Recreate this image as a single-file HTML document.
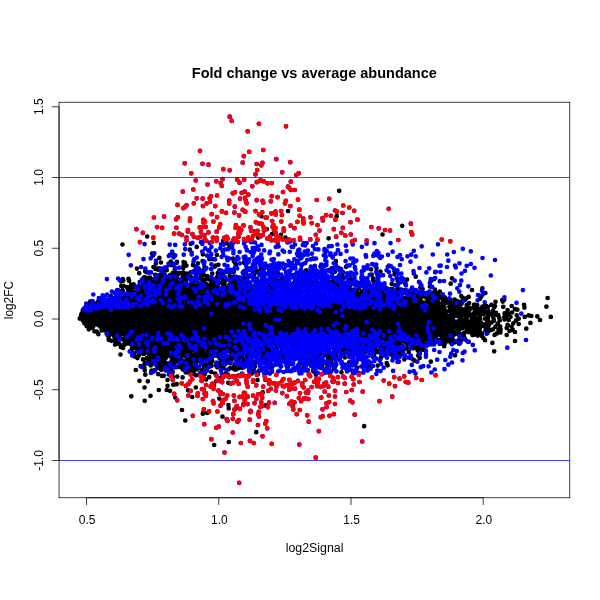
<!DOCTYPE html>
<html><head><meta charset="utf-8"><title>Fold change vs average abundance</title>
<style>
html,body{margin:0;padding:0;background:#fff;}
svg{display:block;}
text{font-family:"Liberation Sans",sans-serif;fill:#000;}
</style></head><body>
<svg width="600" height="600" viewBox="0 0 600 600">
<rect width="600" height="600" fill="#fff"/>
<g fill="none" stroke-linecap="round" stroke-width="4.7">
<path stroke="#000" d="M255.3 267.1h.01M346.1 266.8h.01M212.3 273.5h.01M233.0 258.6h.01M321.0 354.0h.01M183.7 272.6h.01M342.1 349.5h.01M459.3 308.4h.01M271.4 289.0h.01M298.7 364.7h.01M328.0 277.0h.01M283.4 361.3h.01M334.0 351.5h.01M89.6 306.4h.01M213.4 283.2h.01M276.2 356.4h.01M454.2 302.6h.01M396.5 290.4h.01M329.0 366.7h.01M350.5 289.3h.01M169.4 281.2h.01M461.0 340.7h.01M469.1 303.1h.01M455.4 322.3h.01M390.9 354.5h.01M217.8 273.1h.01M329.1 357.7h.01M361.3 282.1h.01M413.8 333.7h.01M96.4 324.3h.01M258.2 271.1h.01M420.3 287.5h.01M210.0 363.6h.01M404.4 292.9h.01M385.4 294.9h.01M158.6 275.7h.01M303.3 367.9h.01M454.6 342.5h.01M354.6 363.1h.01M380.5 289.9h.01M276.0 344.3h.01M458.3 301.6h.01M334.9 271.7h.01M133.6 284.3h.01M330.0 282.2h.01M122.8 279.2h.01M265.3 405.4h.01M348.5 280.2h.01M396.2 306.2h.01M286.1 272.4h.01M331.6 268.4h.01M465.0 325.5h.01M386.5 288.3h.01M498.5 329.7h.01M219.3 398.6h.01M188.4 361.5h.01M254.6 272.9h.01M455.9 311.0h.01M491.3 322.6h.01M327.9 359.3h.01M251.3 359.5h.01M394.6 354.4h.01M177.1 273.8h.01M430.7 281.2h.01M125.6 337.2h.01M343.1 272.4h.01M335.9 261.2h.01M120.9 281.3h.01M374.5 358.7h.01M220.7 359.5h.01M485.1 318.7h.01M230.2 368.2h.01M185.3 356.3h.01M407.0 279.6h.01M281.7 359.1h.01M368.3 367.7h.01M326.5 354.2h.01M343.3 278.4h.01M128.5 278.9h.01M484.0 310.1h.01M165.5 358.3h.01M453.9 306.3h.01M465.2 315.3h.01M155.4 269.0h.01M421.7 345.7h.01M163.8 270.9h.01M398.7 352.9h.01M326.9 372.2h.01M205.0 269.4h.01M101.6 327.7h.01M211.2 371.9h.01M153.4 282.9h.01M444.9 343.3h.01M204.9 373.8h.01M235.7 280.4h.01M163.4 273.1h.01M435.3 293.9h.01M120.8 347.0h.01M223.2 368.5h.01M249.9 291.4h.01M307.9 370.1h.01M455.9 316.0h.01M361.7 292.4h.01M190.7 361.6h.01M201.1 360.5h.01M436.8 323.7h.01M213.7 285.3h.01M202.9 254.3h.01M390.1 348.7h.01M168.8 374.5h.01M251.9 373.4h.01M132.7 352.6h.01M440.9 339.6h.01M129.1 343.5h.01M333.7 368.6h.01M441.0 335.6h.01M414.9 347.7h.01M441.7 334.3h.01M221.5 359.5h.01M417.8 350.6h.01M172.7 377.1h.01M182.6 276.7h.01M312.5 281.9h.01M434.9 289.7h.01M402.6 352.2h.01M182.6 377.4h.01M124.9 338.7h.01M411.8 332.9h.01M186.5 279.5h.01M199.9 373.3h.01M170.8 261.5h.01M484.6 313.6h.01M143.4 278.0h.01M228.6 369.3h.01M348.3 350.5h.01M189.1 369.0h.01M148.8 277.9h.01M265.8 341.2h.01M82.8 311.8h.01M290.1 360.3h.01M195.6 276.5h.01M140.0 288.5h.01M400.8 282.1h.01M230.1 356.9h.01M492.4 342.9h.01M206.1 379.6h.01M191.0 289.5h.01M81.3 314.3h.01M444.9 338.4h.01M148.4 363.1h.01M261.4 353.2h.01M465.4 339.6h.01M314.9 273.6h.01M243.8 361.1h.01M233.7 272.0h.01M475.0 314.8h.01M397.3 350.1h.01M172.5 372.7h.01M209.4 259.2h.01M98.4 324.9h.01M456.4 300.8h.01M161.4 369.8h.01M408.1 292.0h.01M436.6 341.8h.01M119.7 335.0h.01M157.3 350.0h.01M346.5 347.6h.01M231.5 353.4h.01M153.0 255.5h.01M231.9 349.6h.01M476.3 310.0h.01M466.9 326.4h.01M196.3 366.9h.01M310.6 360.9h.01M454.9 303.2h.01M375.6 352.0h.01M179.5 360.2h.01M168.7 263.5h.01M126.4 343.6h.01M467.5 316.1h.01M81.8 314.3h.01M374.1 355.6h.01M244.2 288.0h.01M479.4 314.4h.01M376.5 268.0h.01M223.2 360.9h.01M142.8 288.0h.01M152.0 253.5h.01M128.0 290.1h.01M158.8 367.1h.01M165.6 347.9h.01M449.3 311.2h.01M183.5 265.9h.01M475.4 328.0h.01M403.0 351.4h.01M483.3 312.9h.01M130.3 351.3h.01M230.5 363.3h.01M116.4 332.8h.01M143.3 282.5h.01M371.1 269.4h.01M264.4 355.1h.01M204.8 348.0h.01M90.2 301.6h.01M401.4 299.7h.01M349.2 286.9h.01M203.2 412.7h.01M394.2 341.5h.01M327.7 364.9h.01M500.6 329.5h.01M193.5 271.3h.01M418.7 350.2h.01M480.0 298.8h.01M226.6 243.2h.01M140.7 366.2h.01M432.4 300.5h.01M368.0 293.9h.01M136.5 349.1h.01M437.7 301.3h.01M485.0 340.2h.01M434.8 290.9h.01M461.9 301.6h.01M134.6 347.7h.01M446.5 323.2h.01M246.7 267.6h.01M480.3 327.0h.01M233.3 352.7h.01M215.4 265.7h.01M205.8 279.6h.01M198.8 367.7h.01M223.1 273.3h.01M153.5 267.1h.01M357.1 367.7h.01M160.9 262.5h.01M488.2 311.2h.01M420.6 347.7h.01M395.5 351.9h.01M461.3 296.0h.01M467.9 327.6h.01M177.0 261.9h.01M257.5 380.1h.01M320.6 266.8h.01M182.9 272.7h.01M236.3 359.4h.01M207.4 352.1h.01M184.5 276.1h.01M504.5 319.5h.01M288.7 280.3h.01M200.5 277.5h.01M446.2 311.3h.01M454.6 332.0h.01M234.4 369.4h.01M212.3 361.3h.01M369.0 290.7h.01M108.9 335.4h.01M117.0 290.3h.01M478.5 328.3h.01M203.1 273.1h.01M183.1 277.9h.01M215.8 365.3h.01M360.1 294.4h.01M174.7 269.7h.01M381.0 357.4h.01M176.4 367.1h.01M108.7 339.8h.01M286.3 286.7h.01M315.9 359.2h.01M458.2 329.1h.01M490.5 330.2h.01M504.6 313.4h.01M479.6 329.9h.01M479.8 316.2h.01M138.7 355.7h.01M383.1 290.2h.01M476.9 327.3h.01M209.6 285.0h.01M438.3 303.2h.01M463.8 334.5h.01M213.9 385.2h.01M123.5 339.8h.01M309.0 351.1h.01M134.4 356.5h.01M445.4 322.5h.01M474.2 334.7h.01M479.6 323.5h.01M466.7 319.7h.01M157.8 275.8h.01M340.9 276.6h.01M391.9 351.0h.01M167.6 354.3h.01M285.7 265.3h.01M196.6 356.5h.01M221.2 288.7h.01M202.8 270.6h.01M471.0 325.5h.01M448.7 340.6h.01M220.9 275.4h.01M124.0 344.9h.01M161.3 276.8h.01M384.4 298.9h.01M441.2 333.3h.01M466.7 305.0h.01M472.6 328.1h.01M178.2 354.8h.01M218.4 264.8h.01M269.3 381.7h.01M203.5 282.8h.01M342.7 276.5h.01M166.5 276.9h.01M412.8 290.9h.01M82.8 310.3h.01M441.3 324.5h.01M458.0 312.8h.01M478.7 308.8h.01M314.1 280.6h.01M253.5 279.1h.01M189.4 288.6h.01M182.5 363.5h.01M472.3 329.9h.01M233.8 285.8h.01M210.4 286.0h.01M335.0 354.9h.01M150.8 365.4h.01M420.8 301.7h.01M430.4 295.8h.01M351.6 349.4h.01M294.9 288.5h.01M125.7 340.0h.01M394.4 270.9h.01M380.4 344.0h.01M370.2 294.7h.01M421.6 296.9h.01M236.9 351.6h.01M377.2 351.0h.01M483.2 314.2h.01M123.3 280.6h.01M363.4 364.8h.01M154.9 279.6h.01M196.6 369.4h.01M195.9 364.4h.01M450.0 310.7h.01M228.8 286.4h.01M422.7 343.3h.01M397.3 286.2h.01M475.3 324.7h.01M277.3 355.4h.01M463.5 322.5h.01M136.9 268.6h.01M293.5 283.2h.01M219.3 363.1h.01M252.4 286.6h.01M142.9 282.9h.01M161.9 279.7h.01M193.7 373.2h.01M429.9 286.4h.01M421.2 337.7h.01M134.4 353.3h.01M196.6 357.3h.01M448.7 325.6h.01M239.3 277.5h.01M449.4 306.7h.01M136.6 344.4h.01M134.8 300.2h.01M412.9 346.8h.01M221.5 283.0h.01M417.1 346.2h.01M165.3 353.2h.01M338.5 267.9h.01M433.0 338.5h.01M436.0 336.7h.01M391.6 348.7h.01M337.2 284.1h.01M183.2 367.8h.01M159.2 352.4h.01M193.8 355.3h.01M170.3 265.0h.01M493.8 320.8h.01M206.3 284.0h.01M451.8 303.8h.01M113.9 336.0h.01M170.2 275.2h.01M215.2 373.6h.01M123.8 334.3h.01M126.7 299.1h.01M149.2 355.1h.01M191.5 286.7h.01M235.1 262.8h.01M227.6 341.0h.01M430.2 320.9h.01M475.6 320.2h.01M234.9 365.6h.01M218.2 283.8h.01M448.4 316.2h.01M408.5 302.7h.01M168.3 301.2h.01M333.3 271.8h.01M386.6 337.1h.01M93.5 325.1h.01M437.0 322.7h.01M157.7 287.4h.01M362.1 284.5h.01M422.9 349.8h.01M282.1 349.7h.01M211.0 281.3h.01M474.3 312.9h.01M344.8 357.5h.01M398.6 290.3h.01M341.5 273.4h.01M156.7 280.9h.01M220.8 377.8h.01M173.8 363.6h.01M88.8 329.3h.01M407.3 294.1h.01M199.3 353.4h.01M475.3 311.1h.01M171.2 368.2h.01M246.8 358.1h.01M272.2 359.6h.01M267.3 363.1h.01M356.6 285.5h.01M487.8 307.0h.01M214.5 282.8h.01M143.1 284.2h.01M176.5 263.0h.01M193.2 367.8h.01M441.8 297.4h.01M436.1 339.8h.01M451.0 333.2h.01M463.8 336.2h.01M484.0 308.4h.01M463.6 321.5h.01M102.7 325.6h.01M484.2 326.2h.01M163.6 355.0h.01M130.5 286.7h.01M225.0 364.5h.01M462.7 309.3h.01M457.9 333.4h.01M329.9 353.1h.01M216.3 381.1h.01M166.8 363.4h.01M210.8 353.6h.01M447.4 334.6h.01M181.1 280.9h.01M373.2 280.8h.01M252.7 356.4h.01M433.5 323.7h.01M331.9 359.3h.01M223.7 359.4h.01M442.2 334.7h.01M193.1 349.7h.01M117.8 343.7h.01M235.8 349.1h.01M426.1 293.1h.01M227.9 344.1h.01M417.1 348.9h.01M225.1 352.9h.01M387.6 365.3h.01M228.1 346.2h.01M114.7 331.7h.01M288.7 304.0h.01M350.1 351.6h.01M358.9 288.4h.01M484.0 306.1h.01M494.3 307.2h.01M179.4 356.7h.01M411.9 306.5h.01M176.4 352.4h.01M469.7 314.2h.01M229.1 348.0h.01M474.0 321.7h.01M145.2 271.3h.01M234.2 286.7h.01M197.8 278.9h.01M483.0 324.3h.01M419.0 302.6h.01M405.7 341.9h.01M452.8 318.8h.01M397.1 305.7h.01M426.5 297.9h.01M451.7 326.0h.01M154.4 298.7h.01M488.8 325.2h.01M249.3 351.7h.01M197.1 361.6h.01M179.0 357.9h.01M150.1 277.6h.01M430.8 323.2h.01M149.1 272.5h.01M474.4 304.7h.01M81.1 315.8h.01M445.4 312.9h.01M106.2 330.7h.01M111.5 340.8h.01M183.5 262.0h.01M196.2 375.3h.01M187.5 364.3h.01M238.5 361.7h.01M467.8 323.0h.01M171.7 361.7h.01M120.5 291.0h.01M397.7 280.7h.01M477.4 329.4h.01M471.6 319.4h.01M438.2 293.1h.01M150.2 354.1h.01M293.8 344.2h.01M346.1 299.6h.01M141.9 285.0h.01M160.8 357.6h.01M387.5 295.6h.01M156.7 285.0h.01M419.7 358.1h.01M265.9 293.0h.01M477.2 328.5h.01M294.4 342.4h.01M203.8 366.9h.01M180.8 357.9h.01M262.7 392.4h.01M166.0 352.1h.01M165.9 281.0h.01M445.0 322.8h.01M98.0 301.5h.01M298.6 276.9h.01M196.7 246.9h.01M372.0 312.6h.01M338.4 286.6h.01M371.7 274.7h.01M124.6 324.8h.01M276.5 280.0h.01M399.7 342.8h.01M256.9 358.5h.01M378.0 344.4h.01M166.9 351.4h.01M417.3 307.1h.01M464.9 300.0h.01M497.0 333.3h.01M138.6 344.9h.01M300.1 361.1h.01M253.2 361.5h.01M167.7 283.5h.01M248.1 292.6h.01M233.9 261.3h.01M147.4 281.5h.01M209.9 279.7h.01M461.2 318.7h.01M228.6 340.5h.01M420.6 299.8h.01M423.7 339.8h.01M208.7 328.2h.01M202.8 372.3h.01M405.5 298.5h.01M182.3 360.7h.01M466.7 328.9h.01M211.3 365.9h.01M448.4 331.0h.01M481.3 323.2h.01M443.1 323.0h.01M381.9 295.0h.01M463.3 321.7h.01M209.2 377.2h.01M200.8 275.9h.01M211.0 349.1h.01M446.3 315.5h.01M408.7 352.1h.01M272.2 366.4h.01M272.9 273.0h.01M457.2 321.6h.01M160.8 369.2h.01M456.5 327.5h.01M386.7 363.2h.01M134.6 341.8h.01M135.1 338.9h.01M417.6 333.0h.01M185.7 372.3h.01M198.1 272.9h.01M473.0 322.5h.01M499.4 318.2h.01M474.4 309.0h.01M493.3 317.7h.01M157.4 368.0h.01M493.0 329.3h.01M480.2 313.3h.01M504.2 299.7h.01M137.2 351.0h.01M163.2 351.8h.01M450.1 302.6h.01M406.8 330.9h.01M177.1 361.0h.01M398.5 340.2h.01M464.5 338.2h.01M299.0 275.3h.01M496.0 312.8h.01M266.9 345.5h.01M217.9 281.9h.01M273.2 277.6h.01M211.6 289.6h.01M160.2 360.6h.01M333.4 280.2h.01M418.0 304.7h.01M298.4 289.3h.01M226.9 349.4h.01M418.4 339.0h.01M394.6 355.0h.01M500.4 332.4h.01M228.5 362.3h.01M227.5 288.9h.01M442.9 324.9h.01M418.1 297.5h.01M480.5 322.0h.01M186.9 359.3h.01M210.0 347.9h.01M236.1 264.8h.01M250.1 288.2h.01M236.2 330.0h.01M247.1 327.4h.01M364.9 300.5h.01M166.0 286.4h.01M429.8 319.0h.01M502.2 300.2h.01M154.2 315.2h.01M166.4 335.8h.01M131.6 336.3h.01M458.6 304.6h.01M158.4 280.8h.01M407.2 303.9h.01M230.1 347.2h.01M344.0 298.4h.01M83.4 312.0h.01M453.0 319.4h.01M229.7 275.8h.01M181.3 367.6h.01M407.2 344.0h.01M126.8 287.1h.01M453.2 329.0h.01M182.1 301.8h.01M451.8 304.4h.01M212.6 259.1h.01M382.9 338.2h.01M436.3 329.6h.01M406.7 341.6h.01M413.6 336.5h.01M475.3 311.3h.01M178.7 351.7h.01M212.7 280.6h.01M198.4 359.6h.01M373.1 342.4h.01M385.8 340.6h.01M105.0 327.7h.01M181.4 301.2h.01M122.2 298.2h.01M487.9 327.7h.01M453.0 339.8h.01M256.8 278.9h.01M110.0 332.6h.01M132.0 348.3h.01M143.0 359.4h.01M93.1 326.8h.01M429.8 318.5h.01M427.7 321.0h.01M257.9 334.1h.01M411.6 307.6h.01M202.6 261.2h.01M466.4 298.3h.01M86.6 326.1h.01M313.3 371.5h.01M453.7 341.5h.01M447.8 326.2h.01M224.3 359.0h.01M298.9 365.4h.01M182.6 341.5h.01M444.2 326.3h.01M424.0 321.5h.01M362.2 291.4h.01M482.4 306.7h.01M169.4 364.4h.01M115.1 344.6h.01M185.0 364.6h.01M368.9 310.4h.01M268.4 345.3h.01M116.1 294.4h.01M456.0 306.5h.01M153.5 354.7h.01M84.3 323.2h.01M184.9 262.6h.01M290.3 326.2h.01M259.0 370.7h.01M216.1 295.5h.01M219.3 365.0h.01M397.8 344.6h.01M153.1 279.3h.01M343.3 355.8h.01M433.0 329.9h.01M218.1 305.2h.01M430.5 328.7h.01M493.9 320.0h.01M153.8 341.4h.01M475.9 313.3h.01M392.3 326.6h.01M163.1 354.7h.01M172.8 273.1h.01M357.0 282.8h.01M180.6 338.6h.01M137.2 345.5h.01M354.8 290.2h.01M504.3 317.0h.01M374.1 297.9h.01M377.2 351.9h.01M418.5 300.4h.01M160.4 362.5h.01M488.1 323.3h.01M162.7 364.4h.01M103.6 307.3h.01M158.9 354.2h.01M438.0 332.9h.01M461.3 325.5h.01M195.9 267.9h.01M219.8 358.3h.01M228.0 344.6h.01M184.0 350.3h.01M409.7 331.7h.01M218.1 275.2h.01M166.3 339.3h.01M196.1 304.0h.01M283.2 281.0h.01M287.3 307.5h.01M399.1 299.4h.01M209.6 315.3h.01M428.1 317.5h.01M427.1 321.6h.01M125.9 324.0h.01M159.0 359.2h.01M200.1 354.8h.01M470.4 308.2h.01M91.8 301.7h.01M116.6 341.9h.01M100.3 304.0h.01M399.2 295.4h.01M216.6 299.6h.01M171.7 279.0h.01M386.2 338.9h.01M207.7 329.2h.01M462.5 297.7h.01M500.2 326.5h.01M138.0 286.9h.01M412.6 315.3h.01M475.2 317.1h.01M201.9 277.4h.01M462.1 328.2h.01M202.9 326.0h.01M289.5 306.9h.01M353.1 290.0h.01M410.9 302.1h.01M428.9 296.1h.01M129.1 280.9h.01M365.8 345.8h.01M149.7 350.7h.01M369.5 314.5h.01M476.5 332.3h.01M477.6 330.9h.01M206.8 348.4h.01M196.0 352.5h.01M190.8 363.0h.01M455.8 310.6h.01M425.1 324.2h.01M246.8 270.0h.01M495.4 326.7h.01M146.9 358.1h.01M164.6 359.5h.01M221.3 272.2h.01M279.7 280.5h.01M130.8 290.2h.01M290.9 344.8h.01M363.7 290.5h.01M144.9 295.4h.01M217.4 308.7h.01M321.9 354.2h.01M384.9 348.6h.01M175.0 281.6h.01M410.0 301.6h.01M441.1 343.6h.01M437.3 302.0h.01M250.5 329.4h.01M468.6 332.2h.01M233.4 356.1h.01M332.5 291.4h.01M371.5 297.9h.01M179.1 366.8h.01M133.5 347.4h.01M472.5 324.1h.01M370.5 325.7h.01M434.5 296.2h.01M184.9 281.8h.01M226.5 280.0h.01M366.1 357.2h.01M346.6 315.5h.01M337.7 351.6h.01M217.3 367.3h.01M196.4 288.7h.01M126.4 323.6h.01M163.8 364.2h.01M448.8 320.5h.01M188.0 288.8h.01M464.0 313.9h.01M247.1 327.3h.01M217.7 356.1h.01M335.3 284.2h.01M156.0 354.1h.01M468.6 296.9h.01M135.9 300.5h.01M384.8 299.2h.01M422.6 289.1h.01M443.3 332.6h.01M400.6 289.5h.01M464.2 326.8h.01M133.3 343.3h.01M163.0 289.0h.01M155.9 318.6h.01M205.5 365.5h.01M350.7 278.9h.01M403.9 308.4h.01M214.2 285.7h.01M162.7 358.2h.01M103.4 330.2h.01M478.0 320.6h.01M155.9 263.6h.01M327.6 356.8h.01M243.0 360.8h.01M317.8 316.3h.01M459.6 320.0h.01M243.4 350.7h.01M440.2 326.3h.01M480.2 319.0h.01M190.9 292.5h.01M287.8 367.0h.01M216.5 300.4h.01M148.5 348.8h.01M138.4 288.8h.01M403.3 341.5h.01M226.7 272.0h.01M151.2 317.2h.01M201.4 363.2h.01M430.0 344.0h.01M189.7 284.7h.01M334.4 310.2h.01M209.6 357.0h.01M241.2 280.5h.01M464.1 332.9h.01M190.7 361.0h.01M310.4 355.1h.01M217.4 341.1h.01M480.0 312.2h.01M470.2 328.6h.01M291.3 316.6h.01M153.4 371.6h.01M171.0 318.1h.01M460.0 326.5h.01M321.5 359.4h.01M209.1 308.3h.01M382.4 292.5h.01M190.6 352.9h.01M163.7 285.6h.01M488.7 329.9h.01M415.7 276.7h.01M423.9 296.1h.01M485.5 330.3h.01M437.1 333.3h.01M208.8 326.5h.01M184.3 304.3h.01M89.7 303.6h.01M327.0 333.7h.01M273.7 288.7h.01M202.7 303.6h.01M111.1 323.4h.01M213.4 355.9h.01M238.3 326.0h.01M135.9 299.9h.01M253.4 349.0h.01M177.0 297.6h.01M96.5 322.3h.01M452.2 337.0h.01M200.6 300.8h.01M179.4 272.8h.01M204.6 357.5h.01M391.7 284.0h.01M404.3 359.5h.01M193.4 355.0h.01M236.1 328.2h.01M394.5 274.3h.01M488.0 318.4h.01M473.0 334.3h.01M151.5 370.7h.01M167.4 368.7h.01M434.5 297.1h.01M407.1 348.0h.01M254.0 362.1h.01M116.0 324.3h.01M412.5 315.8h.01M230.3 383.5h.01M128.3 332.9h.01M437.5 326.8h.01M216.6 311.6h.01M373.2 323.2h.01M230.7 282.4h.01M444.5 307.6h.01M209.4 305.3h.01M115.0 323.6h.01M195.4 304.6h.01M97.3 316.2h.01M371.7 319.3h.01M127.6 323.0h.01M442.3 316.8h.01M318.2 320.9h.01M324.1 363.1h.01M214.9 308.4h.01M158.4 280.3h.01M144.6 353.6h.01M445.4 314.9h.01M421.1 320.8h.01M193.1 291.5h.01M184.5 305.6h.01M337.2 303.9h.01M163.8 329.8h.01M260.9 268.6h.01M450.7 316.1h.01M90.7 328.1h.01M172.4 253.4h.01M423.7 329.8h.01M438.7 327.3h.01M332.0 306.3h.01M447.6 319.0h.01M365.3 335.2h.01M228.8 350.1h.01M410.9 298.3h.01M439.8 313.5h.01M201.7 370.4h.01M166.6 356.9h.01M194.6 306.7h.01M402.8 301.2h.01M444.8 297.3h.01M166.2 330.9h.01M453.1 325.4h.01M225.7 373.3h.01M130.6 344.2h.01M102.4 304.9h.01M210.5 315.2h.01M394.0 339.9h.01M124.7 343.6h.01M152.2 347.9h.01M148.0 285.8h.01M134.2 287.1h.01M204.2 347.9h.01M487.6 332.8h.01M364.8 338.4h.01M392.5 344.1h.01M193.6 342.8h.01M157.2 356.0h.01M363.5 343.2h.01M410.7 323.8h.01M426.4 334.0h.01M263.5 341.3h.01M495.3 314.2h.01M393.9 306.0h.01M253.4 355.9h.01M384.3 335.8h.01M199.8 345.1h.01M277.8 347.8h.01M369.5 331.2h.01M234.4 366.5h.01M183.2 268.1h.01M197.8 345.0h.01M121.6 297.6h.01M391.4 323.4h.01M435.2 322.0h.01M332.8 313.1h.01M153.4 357.7h.01M423.6 293.3h.01M163.8 307.0h.01M242.4 367.8h.01M483.0 325.7h.01M219.8 291.4h.01M183.2 298.5h.01M461.3 303.9h.01M392.9 327.7h.01M441.6 327.5h.01M292.5 323.0h.01M162.3 309.4h.01M351.3 317.8h.01M166.9 365.4h.01M233.4 352.9h.01M131.7 344.1h.01M388.5 342.8h.01M293.8 324.0h.01M255.0 318.1h.01M90.5 314.4h.01M236.8 285.9h.01M275.4 279.4h.01M490.9 314.4h.01M99.5 325.4h.01M455.2 308.1h.01M162.1 304.0h.01M413.0 348.3h.01M413.2 295.1h.01M268.4 349.3h.01M217.9 341.9h.01M174.8 285.8h.01M90.7 321.0h.01M415.2 339.3h.01M79.7 318.6h.01M226.7 292.8h.01M214.5 283.2h.01M263.9 272.5h.01M342.2 299.9h.01M139.2 347.8h.01M351.4 349.8h.01M188.4 308.3h.01M262.7 338.3h.01M183.0 319.4h.01M486.4 306.1h.01M82.2 317.7h.01M207.9 352.6h.01M384.3 330.3h.01M451.6 308.7h.01M99.9 326.5h.01M404.3 320.3h.01M281.9 276.9h.01M132.8 338.4h.01M209.9 365.7h.01M369.2 295.2h.01M461.1 312.5h.01M443.2 314.2h.01M154.6 295.5h.01M419.2 301.4h.01M206.0 354.8h.01M401.0 297.3h.01M172.6 273.7h.01M446.5 341.5h.01M168.3 363.7h.01M273.3 358.2h.01M476.6 330.7h.01M310.3 284.5h.01M203.3 342.2h.01M158.6 297.5h.01M275.4 342.4h.01M179.4 338.8h.01M112.7 323.0h.01M279.3 352.5h.01M456.8 323.4h.01M82.9 320.4h.01M365.7 339.2h.01M216.8 255.0h.01M404.4 290.4h.01M201.7 328.8h.01M155.2 350.5h.01M187.1 348.5h.01M289.7 303.7h.01M388.8 339.7h.01M361.1 302.6h.01M245.1 278.8h.01M146.0 299.4h.01M155.3 289.5h.01M415.6 307.3h.01M331.9 363.7h.01M280.4 361.2h.01M125.4 297.0h.01M331.1 305.4h.01M233.5 329.3h.01M215.4 285.6h.01M189.7 354.9h.01M203.4 324.0h.01M323.3 356.0h.01M145.0 299.3h.01M333.2 315.7h.01M292.8 318.4h.01M105.2 311.7h.01M397.9 303.2h.01M284.3 284.2h.01M299.4 308.1h.01M268.6 294.4h.01M204.1 288.5h.01M460.1 334.2h.01M379.1 341.6h.01M312.1 314.4h.01M206.9 364.5h.01M151.0 346.2h.01M412.6 336.2h.01M430.6 303.7h.01M372.6 355.9h.01M156.5 354.4h.01M204.6 267.1h.01M428.1 292.8h.01M228.4 405.1h.01M243.9 262.7h.01M366.6 319.3h.01M429.2 298.6h.01M446.5 320.8h.01M187.0 303.3h.01M169.5 351.5h.01M165.8 298.0h.01M168.3 337.3h.01M443.6 332.1h.01M354.2 364.4h.01M499.7 320.5h.01M466.4 308.2h.01M459.8 306.2h.01M379.4 346.6h.01M265.5 379.9h.01M251.7 349.6h.01M199.7 321.2h.01M201.7 339.1h.01M184.3 340.9h.01M151.1 281.9h.01M408.9 332.5h.01M440.6 317.6h.01M157.4 310.8h.01M471.2 329.0h.01M102.1 298.3h.01M229.5 245.8h.01M224.1 300.8h.01M198.2 285.8h.01M148.0 344.0h.01M394.8 323.6h.01M105.5 320.0h.01M183.3 305.8h.01M424.3 308.1h.01M151.8 344.1h.01M241.5 310.9h.01M177.2 376.6h.01M138.9 350.4h.01M156.5 314.8h.01M267.7 360.3h.01M213.9 337.3h.01M162.1 333.5h.01M279.8 362.6h.01M139.6 299.6h.01M472.7 320.0h.01M498.3 315.2h.01M402.3 306.2h.01M103.2 323.9h.01M84.5 312.0h.01M171.0 351.4h.01M117.1 319.8h.01M197.1 347.2h.01M397.9 313.4h.01M213.0 288.5h.01M283.7 278.4h.01M159.0 300.9h.01M472.5 335.1h.01M242.3 283.3h.01M467.0 316.6h.01M308.7 349.5h.01M214.9 310.3h.01M459.5 336.0h.01M214.6 297.4h.01M204.7 304.2h.01M429.6 298.3h.01M155.6 343.9h.01M425.5 350.5h.01M412.2 337.2h.01M166.4 267.6h.01M233.8 367.2h.01M208.2 349.0h.01M363.1 325.5h.01M379.7 333.6h.01M208.9 338.3h.01M354.1 317.5h.01M398.2 301.7h.01M186.0 282.7h.01M240.6 279.4h.01M452.6 318.6h.01M193.1 346.0h.01M284.8 327.0h.01M386.7 310.4h.01M292.1 268.4h.01M374.0 351.5h.01M419.4 329.9h.01M427.8 338.2h.01M419.2 353.6h.01M188.5 347.7h.01M396.5 343.5h.01M263.9 348.8h.01M121.2 300.9h.01M256.0 282.2h.01M256.1 328.6h.01M236.2 322.7h.01M104.1 309.3h.01M161.1 289.7h.01M147.4 347.9h.01M102.7 299.3h.01M387.1 348.0h.01M303.9 364.1h.01M162.1 292.4h.01M179.9 336.9h.01M223.6 376.9h.01M232.6 286.1h.01M208.3 367.2h.01M361.4 327.3h.01M271.5 358.4h.01M226.2 279.7h.01M254.0 368.1h.01M164.1 361.8h.01M396.8 299.2h.01M294.1 274.9h.01M194.7 360.8h.01M145.1 293.1h.01M388.6 337.1h.01M248.4 349.8h.01M225.0 286.3h.01M160.4 324.4h.01M238.1 359.5h.01M157.6 347.3h.01M414.0 324.6h.01M169.4 318.5h.01M190.7 332.1h.01M331.7 282.3h.01M169.3 291.2h.01M223.0 277.6h.01M449.8 327.9h.01M163.9 360.3h.01M208.0 285.7h.01M93.6 320.3h.01M430.0 332.5h.01M121.3 285.9h.01M120.3 318.9h.01M196.5 328.0h.01M124.6 322.3h.01M178.2 332.8h.01M224.0 346.6h.01M389.6 329.4h.01M425.7 341.1h.01M400.9 311.0h.01M407.5 326.6h.01M216.8 277.4h.01M201.4 324.0h.01M374.1 327.6h.01M269.0 346.7h.01M214.7 266.8h.01M189.5 370.4h.01M258.0 374.1h.01M315.9 374.7h.01M434.2 320.5h.01M335.0 306.6h.01M156.4 323.9h.01M168.3 290.0h.01M185.8 320.1h.01M134.1 291.5h.01M240.2 345.4h.01M196.3 301.6h.01M287.7 322.4h.01M199.9 349.2h.01M192.9 265.0h.01M427.1 342.8h.01M156.1 301.5h.01M483.4 338.0h.01M235.6 321.8h.01M210.7 317.1h.01M268.5 359.3h.01M349.7 288.9h.01M373.1 300.7h.01M426.8 321.1h.01M263.2 311.8h.01M137.7 345.4h.01M103.9 308.7h.01M235.7 280.2h.01M434.2 342.2h.01M316.0 315.0h.01M338.2 326.8h.01M272.7 307.6h.01M215.3 338.1h.01M206.4 309.2h.01M217.7 309.1h.01M198.9 324.0h.01M473.1 315.9h.01M453.9 321.6h.01M392.3 289.1h.01M451.1 309.1h.01M203.6 274.8h.01M390.5 323.6h.01M164.5 324.9h.01M246.9 355.8h.01M134.4 334.2h.01M414.5 325.6h.01M155.5 324.9h.01M127.2 326.7h.01M336.0 308.8h.01M209.8 332.5h.01M387.9 334.4h.01M155.6 340.7h.01M104.3 326.2h.01M347.7 313.1h.01M197.4 321.3h.01M191.4 345.0h.01M372.7 322.5h.01M428.6 302.6h.01M438.4 319.9h.01M219.7 352.2h.01M256.7 316.6h.01M292.7 328.1h.01M487.0 322.2h.01M189.1 304.0h.01M175.3 343.2h.01M140.2 324.4h.01M429.3 299.6h.01M220.0 350.0h.01M330.4 291.6h.01M396.1 313.6h.01M176.2 291.3h.01M295.9 329.6h.01M414.9 304.6h.01M183.4 315.6h.01M160.0 297.4h.01M422.2 344.7h.01M231.8 337.5h.01M448.9 328.6h.01M169.6 369.5h.01M178.4 282.3h.01M414.6 322.0h.01M196.4 325.3h.01M312.7 313.7h.01M159.3 325.5h.01M172.2 341.2h.01M196.3 361.9h.01M395.9 308.8h.01M270.8 358.1h.01M181.2 301.7h.01M184.5 362.9h.01M476.6 322.8h.01M207.0 338.9h.01M279.2 314.2h.01M217.6 337.1h.01M120.2 337.8h.01M228.3 382.8h.01M382.2 349.0h.01M176.3 280.7h.01M363.0 328.3h.01M157.6 352.2h.01M270.5 290.0h.01M144.9 346.9h.01M460.5 324.2h.01M163.3 321.8h.01M243.3 347.9h.01M166.2 348.5h.01M130.0 288.9h.01M422.6 330.4h.01M239.0 329.3h.01M420.5 323.7h.01M209.5 348.0h.01M130.5 291.7h.01M118.7 332.6h.01M336.8 356.3h.01M171.8 314.3h.01M416.0 315.8h.01M184.1 354.7h.01M275.7 332.9h.01M158.6 304.6h.01M158.4 296.1h.01M383.9 301.5h.01M449.9 310.1h.01M226.9 302.5h.01M128.8 343.0h.01M185.2 308.9h.01M341.5 299.8h.01M124.3 322.2h.01M275.0 332.4h.01M162.7 336.3h.01M161.7 327.3h.01M267.1 321.7h.01M135.1 293.9h.01M133.3 309.7h.01M217.2 289.8h.01M128.5 333.8h.01M167.1 320.6h.01M256.8 350.3h.01M166.0 287.5h.01M193.9 325.9h.01M404.8 349.0h.01M167.8 324.2h.01M146.0 325.4h.01M375.5 325.3h.01M225.9 299.8h.01M124.3 334.3h.01M198.6 268.6h.01M149.4 298.4h.01M314.9 357.9h.01M468.8 341.8h.01M439.8 291.5h.01M159.5 343.4h.01M241.2 349.2h.01M94.2 322.9h.01M236.1 408.1h.01M214.3 288.0h.01M105.1 325.7h.01M122.4 309.8h.01M419.4 325.7h.01M401.2 346.3h.01M172.8 265.2h.01M202.3 291.2h.01M480.1 333.7h.01M136.8 319.6h.01M220.4 343.0h.01M179.0 362.6h.01M191.8 369.4h.01M423.9 317.6h.01M255.4 335.6h.01M432.6 317.1h.01M392.0 321.5h.01M439.2 320.2h.01M276.8 329.0h.01M377.4 289.4h.01M135.9 322.9h.01M238.3 348.0h.01M256.6 320.6h.01M444.8 319.0h.01M292.6 276.2h.01M169.2 319.5h.01M380.5 339.4h.01M230.8 300.5h.01M227.9 374.8h.01M243.6 293.4h.01M167.4 297.2h.01M432.3 336.9h.01M190.9 360.0h.01M272.0 371.6h.01M173.0 302.7h.01M427.9 326.8h.01M219.1 341.4h.01M395.2 327.9h.01M218.5 299.4h.01M238.6 311.1h.01M416.6 339.5h.01M214.6 312.0h.01M273.3 318.4h.01M429.5 329.9h.01M255.1 366.2h.01M156.3 357.4h.01M352.0 313.5h.01M168.4 287.4h.01M92.3 310.5h.01M234.6 278.5h.01M333.8 302.7h.01M156.2 319.4h.01M399.7 315.7h.01M162.7 281.5h.01M370.8 342.6h.01M482.3 310.7h.01M198.8 333.0h.01M164.7 326.7h.01M209.1 318.5h.01M183.9 306.4h.01M221.4 315.3h.01M187.2 273.5h.01M139.8 314.9h.01M209.6 325.9h.01M114.2 331.9h.01M90.9 326.1h.01M469.4 310.2h.01M382.1 331.2h.01M362.5 328.2h.01M340.7 327.3h.01M472.3 314.6h.01M227.8 351.0h.01M212.7 339.4h.01M161.6 352.7h.01M192.8 294.4h.01M341.4 372.3h.01M161.1 296.3h.01M188.0 346.2h.01M131.9 301.5h.01M199.9 327.6h.01M177.6 342.9h.01M114.3 340.4h.01M112.6 314.7h.01M311.1 318.3h.01M349.9 362.2h.01M331.5 307.6h.01M260.1 339.3h.01M166.5 294.8h.01M383.1 314.3h.01M255.3 321.0h.01M137.4 358.1h.01M275.7 362.9h.01M214.3 298.7h.01M263.9 276.5h.01M390.0 316.8h.01M204.6 292.1h.01M421.4 341.1h.01M284.5 322.5h.01M191.1 374.3h.01M300.7 305.1h.01M146.2 279.1h.01M283.1 318.6h.01M193.6 335.9h.01M387.2 297.9h.01M140.8 344.5h.01M238.7 321.3h.01M207.9 338.7h.01M319.2 306.4h.01M83.6 318.7h.01M189.0 297.8h.01M252.9 321.1h.01M368.2 319.8h.01M216.2 284.9h.01M441.0 306.5h.01M316.6 321.7h.01M281.4 320.7h.01M385.6 310.0h.01M344.4 316.7h.01M368.2 318.1h.01M441.2 309.5h.01M182.1 319.6h.01M187.3 334.5h.01M245.7 327.8h.01M435.8 335.2h.01M329.9 283.7h.01M198.3 317.2h.01M435.7 333.8h.01M213.7 350.8h.01M254.9 351.6h.01M162.3 341.0h.01M248.5 347.3h.01M188.7 337.7h.01M173.8 277.3h.01M169.6 278.8h.01M403.8 329.8h.01M459.6 307.5h.01M191.9 355.9h.01M244.2 361.3h.01M321.4 308.6h.01M87.2 326.0h.01M395.2 323.8h.01M233.8 276.7h.01M208.6 351.7h.01M398.0 334.4h.01M233.6 281.5h.01M396.2 327.5h.01M205.4 305.9h.01M154.0 370.4h.01M495.0 306.1h.01M487.9 316.4h.01M409.4 300.1h.01M420.5 336.3h.01M100.1 306.1h.01M173.1 316.0h.01M247.7 326.1h.01M217.6 355.6h.01M148.3 323.0h.01M383.2 346.5h.01M220.3 276.0h.01M359.0 352.6h.01M128.5 322.7h.01M117.5 329.1h.01M226.7 361.4h.01M195.1 327.6h.01M187.5 337.0h.01M460.0 318.7h.01M197.9 263.4h.01M305.8 316.2h.01M292.8 333.1h.01M258.4 346.5h.01M448.5 299.0h.01M158.2 364.9h.01M272.8 305.7h.01M412.4 336.3h.01M401.5 354.6h.01M312.5 325.3h.01M212.7 320.5h.01M122.3 310.5h.01M246.5 320.5h.01M208.8 357.8h.01M317.8 282.5h.01M261.8 350.3h.01M360.0 344.3h.01M136.1 319.2h.01M416.9 301.7h.01M370.5 321.9h.01M217.1 287.3h.01M223.4 285.7h.01M479.1 319.0h.01M317.8 333.6h.01M430.1 295.5h.01M366.7 335.2h.01M96.8 331.7h.01M348.9 281.1h.01M324.6 331.2h.01M236.3 292.0h.01M197.2 272.3h.01M108.0 313.0h.01M187.0 305.6h.01M161.6 346.4h.01M240.3 324.4h.01M276.9 353.3h.01M187.2 344.5h.01M380.4 335.5h.01M274.4 348.8h.01M302.4 302.7h.01M266.6 351.2h.01M396.8 319.9h.01M394.8 310.9h.01M322.8 312.1h.01M267.3 289.7h.01M319.6 315.7h.01M257.1 330.9h.01M191.6 332.1h.01M267.9 329.9h.01M245.7 365.7h.01M287.4 280.9h.01M136.5 331.7h.01M268.9 332.2h.01M200.1 294.4h.01M270.3 368.5h.01M226.7 339.3h.01M242.3 329.5h.01M159.4 290.8h.01M379.4 334.8h.01M450.0 329.0h.01M176.8 277.6h.01M182.0 355.3h.01M243.7 328.7h.01M86.3 323.4h.01M223.6 333.2h.01M186.5 317.7h.01M234.4 293.8h.01M450.2 305.7h.01M98.3 316.1h.01M404.5 327.9h.01M158.0 300.3h.01M419.0 346.6h.01M101.7 330.4h.01M226.8 294.3h.01M350.5 284.9h.01M203.0 292.6h.01M392.3 336.8h.01M284.7 320.2h.01M113.7 312.1h.01M163.3 298.2h.01M397.6 317.2h.01M301.3 333.9h.01M324.2 313.3h.01M239.3 307.2h.01M363.7 300.5h.01M237.1 283.9h.01M231.6 359.6h.01M338.1 331.6h.01M176.2 334.2h.01M191.6 320.6h.01M181.9 286.0h.01M412.8 359.3h.01M313.7 333.5h.01M254.2 274.8h.01M433.2 293.2h.01M128.3 320.4h.01M429.3 310.6h.01M299.4 310.0h.01M443.1 330.0h.01M124.5 297.1h.01M144.6 292.6h.01M222.3 317.3h.01M386.7 301.9h.01M249.5 319.7h.01M202.9 351.5h.01M244.9 319.7h.01M385.3 334.0h.01M208.6 349.9h.01M347.6 319.2h.01M298.5 312.9h.01M245.2 302.3h.01M265.8 304.6h.01M310.9 319.9h.01M308.7 319.5h.01M175.9 296.7h.01M360.6 323.9h.01M413.9 306.4h.01M162.2 284.0h.01M187.1 301.7h.01M153.6 312.8h.01M287.0 331.4h.01M130.6 327.1h.01M317.7 321.6h.01M291.5 311.7h.01M82.2 313.0h.01M161.3 273.7h.01M187.2 338.1h.01M340.0 325.1h.01M409.8 304.2h.01M443.6 320.8h.01M503.2 306.8h.01M264.6 315.4h.01M389.0 315.5h.01M368.1 314.1h.01M194.7 293.3h.01M201.8 379.9h.01M325.0 310.7h.01M348.5 318.4h.01M215.1 302.3h.01M163.9 335.0h.01M306.1 270.4h.01M294.1 315.2h.01M177.0 279.2h.01M387.9 333.8h.01M264.8 309.8h.01M196.5 336.9h.01M214.0 300.4h.01M273.5 331.1h.01M184.0 314.6h.01M394.8 308.1h.01M232.9 347.1h.01M187.7 286.3h.01M368.3 336.3h.01M425.0 323.0h.01M384.6 309.0h.01M194.7 302.8h.01M187.8 276.0h.01M364.9 352.3h.01M314.0 313.4h.01M96.2 321.6h.01M206.6 309.9h.01M168.7 295.3h.01M358.3 312.6h.01M144.6 332.9h.01M413.1 331.4h.01M144.4 367.8h.01M386.1 308.5h.01M165.0 286.0h.01M444.7 297.4h.01M217.4 304.5h.01M367.2 333.5h.01M106.8 320.2h.01M81.2 316.1h.01M238.6 350.1h.01M220.4 318.9h.01M446.2 301.3h.01M206.2 339.1h.01M263.4 343.5h.01M200.0 304.2h.01M227.1 361.5h.01M221.0 293.1h.01M129.5 334.0h.01M427.7 340.9h.01M448.4 330.8h.01M415.2 296.1h.01M139.4 346.1h.01M428.8 317.0h.01M325.0 307.4h.01M459.2 329.7h.01M197.0 314.4h.01M437.8 302.9h.01M341.7 329.1h.01M316.7 351.0h.01M377.7 365.6h.01M402.8 290.6h.01M137.6 296.6h.01M202.4 360.3h.01M445.9 303.1h.01M186.1 308.8h.01M372.5 294.6h.01M438.3 314.6h.01M359.8 325.5h.01M390.6 341.9h.01M396.9 327.3h.01M205.6 303.0h.01M421.1 317.1h.01M111.0 314.6h.01M426.9 293.8h.01M210.5 304.0h.01M154.6 324.9h.01M160.8 349.0h.01M284.4 320.5h.01M178.0 356.7h.01M237.5 320.3h.01M224.8 317.9h.01M443.7 302.1h.01M405.1 320.3h.01M149.2 284.8h.01M180.4 366.2h.01M390.3 325.1h.01M218.1 309.2h.01M207.0 318.0h.01M212.1 331.3h.01M410.8 307.7h.01M335.8 329.2h.01M190.7 272.3h.01M141.5 317.0h.01M193.2 349.3h.01M166.4 316.2h.01M386.0 334.2h.01M441.1 322.3h.01M126.3 318.5h.01M284.1 286.3h.01M182.7 314.1h.01M243.2 273.5h.01M329.9 324.1h.01M481.2 296.5h.01M459.1 343.7h.01M231.1 345.3h.01M438.1 340.4h.01M345.8 345.9h.01M481.1 310.9h.01M163.8 312.4h.01M451.7 337.1h.01M332.5 355.3h.01M417.5 301.6h.01M150.1 307.8h.01M211.7 303.2h.01M151.7 359.4h.01M215.5 327.6h.01M287.9 336.0h.01M139.2 273.2h.01M143.0 353.8h.01M151.1 313.0h.01M418.9 350.0h.01M160.5 294.0h.01M299.9 340.8h.01M137.6 311.6h.01M415.1 311.4h.01M324.4 308.7h.01M492.9 310.6h.01M358.3 322.5h.01M332.7 302.0h.01M470.8 331.8h.01M234.4 345.9h.01M437.1 332.1h.01M187.0 286.4h.01M203.9 295.6h.01M425.9 320.5h.01M137.3 328.6h.01M140.3 301.3h.01M179.5 292.9h.01M426.1 312.9h.01M201.9 345.9h.01M258.6 335.4h.01M290.4 331.3h.01M122.7 327.5h.01M195.3 361.3h.01M394.1 321.0h.01M115.5 336.6h.01M402.0 319.9h.01M190.2 299.7h.01M239.2 294.5h.01M167.1 312.0h.01M381.0 315.0h.01M188.2 365.6h.01M192.9 361.1h.01M211.2 362.4h.01M386.0 322.1h.01M276.8 349.3h.01M150.1 362.5h.01M336.7 307.0h.01M181.6 349.7h.01M234.7 289.7h.01M118.0 309.3h.01M129.9 333.3h.01M223.9 344.6h.01M150.3 322.4h.01M233.4 328.0h.01M328.1 324.3h.01M236.0 369.4h.01M243.6 360.4h.01M179.9 336.8h.01M128.7 336.0h.01M207.3 313.8h.01M440.0 297.5h.01M121.7 326.4h.01M224.1 342.1h.01M338.2 303.9h.01M155.2 315.2h.01M214.1 313.5h.01M169.1 298.0h.01M392.9 332.5h.01M291.6 314.7h.01M195.5 328.0h.01M176.0 333.1h.01M185.2 341.1h.01M431.1 334.4h.01M452.2 326.4h.01M217.4 313.9h.01M367.2 282.2h.01M128.6 327.2h.01M391.6 316.2h.01M286.8 278.3h.01M290.8 344.1h.01M180.9 295.3h.01M411.2 327.2h.01M434.5 311.9h.01M414.3 320.8h.01M450.1 339.0h.01M140.5 311.3h.01M199.4 302.2h.01M184.4 312.9h.01M186.9 353.0h.01M178.2 273.9h.01M287.1 318.0h.01M414.1 308.1h.01M251.4 338.5h.01M401.7 319.9h.01M397.6 324.2h.01M424.3 332.8h.01M277.3 307.1h.01M403.0 321.7h.01M143.6 309.2h.01M359.4 304.9h.01M362.6 321.1h.01M454.2 322.0h.01M171.1 344.1h.01M404.7 324.3h.01M362.6 292.6h.01M207.3 365.6h.01M358.6 310.6h.01M397.8 309.3h.01M454.6 299.5h.01M208.6 350.2h.01M245.0 324.5h.01M115.9 339.2h.01M408.3 331.0h.01M215.1 318.3h.01M374.8 327.0h.01M282.5 355.8h.01M301.8 307.8h.01M219.1 329.5h.01M156.3 283.6h.01M216.2 292.6h.01M257.0 316.0h.01M387.6 314.3h.01M177.9 302.6h.01M433.8 316.3h.01M415.5 320.8h.01M176.2 297.0h.01M332.9 316.4h.01M384.4 312.3h.01M369.0 307.8h.01M490.1 313.5h.01M293.6 317.8h.01M365.6 347.5h.01M309.4 319.9h.01M173.2 294.0h.01M378.2 339.4h.01M301.2 309.2h.01M94.4 331.3h.01M105.0 324.0h.01M374.0 321.5h.01M372.5 333.5h.01M206.9 334.7h.01M488.9 314.3h.01M160.1 316.3h.01M286.3 292.9h.01M277.9 315.0h.01M429.0 314.5h.01M163.0 365.4h.01M259.5 347.7h.01M446.1 316.3h.01M282.3 350.2h.01M175.1 311.0h.01M254.2 322.4h.01M204.9 321.1h.01M129.7 325.5h.01M217.7 302.9h.01M222.1 288.6h.01M391.4 314.5h.01M210.3 350.6h.01M111.7 333.6h.01M379.1 312.2h.01M238.9 345.0h.01M378.7 336.6h.01M219.8 299.2h.01M232.6 346.9h.01M153.2 326.5h.01M193.2 324.5h.01M263.1 271.4h.01M487.9 319.7h.01M407.8 317.0h.01M368.1 315.1h.01M132.4 339.0h.01M166.7 278.8h.01M277.1 335.5h.01M113.7 306.8h.01M142.0 289.3h.01M160.3 284.0h.01M165.8 327.7h.01M197.3 313.5h.01M152.2 363.2h.01M142.6 346.0h.01M277.3 307.5h.01M440.3 322.3h.01M173.3 309.4h.01M415.8 341.4h.01M343.1 350.2h.01M108.0 323.0h.01M399.6 321.0h.01M161.2 338.5h.01M440.8 310.9h.01M334.6 320.9h.01M143.6 299.3h.01M259.8 339.2h.01M427.2 330.7h.01M239.8 341.6h.01M169.9 301.6h.01M169.0 319.5h.01M101.7 317.7h.01M294.0 312.9h.01M337.3 319.9h.01M310.3 322.9h.01M279.3 307.6h.01M350.5 311.3h.01M192.5 329.0h.01M291.8 314.6h.01M394.1 334.3h.01M145.0 351.0h.01M416.9 311.1h.01M164.2 325.7h.01M219.0 288.9h.01M135.3 310.4h.01M122.7 319.1h.01M368.7 321.1h.01M248.7 308.1h.01M350.8 327.0h.01M369.9 365.1h.01M141.7 325.0h.01M125.5 316.5h.01M232.8 319.0h.01M210.6 333.0h.01M202.6 353.3h.01M477.2 305.2h.01M373.9 292.4h.01M200.7 352.8h.01M140.3 341.8h.01M164.1 315.9h.01M354.9 306.6h.01M335.0 328.2h.01M405.6 322.0h.01M289.3 360.9h.01M191.4 354.6h.01M270.5 329.9h.01M440.9 317.3h.01M391.2 292.9h.01M202.2 334.1h.01M235.9 292.6h.01M141.2 315.5h.01M382.5 303.6h.01M418.3 310.0h.01M212.4 287.1h.01M120.8 328.6h.01M234.4 339.9h.01M97.7 316.1h.01M142.2 295.9h.01M246.3 297.9h.01M346.1 312.7h.01M163.5 341.4h.01M216.5 314.6h.01M341.4 333.2h.01M423.2 335.5h.01M228.6 309.3h.01M411.2 316.8h.01M386.5 307.2h.01M197.3 313.1h.01M381.9 289.3h.01M161.9 352.3h.01M117.5 323.4h.01M228.7 408.3h.01M433.1 313.4h.01M164.2 309.4h.01M174.4 300.3h.01M149.3 326.7h.01M451.9 328.5h.01M204.7 342.7h.01M223.5 367.1h.01M189.1 291.7h.01M352.9 319.6h.01M183.1 338.6h.01M397.3 310.5h.01M442.3 331.2h.01M367.9 295.0h.01M221.9 344.7h.01M342.7 302.2h.01M227.0 300.1h.01M143.2 320.2h.01M425.3 310.0h.01M469.6 315.4h.01M386.5 300.6h.01M308.8 331.1h.01M293.2 328.8h.01M168.5 325.4h.01M287.3 327.3h.01M333.6 317.6h.01M389.4 311.2h.01M373.8 334.5h.01M218.0 316.4h.01M410.2 316.7h.01M287.2 370.9h.01M117.7 309.2h.01M199.6 331.3h.01M322.0 278.6h.01M387.9 305.7h.01M136.9 340.2h.01M86.9 316.9h.01M438.1 311.2h.01M386.9 294.1h.01M422.6 320.0h.01M189.1 285.1h.01M212.8 310.1h.01M408.0 335.6h.01M119.1 325.1h.01M244.5 276.0h.01M250.3 319.5h.01M139.9 320.5h.01M119.1 327.6h.01M288.9 324.1h.01M401.2 305.5h.01M141.9 340.1h.01M276.0 328.4h.01M206.8 276.5h.01M174.9 314.1h.01M205.5 312.1h.01M379.1 284.5h.01M408.3 307.6h.01M432.7 333.5h.01M183.5 292.7h.01M334.8 310.2h.01M139.0 292.7h.01M251.2 339.6h.01M382.7 288.7h.01M353.3 322.7h.01M97.4 312.4h.01M331.1 320.9h.01M171.4 286.0h.01M355.8 295.1h.01M246.3 323.6h.01M223.8 322.0h.01M290.3 320.2h.01M134.2 330.6h.01M181.4 353.4h.01M129.6 313.7h.01M238.6 375.6h.01M215.2 325.2h.01M122.7 290.4h.01M224.8 286.0h.01M192.4 314.2h.01M128.4 319.4h.01M300.8 324.6h.01M135.1 297.3h.01M350.7 282.9h.01M223.0 292.6h.01M245.0 305.3h.01M185.2 366.3h.01M121.5 332.6h.01M404.8 315.8h.01M264.0 303.7h.01M204.6 315.5h.01M220.3 353.8h.01M338.6 290.9h.01M119.6 315.3h.01M321.3 335.1h.01M405.2 283.6h.01M122.6 339.2h.01M340.2 287.1h.01M224.8 318.5h.01M82.4 315.7h.01M141.1 353.2h.01M345.8 303.6h.01M361.8 344.2h.01M224.5 283.1h.01M195.4 281.0h.01M281.9 331.0h.01M186.9 297.3h.01M166.8 330.3h.01M178.1 312.7h.01M206.2 289.5h.01M358.9 330.1h.01M173.9 344.7h.01M281.5 322.0h.01M248.7 288.6h.01M428.1 316.9h.01M199.6 329.9h.01M171.6 360.5h.01M165.8 333.5h.01M347.6 327.3h.01M318.4 327.5h.01M198.2 284.3h.01M434.9 331.0h.01M416.5 304.2h.01M105.6 318.5h.01M468.1 307.5h.01M296.9 291.5h.01M215.7 294.4h.01M157.8 321.1h.01M166.0 308.5h.01M427.8 308.3h.01M366.2 290.8h.01M145.4 336.9h.01M409.4 322.6h.01M160.0 330.4h.01M314.3 311.3h.01M245.7 307.7h.01M314.6 335.9h.01M148.8 352.5h.01M222.6 338.9h.01M144.3 320.3h.01M193.4 371.3h.01M172.7 320.2h.01M179.0 290.8h.01M190.0 325.0h.01M370.8 340.5h.01M163.0 352.9h.01M183.6 322.4h.01M182.0 334.4h.01M434.3 308.1h.01M120.1 306.5h.01M134.2 329.3h.01M162.5 325.6h.01M273.1 308.5h.01M321.9 367.0h.01M244.7 309.7h.01M187.1 296.1h.01M160.2 320.8h.01M218.2 355.3h.01M175.9 309.7h.01M313.8 355.7h.01M248.1 347.3h.01M380.8 296.3h.01M228.2 295.4h.01M208.0 291.2h.01M409.5 295.3h.01M122.3 318.0h.01M413.3 295.9h.01M219.2 270.7h.01M197.6 294.0h.01M414.2 326.5h.01M149.7 322.0h.01M114.9 307.2h.01M202.8 363.1h.01M327.5 309.2h.01M124.4 331.0h.01M201.1 305.5h.01M158.9 268.4h.01M236.3 319.9h.01M312.1 335.7h.01M178.4 326.2h.01M97.7 317.5h.01M181.7 349.0h.01M343.4 312.6h.01M145.3 330.0h.01M386.1 327.9h.01M131.9 323.3h.01M187.0 316.3h.01M149.6 321.4h.01M191.3 335.7h.01M261.7 356.4h.01M398.7 304.6h.01M147.6 307.0h.01M229.2 342.1h.01M202.6 356.3h.01M111.9 321.9h.01M230.7 298.8h.01M133.8 345.9h.01M134.0 332.3h.01M129.4 321.4h.01M229.6 360.2h.01M447.3 337.2h.01M413.4 330.8h.01M152.0 333.8h.01M195.2 296.8h.01M152.1 307.9h.01M358.6 295.1h.01M121.5 321.5h.01M287.5 314.1h.01M317.3 275.2h.01M418.2 337.8h.01M259.1 316.4h.01M307.4 298.5h.01M144.2 348.5h.01M277.8 327.4h.01M439.8 331.2h.01M344.7 306.2h.01M318.7 321.0h.01M422.2 319.1h.01M402.5 316.4h.01M220.4 357.1h.01M436.2 304.1h.01M216.6 303.3h.01M176.1 284.8h.01M146.7 272.2h.01M230.3 333.1h.01M162.9 315.9h.01M194.9 316.7h.01M423.6 326.8h.01M425.1 345.6h.01M264.0 351.0h.01M377.7 329.1h.01M389.1 321.1h.01M216.5 318.1h.01M438.5 297.1h.01M302.8 321.5h.01M279.2 317.2h.01M266.1 331.2h.01M357.7 293.2h.01M225.3 357.5h.01M276.3 309.4h.01M286.0 318.1h.01M468.3 322.1h.01M94.2 312.9h.01M214.5 350.3h.01M146.7 289.8h.01M171.4 321.5h.01M442.9 340.9h.01M116.1 328.2h.01M312.0 309.1h.01M159.4 257.9h.01M273.7 320.7h.01M275.4 311.9h.01M129.3 325.2h.01M148.7 329.1h.01M163.8 334.6h.01M212.1 354.0h.01M411.2 345.1h.01M450.6 321.8h.01M395.8 299.5h.01M193.5 312.6h.01M182.9 350.5h.01M213.3 312.2h.01M180.7 313.4h.01M309.1 315.6h.01M425.5 313.2h.01M212.2 302.3h.01M164.2 304.6h.01M191.7 354.0h.01M199.2 353.1h.01M224.3 353.6h.01M296.5 316.3h.01M198.8 334.6h.01M243.7 324.0h.01M189.1 309.7h.01M185.6 334.7h.01M168.3 295.3h.01M473.0 315.2h.01M128.9 317.1h.01M329.3 328.2h.01M399.3 335.4h.01M161.6 355.0h.01M405.2 308.7h.01M217.4 315.9h.01M139.7 284.6h.01M162.9 334.8h.01M403.3 325.8h.01M183.2 345.7h.01M175.2 298.9h.01M158.6 342.0h.01M216.3 295.3h.01M255.6 356.0h.01M451.2 314.6h.01M462.8 314.5h.01M220.8 340.1h.01M203.9 319.2h.01M201.1 315.1h.01M453.1 312.2h.01M223.2 330.1h.01M220.1 296.2h.01M253.8 345.8h.01M161.3 349.3h.01M351.2 325.8h.01M249.4 305.8h.01M85.2 313.1h.01M122.8 315.4h.01M404.9 340.4h.01M194.3 339.4h.01M438.1 296.1h.01M234.1 332.0h.01M405.5 298.0h.01M404.1 313.5h.01M202.8 349.6h.01M361.7 330.9h.01M274.3 309.3h.01M316.7 320.0h.01M170.8 356.2h.01M340.0 317.6h.01M288.3 312.2h.01M141.0 337.5h.01M282.0 326.6h.01M220.1 314.5h.01M277.7 272.4h.01M351.6 291.3h.01M122.1 293.2h.01M152.9 327.2h.01M482.0 336.1h.01M239.3 332.2h.01M144.7 277.2h.01M285.8 303.5h.01M229.2 287.9h.01M446.4 327.1h.01M412.7 312.7h.01M230.8 295.3h.01M330.1 320.6h.01M167.1 289.4h.01M199.3 318.9h.01M474.0 304.8h.01M376.5 312.5h.01M156.5 341.4h.01M238.8 327.2h.01M465.3 318.9h.01M222.2 337.2h.01M326.9 294.9h.01M409.6 303.3h.01M195.9 333.6h.01M112.1 316.7h.01M221.1 392.5h.01M243.7 344.6h.01M382.6 346.0h.01M158.6 339.5h.01M98.6 319.7h.01M101.8 314.1h.01M376.0 323.4h.01M398.8 319.3h.01M194.8 301.9h.01M392.5 338.4h.01M191.5 342.8h.01M366.4 295.2h.01M297.2 317.4h.01M140.6 330.7h.01M165.8 346.8h.01M434.0 320.0h.01M254.7 315.0h.01M160.4 320.7h.01M120.6 311.6h.01M238.5 357.6h.01M192.8 301.2h.01M404.9 309.9h.01M420.5 316.7h.01M269.7 345.7h.01M236.8 336.3h.01M415.1 325.0h.01M474.5 316.2h.01M264.2 321.0h.01M132.1 313.0h.01M207.6 310.2h.01M94.1 314.0h.01M162.2 316.0h.01M153.6 334.8h.01M401.8 303.1h.01M431.8 315.6h.01M304.2 323.9h.01M259.4 351.4h.01M145.5 285.4h.01M210.3 308.2h.01M113.9 311.7h.01M336.2 364.7h.01M171.8 329.7h.01M113.3 322.6h.01M477.8 335.6h.01M102.1 319.5h.01M268.9 336.1h.01M105.3 303.7h.01M225.8 324.5h.01M188.0 351.9h.01M419.0 312.1h.01M307.7 314.6h.01M434.0 336.5h.01M110.2 319.6h.01M153.9 309.0h.01M315.5 313.0h.01M217.8 315.2h.01M464.8 309.7h.01M305.2 319.2h.01M167.1 319.8h.01M389.7 323.3h.01M235.3 325.1h.01M437.2 335.1h.01M255.2 306.8h.01M406.6 332.0h.01M187.8 318.8h.01M143.0 322.3h.01M436.5 322.9h.01M450.7 342.4h.01M291.0 315.1h.01M176.0 327.6h.01M179.1 280.3h.01M156.2 300.2h.01M202.4 336.3h.01M158.9 335.3h.01M226.9 303.9h.01M400.2 330.1h.01M403.7 326.9h.01M158.8 314.6h.01M252.7 325.2h.01M154.2 332.8h.01M184.4 362.0h.01M378.2 304.8h.01M208.5 288.3h.01M293.5 310.7h.01M222.4 351.2h.01M292.3 322.3h.01M411.8 330.8h.01M231.8 322.1h.01M172.9 361.5h.01M113.2 320.7h.01M110.6 313.8h.01M424.2 302.6h.01M307.2 291.0h.01M280.8 320.3h.01M239.9 315.1h.01M88.9 322.8h.01M144.1 285.8h.01M296.6 335.4h.01M325.1 330.5h.01M272.7 316.7h.01M224.9 316.3h.01M420.8 309.9h.01M192.4 308.6h.01M166.1 341.8h.01M422.3 312.5h.01M406.1 312.7h.01M407.5 311.2h.01M172.6 330.1h.01M272.9 315.4h.01M231.6 317.7h.01M269.2 333.5h.01M265.7 351.3h.01M481.8 333.4h.01M355.2 311.3h.01M203.3 348.3h.01M275.0 314.6h.01M166.7 270.2h.01M306.7 320.5h.01M450.2 299.5h.01M182.9 337.2h.01M155.8 338.3h.01M259.2 331.7h.01M433.8 279.2h.01M242.1 356.7h.01M122.9 312.4h.01M270.7 324.5h.01M116.4 315.3h.01M268.1 308.3h.01M233.7 339.9h.01M329.6 319.9h.01M419.4 342.0h.01M357.5 316.9h.01M187.5 299.2h.01M289.5 344.6h.01M399.8 341.6h.01M151.7 323.5h.01M250.7 308.4h.01M270.9 311.8h.01M406.9 308.4h.01M297.2 319.3h.01M381.5 304.1h.01M426.4 309.3h.01M195.0 314.1h.01M371.0 329.4h.01M160.0 309.7h.01M287.0 308.4h.01M342.5 350.7h.01M313.9 309.4h.01M469.8 323.3h.01M165.5 306.2h.01M393.2 311.7h.01M381.8 298.8h.01M157.0 354.7h.01M143.6 288.1h.01M283.3 356.9h.01M221.0 312.4h.01M456.0 301.0h.01M259.8 307.9h.01M111.8 306.6h.01M197.6 320.7h.01M197.4 306.1h.01M331.0 308.0h.01M245.2 321.9h.01M222.7 303.3h.01M222.3 321.0h.01M238.6 356.4h.01M99.3 319.6h.01M135.5 329.2h.01M385.0 320.5h.01M384.4 317.6h.01M186.0 320.1h.01M216.3 329.8h.01M167.4 290.5h.01M120.5 334.0h.01M176.8 316.3h.01M283.0 321.4h.01M103.6 317.4h.01M324.6 295.6h.01M224.0 296.2h.01M201.1 350.0h.01M157.5 330.4h.01M282.1 287.6h.01M214.1 339.1h.01M196.4 322.2h.01M210.6 338.2h.01M192.8 297.2h.01M219.2 366.4h.01M118.1 317.4h.01M152.2 297.9h.01M229.7 321.6h.01M200.8 290.1h.01M87.9 307.9h.01M185.0 330.9h.01M336.8 323.7h.01M250.6 292.8h.01M375.0 348.6h.01M190.8 277.0h.01M445.5 326.4h.01M94.4 321.1h.01M128.8 320.4h.01M393.8 307.2h.01M274.5 333.9h.01M431.2 315.7h.01M111.5 306.9h.01M259.7 281.6h.01M430.2 317.2h.01M379.3 316.8h.01M185.2 313.8h.01M176.1 319.1h.01M159.0 313.3h.01M178.7 330.7h.01M361.2 314.0h.01M130.7 298.4h.01M202.2 309.4h.01M409.5 303.9h.01M375.5 336.8h.01M195.2 288.7h.01M311.4 330.4h.01M294.2 326.8h.01M253.5 366.5h.01M278.9 325.2h.01M109.8 316.5h.01M183.6 292.7h.01M170.7 326.0h.01M398.9 317.3h.01M161.7 331.2h.01M223.2 322.6h.01M224.1 337.9h.01M190.8 356.3h.01M407.1 325.0h.01M236.6 316.7h.01M188.5 351.1h.01M407.5 315.1h.01M179.1 305.3h.01M194.4 286.1h.01M157.4 319.9h.01M325.6 315.8h.01M155.3 308.2h.01M345.7 304.5h.01M208.2 325.6h.01M452.1 310.3h.01M260.1 315.4h.01M440.4 330.1h.01M131.2 284.8h.01M364.6 323.5h.01M280.5 365.8h.01M285.3 311.4h.01M136.8 307.6h.01M134.1 310.2h.01M289.2 325.9h.01M339.1 309.4h.01M89.2 319.5h.01M247.1 311.2h.01M107.3 317.4h.01M262.5 268.6h.01M398.5 289.6h.01M233.8 296.7h.01M148.1 300.0h.01M258.7 318.2h.01M271.0 337.6h.01M201.2 313.6h.01M173.5 358.2h.01M165.6 351.6h.01M372.4 305.7h.01M200.5 340.8h.01M254.3 312.2h.01M241.7 344.0h.01M381.1 319.9h.01M175.3 317.1h.01M178.9 311.5h.01M203.9 368.6h.01M375.5 341.1h.01M170.3 300.8h.01M367.3 319.8h.01M257.7 310.2h.01M153.5 296.0h.01M310.0 314.1h.01M152.7 304.6h.01M109.1 313.4h.01M187.6 301.7h.01M84.6 314.7h.01M231.2 303.9h.01M168.4 326.5h.01M150.4 304.1h.01M363.1 319.5h.01M175.5 278.0h.01M195.9 328.6h.01M221.7 323.4h.01M306.1 311.1h.01M252.3 312.4h.01M259.2 336.4h.01M266.3 316.0h.01M178.0 338.2h.01M210.2 319.0h.01M299.0 286.8h.01M211.2 333.5h.01M322.6 331.3h.01M210.0 350.9h.01M100.3 322.8h.01M303.9 327.3h.01M139.5 309.2h.01M152.2 292.7h.01M160.6 311.9h.01M165.0 321.3h.01M149.9 300.8h.01M142.9 323.8h.01M351.2 313.2h.01M227.7 311.6h.01M410.9 298.3h.01M248.2 311.1h.01M319.8 331.1h.01M146.3 304.8h.01M467.7 310.8h.01M220.0 320.2h.01M381.8 326.1h.01M310.4 295.8h.01M247.1 358.7h.01M212.1 326.0h.01M188.4 320.3h.01M199.9 311.5h.01M167.7 303.5h.01M407.0 306.7h.01M180.1 314.9h.01M155.9 335.1h.01M455.1 302.6h.01M435.2 272.2h.01M320.9 322.1h.01M140.4 304.0h.01M172.8 352.1h.01M215.7 289.3h.01M351.7 292.2h.01M203.8 309.7h.01M165.2 295.8h.01M150.3 346.5h.01M186.0 299.8h.01M137.5 306.2h.01M258.0 320.2h.01M389.6 291.3h.01M287.5 310.3h.01M196.0 342.6h.01M107.2 320.9h.01M272.7 326.9h.01M231.3 347.9h.01M179.7 342.8h.01M385.8 353.7h.01M302.3 320.3h.01M169.9 295.4h.01M408.6 341.9h.01M225.8 328.6h.01M329.0 309.2h.01M132.2 329.1h.01M369.6 316.4h.01M266.5 318.2h.01M141.7 328.8h.01M237.1 308.2h.01M128.5 337.8h.01M307.2 328.8h.01M261.3 313.1h.01M231.8 309.4h.01M216.3 315.4h.01M217.0 325.6h.01M166.9 302.4h.01M322.2 295.1h.01M193.7 301.3h.01M164.7 294.2h.01M187.6 306.9h.01M225.0 287.9h.01M314.9 326.6h.01M351.7 320.0h.01M382.1 313.4h.01M107.0 327.0h.01M264.1 332.7h.01M126.4 295.1h.01M212.1 279.6h.01M201.6 311.6h.01M362.9 328.9h.01M129.9 289.3h.01M96.1 312.9h.01M201.1 354.6h.01M356.2 331.9h.01M89.8 322.8h.01M279.2 305.6h.01M326.1 316.3h.01M329.7 311.0h.01M322.3 321.6h.01M419.5 322.1h.01M302.3 325.4h.01M322.5 313.4h.01M221.1 333.9h.01M150.3 310.6h.01M309.6 291.1h.01M394.9 294.1h.01M175.0 330.1h.01M296.9 314.7h.01M365.7 327.4h.01M167.6 332.8h.01M412.5 310.0h.01M434.0 315.6h.01M339.8 313.6h.01M229.5 284.8h.01M200.2 343.9h.01M470.2 322.5h.01M234.0 310.8h.01M230.3 336.4h.01M348.3 330.7h.01M396.3 345.7h.01M429.8 327.3h.01M214.4 333.7h.01M185.1 343.5h.01M146.3 339.2h.01M183.5 309.0h.01M245.8 351.9h.01M163.7 303.3h.01M272.5 294.7h.01M254.2 326.4h.01M248.1 337.4h.01M360.5 319.3h.01M323.8 325.2h.01M105.2 314.9h.01M368.4 301.3h.01M205.0 337.0h.01M266.0 320.6h.01M464.8 319.7h.01M216.0 335.1h.01M459.0 313.5h.01M246.6 331.5h.01M201.4 299.8h.01M362.7 317.4h.01M147.4 294.7h.01M146.6 289.0h.01M416.1 332.0h.01M183.3 283.4h.01M381.1 319.9h.01M162.5 317.4h.01M128.7 300.9h.01M188.0 332.4h.01M227.5 326.3h.01M329.8 289.7h.01M226.6 308.5h.01M144.1 315.4h.01M208.6 304.6h.01M387.7 325.2h.01M144.3 348.1h.01M153.2 321.5h.01M339.3 316.5h.01M207.2 276.1h.01M386.2 321.1h.01M474.6 308.1h.01M243.2 321.8h.01M431.6 324.9h.01M212.5 351.7h.01M185.9 307.7h.01M173.4 360.8h.01M438.1 309.3h.01M396.1 329.4h.01M392.0 301.9h.01M437.4 308.5h.01M426.2 336.5h.01M242.8 315.1h.01M326.4 316.7h.01M256.8 324.8h.01M209.3 250.7h.01M179.8 306.2h.01M235.8 333.4h.01M264.6 291.5h.01M112.6 328.7h.01M457.6 323.3h.01M349.2 362.4h.01M161.2 339.9h.01M436.2 320.5h.01M172.7 350.1h.01M485.0 325.7h.01M189.7 329.5h.01M94.7 310.7h.01M222.9 326.0h.01M398.8 323.7h.01M179.9 316.9h.01M394.3 315.2h.01M368.0 316.5h.01M323.3 318.6h.01M210.8 346.2h.01M349.5 309.3h.01M89.8 313.1h.01M218.8 282.2h.01M199.2 298.9h.01M227.2 294.5h.01M404.1 332.6h.01M382.0 315.9h.01M390.2 328.0h.01M204.5 310.6h.01M93.7 324.3h.01M350.4 323.4h.01M314.3 348.1h.01M356.4 320.9h.01M92.6 301.8h.01M361.7 337.5h.01M116.2 316.3h.01M166.3 365.1h.01M187.3 330.6h.01M361.9 335.7h.01M447.0 331.2h.01M414.4 360.7h.01M163.5 319.2h.01M327.1 326.4h.01M410.7 308.2h.01M308.4 310.9h.01M258.5 322.6h.01M209.5 322.3h.01M205.4 337.8h.01M436.0 317.9h.01M217.3 320.3h.01M345.5 338.9h.01M147.2 288.1h.01M381.1 321.5h.01M263.2 324.8h.01M305.1 273.3h.01M373.1 278.6h.01M357.8 297.7h.01M123.9 321.7h.01M169.6 312.8h.01M336.2 315.9h.01M108.5 330.8h.01M376.3 311.0h.01M304.7 328.7h.01M279.4 328.4h.01M283.5 321.4h.01M219.2 309.3h.01M308.4 323.9h.01M367.1 324.2h.01M445.6 327.8h.01M246.9 316.2h.01M149.6 320.6h.01M418.1 355.5h.01M216.6 331.0h.01M391.9 296.1h.01M466.7 331.1h.01M227.3 333.6h.01M214.2 314.6h.01M234.8 315.9h.01M163.8 375.8h.01M260.2 361.3h.01M191.6 305.6h.01M397.2 325.5h.01M422.6 327.9h.01M330.8 303.6h.01M346.0 320.8h.01M144.2 326.9h.01M183.6 278.4h.01M276.6 315.9h.01M202.2 281.2h.01M153.7 314.0h.01M123.2 308.4h.01M227.3 318.6h.01M273.9 286.4h.01M383.0 311.3h.01M222.6 349.7h.01M270.4 317.1h.01M218.8 342.5h.01M151.3 316.3h.01M442.9 300.4h.01M171.7 324.3h.01M173.1 316.2h.01M216.6 332.9h.01M318.8 333.4h.01M276.1 304.6h.01M146.7 309.2h.01M180.1 335.7h.01M138.3 334.5h.01M170.7 348.0h.01M206.3 268.2h.01M171.1 330.9h.01M182.8 291.0h.01M187.2 291.4h.01M354.2 324.4h.01M161.4 321.3h.01M133.4 323.5h.01M417.9 343.6h.01M175.5 325.3h.01M247.8 302.7h.01M102.5 314.6h.01M298.5 321.1h.01M248.3 286.4h.01M299.8 328.9h.01M187.9 326.9h.01M93.7 318.1h.01M238.9 327.2h.01M190.8 327.8h.01M218.4 325.0h.01M341.2 313.4h.01M354.3 308.5h.01M139.0 329.3h.01M234.2 320.7h.01M430.4 310.3h.01M421.1 313.4h.01M359.4 350.0h.01M218.5 331.7h.01M149.3 351.8h.01M196.7 290.7h.01M229.6 325.6h.01M391.2 320.8h.01M235.3 335.1h.01M115.1 319.6h.01M349.1 315.5h.01M173.7 360.5h.01M158.6 320.2h.01M251.6 311.5h.01M193.4 289.4h.01M175.1 271.8h.01M298.1 335.5h.01M219.0 304.0h.01M221.3 302.8h.01M377.7 330.0h.01M348.1 309.4h.01M277.7 322.2h.01M390.4 313.2h.01M216.5 319.8h.01M437.2 299.1h.01M155.1 328.8h.01M327.5 311.2h.01M237.5 317.4h.01M454.5 334.4h.01M274.2 313.1h.01M263.9 348.2h.01M497.7 323.7h.01M146.3 309.0h.01M187.1 324.2h.01M368.8 296.9h.01M337.2 306.6h.01M177.6 362.0h.01M391.5 313.0h.01M274.1 314.2h.01M213.8 299.9h.01M379.4 256.6h.01M427.8 309.1h.01M231.1 318.2h.01M153.7 329.5h.01M229.7 336.0h.01M186.6 320.5h.01M149.2 338.1h.01M196.6 329.6h.01M212.7 331.1h.01M268.5 320.5h.01M259.3 322.5h.01M229.7 345.7h.01M211.7 359.1h.01M330.3 302.5h.01M105.2 318.3h.01M153.6 307.9h.01M445.2 312.6h.01M155.8 315.3h.01M189.8 249.7h.01M189.8 311.8h.01M181.5 348.4h.01M413.9 316.4h.01M150.2 290.2h.01M184.7 288.0h.01M384.5 344.8h.01M210.8 339.7h.01M385.8 327.3h.01M280.4 315.7h.01M212.5 287.6h.01M398.9 311.8h.01M122.9 323.7h.01M342.4 338.9h.01M394.5 317.3h.01M235.0 308.1h.01M237.8 337.5h.01M240.5 325.8h.01M315.8 309.3h.01M366.3 332.5h.01M170.5 322.9h.01M205.7 285.0h.01M296.7 303.9h.01M470.9 330.9h.01M481.9 336.0h.01M270.0 332.8h.01M298.9 323.7h.01M180.2 345.1h.01M128.8 339.8h.01M262.7 328.1h.01M360.5 326.2h.01M209.5 287.9h.01M336.0 316.5h.01M427.9 301.5h.01M176.0 309.3h.01M359.7 306.2h.01M194.1 346.9h.01M273.9 304.6h.01M164.6 298.3h.01M380.4 310.1h.01M275.5 311.1h.01M346.2 332.7h.01M234.2 301.2h.01M156.2 316.2h.01M391.8 321.1h.01M374.0 348.7h.01M154.5 289.6h.01M260.9 330.4h.01M264.7 352.4h.01M162.9 299.6h.01M174.2 302.9h.01M327.5 334.7h.01M144.5 320.1h.01M280.2 308.6h.01M372.6 330.7h.01M235.9 313.1h.01M219.1 312.9h.01M190.3 321.9h.01M107.4 318.0h.01M113.6 304.7h.01M300.9 312.7h.01M276.9 310.3h.01M207.9 367.2h.01M300.6 318.5h.01M112.8 326.3h.01M264.1 338.5h.01M191.7 316.2h.01M260.4 325.3h.01M314.1 321.1h.01M298.9 319.5h.01M209.0 319.6h.01M293.3 302.7h.01M272.8 339.6h.01M400.3 315.2h.01M220.7 297.8h.01M124.6 314.2h.01M459.5 317.1h.01M366.3 334.5h.01M218.3 353.7h.01M141.7 292.5h.01M335.4 326.3h.01M192.8 316.0h.01M174.3 334.3h.01M369.1 321.6h.01M270.1 307.4h.01M365.0 312.3h.01M130.1 330.4h.01M169.2 312.2h.01M416.9 294.8h.01M180.7 300.4h.01M325.5 321.1h.01M178.2 292.4h.01M416.8 326.1h.01M169.5 304.5h.01M269.6 351.2h.01M92.0 318.5h.01M290.3 331.7h.01M238.4 332.8h.01M278.2 310.5h.01M153.0 314.8h.01M375.9 346.2h.01M262.9 322.9h.01M144.9 309.3h.01M245.6 312.1h.01M234.5 300.3h.01M320.7 318.0h.01M379.1 327.9h.01M408.1 323.5h.01M293.1 320.8h.01M265.9 337.5h.01M144.7 319.3h.01M232.2 313.8h.01M212.1 332.5h.01M139.2 316.3h.01M184.6 277.1h.01M309.7 316.4h.01M435.9 301.1h.01M227.4 330.6h.01M424.8 320.0h.01M394.5 331.9h.01M429.6 305.3h.01M351.9 350.9h.01M367.2 310.3h.01M113.1 320.2h.01M408.5 313.8h.01M160.4 304.8h.01M259.5 351.4h.01M332.6 330.5h.01M278.2 315.2h.01M145.7 362.6h.01M256.3 325.9h.01M355.0 313.9h.01M172.3 291.8h.01M218.1 331.4h.01M193.8 309.9h.01M461.6 303.4h.01M340.9 335.0h.01M365.7 303.8h.01M184.6 296.6h.01M144.7 363.7h.01M410.4 310.5h.01M144.3 308.9h.01M123.4 285.8h.01M279.9 328.7h.01M334.3 319.2h.01M320.2 307.7h.01M310.2 313.0h.01M117.6 327.8h.01M427.3 327.6h.01M197.7 360.3h.01M178.6 345.7h.01M146.5 337.5h.01M270.7 284.9h.01M230.5 335.9h.01M210.9 323.0h.01M151.1 364.9h.01M210.4 342.1h.01M380.7 297.9h.01M276.5 326.1h.01M373.3 331.6h.01M182.8 361.0h.01M202.1 321.2h.01M149.1 359.2h.01M215.5 347.3h.01M245.2 307.1h.01M170.9 341.0h.01M383.7 324.1h.01M250.4 322.4h.01M229.8 316.6h.01M389.9 344.2h.01M463.6 312.0h.01M226.9 316.5h.01M193.6 300.6h.01M145.2 321.2h.01M331.1 313.9h.01M182.6 309.5h.01M237.4 312.9h.01M211.4 326.8h.01M349.1 320.0h.01M369.6 309.0h.01M279.6 346.5h.01M174.8 297.8h.01M291.5 321.7h.01M226.0 290.1h.01M257.9 337.7h.01M188.2 317.5h.01M258.0 314.1h.01M370.9 309.5h.01M455.3 315.1h.01M423.2 334.1h.01M180.6 288.8h.01M175.6 336.4h.01M411.2 321.1h.01M298.3 290.5h.01M200.1 292.7h.01M97.0 303.1h.01M214.6 351.2h.01M437.5 326.5h.01M311.9 328.1h.01M267.2 283.7h.01M197.8 350.2h.01M356.8 293.2h.01M329.6 331.4h.01M400.7 334.0h.01M469.4 314.4h.01M408.0 312.0h.01M278.9 333.5h.01M497.4 315.1h.01M203.3 315.0h.01M420.0 322.5h.01M139.3 328.5h.01M339.7 323.3h.01M144.5 322.2h.01M293.9 305.0h.01M221.1 312.1h.01M375.3 320.4h.01M190.3 316.3h.01M360.5 311.8h.01M244.8 327.7h.01M176.4 292.5h.01M135.7 312.5h.01M284.8 324.2h.01M443.6 310.0h.01M371.5 315.4h.01M103.2 323.2h.01M220.3 309.5h.01M199.6 338.5h.01M364.3 314.1h.01M172.3 299.6h.01M214.6 294.6h.01M242.6 353.7h.01M201.8 316.3h.01M185.3 364.3h.01M346.9 305.5h.01M262.1 279.1h.01M195.6 285.0h.01M317.9 356.6h.01M224.7 339.4h.01M213.7 320.3h.01M333.1 318.3h.01M282.2 314.6h.01M296.0 330.5h.01M243.4 314.3h.01M153.2 352.6h.01M195.7 321.4h.01M121.9 315.7h.01M164.9 339.6h.01M171.7 293.1h.01M184.3 286.0h.01M185.6 328.1h.01M144.0 342.7h.01M236.5 293.1h.01M232.1 298.3h.01M176.3 348.8h.01M191.9 346.6h.01M348.4 317.0h.01M215.4 340.2h.01M249.7 315.9h.01M176.0 303.2h.01M170.0 339.3h.01M246.8 322.2h.01M379.5 323.8h.01M213.3 346.7h.01M336.0 321.5h.01M191.7 319.5h.01M141.4 324.4h.01M208.9 310.8h.01M282.9 310.2h.01M237.7 304.7h.01M426.6 317.8h.01M221.3 290.4h.01M494.6 334.9h.01M95.8 311.9h.01M133.1 318.2h.01M152.2 351.5h.01M230.7 305.9h.01M424.1 314.4h.01M239.8 313.1h.01M137.3 292.8h.01M221.8 326.7h.01M442.6 308.5h.01M229.5 290.7h.01M397.7 293.9h.01M148.6 318.1h.01M227.5 306.7h.01M210.8 307.5h.01M377.7 309.1h.01M256.5 326.2h.01M356.0 354.2h.01M392.4 317.3h.01M342.4 329.8h.01M132.2 333.6h.01M224.7 307.9h.01M165.2 302.7h.01M372.9 312.9h.01M215.2 342.1h.01M125.4 310.1h.01M291.1 328.4h.01M378.3 320.4h.01M359.3 313.6h.01M189.6 292.7h.01M366.9 331.4h.01M178.9 280.4h.01M198.1 339.2h.01M391.4 330.2h.01M170.0 289.3h.01M427.9 316.0h.01M109.4 326.5h.01M296.4 311.7h.01M368.5 304.4h.01M119.5 343.9h.01M153.3 303.8h.01M217.9 284.7h.01M391.8 327.4h.01M139.8 321.9h.01M360.8 335.5h.01M339.0 310.6h.01M112.9 334.4h.01M295.8 324.7h.01M231.6 333.6h.01M259.8 328.8h.01M149.5 295.8h.01M207.1 328.0h.01M250.8 312.2h.01M244.4 330.6h.01M172.6 371.8h.01M150.4 278.2h.01M401.2 324.3h.01M303.8 319.5h.01M155.4 329.7h.01M245.2 296.1h.01M181.3 318.8h.01M209.7 346.4h.01M246.7 279.4h.01M175.4 325.1h.01M302.3 313.3h.01M214.9 352.4h.01M386.5 331.0h.01M328.8 314.0h.01M344.5 310.5h.01M296.9 307.0h.01M340.8 325.6h.01M435.6 298.6h.01M152.8 319.3h.01M222.9 324.6h.01M391.5 340.0h.01M346.2 305.0h.01M239.6 352.5h.01M81.8 317.0h.01M339.3 304.5h.01M350.6 322.1h.01M87.1 313.6h.01M211.8 357.2h.01M166.7 277.0h.01M430.9 310.8h.01M412.6 297.9h.01M207.1 320.5h.01M179.8 331.5h.01M418.8 317.6h.01M353.3 329.1h.01M136.5 324.2h.01M267.3 286.2h.01M177.8 312.0h.01M280.1 333.8h.01M210.8 312.1h.01M466.1 312.0h.01M224.2 313.2h.01M430.3 304.6h.01M331.3 313.7h.01M150.1 314.3h.01M325.7 304.4h.01M325.9 335.2h.01M233.2 341.9h.01M147.5 318.7h.01M263.0 294.5h.01M140.7 332.2h.01M185.2 292.6h.01M362.5 348.2h.01M186.4 265.6h.01M331.1 311.6h.01M138.0 307.4h.01M127.1 311.7h.01M375.9 301.0h.01M373.7 306.7h.01M289.2 321.7h.01M130.5 314.4h.01M221.1 321.4h.01M389.4 323.8h.01M181.2 317.4h.01M458.7 334.3h.01M152.2 328.3h.01M252.2 325.7h.01M154.1 289.7h.01M422.7 304.5h.01M96.3 318.3h.01M230.0 288.4h.01M369.9 316.2h.01M274.2 315.9h.01M354.2 315.4h.01M369.2 284.4h.01M337.9 317.6h.01M233.6 306.5h.01M98.4 334.2h.01M340.5 309.3h.01M182.9 369.4h.01M179.5 308.0h.01M185.0 352.5h.01M378.6 317.9h.01M354.1 289.6h.01M228.1 314.2h.01M434.3 328.2h.01M273.7 341.6h.01M462.7 322.5h.01M444.7 336.6h.01M454.9 323.9h.01M172.9 314.9h.01M249.2 285.0h.01M192.3 296.4h.01M237.8 287.9h.01M206.5 318.2h.01M179.5 324.6h.01M267.1 321.0h.01M271.9 345.4h.01M407.9 298.5h.01M342.5 324.9h.01M220.4 308.1h.01M168.1 329.3h.01M275.9 321.5h.01M170.5 324.9h.01M128.1 338.7h.01M401.5 325.4h.01M412.0 309.3h.01M341.6 321.2h.01M93.3 317.4h.01M212.8 310.4h.01M197.8 341.5h.01M192.3 282.1h.01M316.3 331.1h.01M176.5 322.5h.01M190.6 286.6h.01M370.0 329.1h.01M87.4 320.3h.01M373.5 321.2h.01M247.9 331.9h.01M201.1 309.7h.01M322.6 322.3h.01M406.0 313.4h.01M343.6 316.6h.01M250.9 315.6h.01M265.8 326.3h.01M380.4 271.5h.01M387.6 318.2h.01M144.8 312.1h.01M154.7 351.4h.01M259.6 340.6h.01M305.4 315.5h.01M406.1 321.2h.01M355.8 319.4h.01M180.5 330.4h.01M115.3 321.8h.01M111.6 328.8h.01M205.3 369.4h.01M365.1 315.8h.01M228.3 357.2h.01M150.9 341.0h.01M223.2 325.3h.01M151.3 321.9h.01M190.4 342.4h.01M227.7 335.9h.01M108.7 312.4h.01M243.3 311.3h.01M376.3 316.5h.01M389.3 324.8h.01M149.5 334.4h.01M303.9 307.9h.01M119.8 321.4h.01M296.9 308.0h.01M205.1 325.4h.01M112.8 320.0h.01M226.7 315.4h.01M341.7 302.5h.01M139.2 350.6h.01M331.3 307.4h.01M320.0 313.5h.01M130.0 296.5h.01M150.3 334.2h.01M193.1 323.1h.01M367.8 344.4h.01M295.3 312.6h.01M190.9 322.2h.01M328.4 333.9h.01M297.6 309.4h.01M237.6 334.8h.01M230.1 336.8h.01M299.5 274.5h.01M393.1 305.2h.01M119.5 322.3h.01M231.7 281.9h.01M418.4 297.4h.01M189.6 323.5h.01M91.7 302.6h.01M228.5 324.4h.01M181.1 308.9h.01M167.3 282.1h.01M428.3 313.8h.01M261.7 315.1h.01M420.3 306.9h.01M128.9 295.0h.01M243.0 304.7h.01M210.8 334.7h.01M456.6 323.1h.01M132.6 341.7h.01M161.0 325.0h.01M366.7 308.0h.01M276.2 326.5h.01M229.4 302.6h.01M353.5 327.6h.01M229.0 327.9h.01M389.7 333.9h.01M358.2 323.5h.01M203.1 330.4h.01M145.5 341.7h.01M224.6 309.7h.01M346.5 329.3h.01M387.6 321.2h.01M421.7 331.2h.01M132.2 310.1h.01M235.1 298.0h.01M337.9 317.9h.01M337.3 316.4h.01M357.2 325.3h.01M326.5 322.8h.01M129.7 323.0h.01M307.1 351.0h.01M157.6 278.3h.01M227.6 320.5h.01M178.3 321.6h.01M335.3 278.3h.01M229.5 293.8h.01M229.1 326.7h.01M303.3 316.8h.01M84.4 316.4h.01M309.5 333.6h.01M378.9 334.1h.01M402.7 328.2h.01M191.2 368.2h.01M196.0 298.7h.01M292.0 308.7h.01M397.5 302.5h.01M226.5 297.7h.01M160.0 308.1h.01M153.0 319.6h.01M328.0 292.8h.01M135.5 319.5h.01M366.2 327.8h.01M131.4 310.0h.01M378.6 326.3h.01M239.6 314.6h.01M142.2 315.2h.01M137.5 336.2h.01M365.7 326.8h.01M206.0 335.9h.01M187.4 314.3h.01M172.0 299.9h.01M326.0 310.3h.01M388.9 351.3h.01M387.6 315.0h.01M250.3 333.9h.01M147.0 312.8h.01M416.8 321.7h.01M263.2 316.3h.01M219.9 310.6h.01M274.1 321.4h.01M322.9 315.4h.01M335.6 319.3h.01M131.7 301.8h.01M380.6 305.9h.01M257.2 328.2h.01M322.9 313.2h.01M162.0 375.9h.01M153.0 294.4h.01M309.8 309.0h.01M171.6 309.4h.01M273.0 329.1h.01M243.5 290.0h.01M269.5 313.0h.01M331.1 326.3h.01M373.0 316.1h.01M288.9 333.3h.01M310.2 301.2h.01M152.2 319.5h.01M296.8 310.8h.01M97.3 309.8h.01M174.9 329.0h.01M150.3 315.0h.01M252.5 368.9h.01M239.5 321.2h.01M253.9 338.3h.01M256.3 326.7h.01M194.5 318.2h.01M205.8 284.1h.01M459.1 340.2h.01M320.0 308.8h.01M199.2 308.1h.01M187.5 372.4h.01M243.6 310.3h.01M433.5 325.2h.01M369.3 336.5h.01M181.0 321.1h.01M136.9 316.5h.01M332.4 323.8h.01M236.1 315.4h.01M133.9 324.9h.01M212.2 295.3h.01M409.8 328.4h.01M193.1 342.1h.01M317.6 315.1h.01M395.2 338.7h.01M373.3 309.3h.01M133.4 318.0h.01M215.1 332.9h.01M244.7 316.4h.01M379.8 320.4h.01M182.0 303.5h.01M223.8 279.1h.01M177.2 285.1h.01M208.6 342.6h.01M157.0 268.6h.01M262.5 320.4h.01M408.9 331.2h.01M330.3 318.1h.01M107.6 335.2h.01M120.6 326.0h.01M206.3 334.7h.01M234.8 323.0h.01M314.9 317.8h.01M316.3 312.5h.01M289.9 314.5h.01M197.3 340.3h.01M152.2 362.1h.01M202.3 322.1h.01M308.0 326.0h.01M184.9 343.3h.01M173.6 347.5h.01M369.8 336.2h.01M138.2 302.6h.01M267.2 352.1h.01M476.8 326.2h.01M283.8 308.0h.01M197.7 318.8h.01M351.7 309.9h.01M145.3 303.7h.01M185.6 327.6h.01M332.9 328.4h.01M123.1 348.0h.01M166.1 318.1h.01M193.4 285.1h.01M266.6 304.4h.01M409.6 343.0h.01M129.3 326.5h.01M110.9 296.1h.01M317.5 329.3h.01M365.4 325.9h.01M313.2 319.6h.01M372.8 319.1h.01M278.6 330.0h.01M142.4 333.1h.01M130.4 310.0h.01M299.3 351.8h.01M330.8 326.4h.01M411.3 310.0h.01M199.5 356.7h.01M446.1 333.6h.01M272.0 305.9h.01M211.2 321.8h.01M218.4 325.4h.01M170.3 305.1h.01M132.1 315.2h.01M219.2 312.3h.01M167.8 338.4h.01M208.4 344.5h.01M186.1 313.4h.01M395.5 336.2h.01M329.1 305.4h.01M159.4 327.3h.01M132.6 296.4h.01M422.1 295.5h.01M146.5 322.0h.01M119.7 312.2h.01M164.6 283.5h.01M134.0 335.3h.01M195.3 266.5h.01M217.2 304.4h.01M269.4 323.4h.01M418.5 322.7h.01M320.0 325.8h.01M139.2 347.4h.01M303.5 329.6h.01M411.6 292.3h.01M166.2 313.8h.01M167.3 327.3h.01M372.6 316.8h.01M294.4 320.5h.01M155.7 307.1h.01M384.8 312.4h.01M173.7 288.3h.01M477.1 326.0h.01M144.5 325.6h.01M417.3 314.2h.01M104.0 313.7h.01M260.6 310.5h.01M216.0 337.6h.01M295.0 323.6h.01M401.6 334.0h.01M222.0 306.5h.01M190.3 357.2h.01M271.9 322.6h.01M231.7 327.1h.01M404.4 314.9h.01M210.8 292.3h.01M127.5 330.8h.01M110.4 320.6h.01M413.6 318.8h.01M252.7 318.1h.01M322.3 325.6h.01M118.7 312.8h.01M250.3 343.8h.01M193.4 333.4h.01M384.6 327.6h.01M472.7 332.5h.01M238.9 368.1h.01M295.2 331.7h.01M491.4 304.9h.01M266.6 327.9h.01M288.4 310.1h.01M265.0 334.1h.01M178.9 349.1h.01M436.3 302.5h.01M367.9 284.8h.01M240.6 307.5h.01M233.9 327.3h.01M159.0 283.8h.01M222.3 332.5h.01M175.5 307.8h.01M368.2 326.2h.01M249.0 327.6h.01M263.4 320.4h.01M185.7 307.1h.01M156.4 360.7h.01M150.0 314.6h.01M342.7 328.7h.01M296.1 295.1h.01M407.1 323.4h.01M400.9 314.1h.01M431.9 307.1h.01M251.7 306.8h.01M148.9 316.3h.01M238.3 314.1h.01M393.4 302.8h.01M365.0 290.6h.01M403.0 313.9h.01M346.5 323.4h.01M206.6 323.4h.01M356.9 291.8h.01M196.1 309.8h.01M383.4 322.1h.01M286.0 309.3h.01M348.3 336.7h.01M211.9 343.1h.01M147.5 331.9h.01M256.2 271.1h.01M213.7 315.5h.01M312.9 284.2h.01M284.3 310.7h.01M165.8 278.2h.01M286.7 344.4h.01M241.7 324.1h.01M260.2 337.1h.01M396.3 310.0h.01M302.1 327.0h.01M334.0 344.3h.01M354.9 322.0h.01M135.7 314.5h.01M171.5 297.7h.01M182.0 305.2h.01M133.0 320.1h.01M285.2 317.1h.01M304.3 312.3h.01M237.8 311.4h.01M293.0 406.6h.01M145.2 287.0h.01M206.2 331.3h.01M357.0 333.9h.01M221.8 302.0h.01M162.6 317.9h.01M242.4 324.7h.01M419.0 295.8h.01M259.7 328.2h.01M330.4 303.9h.01M443.0 313.1h.01M451.1 330.1h.01M427.0 326.4h.01M228.9 341.0h.01M108.7 338.7h.01M274.9 320.9h.01M155.7 345.6h.01M244.7 341.3h.01M234.6 341.0h.01M270.3 316.1h.01M484.5 324.8h.01M339.6 330.2h.01M388.4 308.3h.01M187.2 295.0h.01M221.1 344.8h.01M299.0 315.4h.01M116.7 313.2h.01M419.7 298.5h.01M317.3 271.1h.01M183.3 361.3h.01M258.0 318.8h.01M255.5 304.3h.01M155.2 274.8h.01M363.7 311.2h.01M231.5 330.0h.01M139.8 282.0h.01M127.3 314.7h.01M135.6 315.2h.01M129.1 341.3h.01M152.1 300.1h.01M347.2 326.8h.01M224.6 349.1h.01M335.0 325.2h.01M327.5 320.1h.01M331.1 318.4h.01M238.8 317.6h.01M369.4 351.8h.01M194.0 339.9h.01M219.3 335.1h.01M92.7 304.1h.01M359.8 295.7h.01M304.4 303.4h.01M245.4 300.8h.01M99.4 313.3h.01M108.4 324.6h.01M223.2 281.1h.01M130.3 320.5h.01M228.0 271.4h.01M179.7 319.1h.01M112.4 326.8h.01M174.0 355.8h.01M260.7 323.1h.01M133.7 321.8h.01M110.8 311.1h.01M466.4 315.2h.01M411.2 303.0h.01M156.5 306.1h.01M273.4 312.7h.01M172.4 326.7h.01M245.4 342.8h.01M390.2 311.5h.01M284.6 308.7h.01M402.9 326.6h.01M417.5 318.1h.01M156.1 362.9h.01M295.9 320.0h.01M137.2 326.3h.01M328.4 319.3h.01M436.5 316.4h.01M106.5 308.5h.01M162.9 346.5h.01M417.3 319.2h.01M170.1 349.6h.01M231.5 298.5h.01M241.8 338.6h.01M212.6 346.2h.01M217.4 347.6h.01M349.0 317.0h.01M163.2 333.3h.01M182.7 330.4h.01M146.5 329.0h.01M363.8 331.5h.01M360.5 334.1h.01M455.8 314.2h.01M306.1 324.1h.01M296.0 308.4h.01M193.2 328.8h.01M194.3 374.3h.01M354.2 319.9h.01M194.7 291.0h.01M270.4 314.7h.01M302.9 312.4h.01M147.6 294.9h.01M94.8 307.1h.01M265.5 281.6h.01M248.3 332.9h.01M209.9 322.3h.01M132.1 300.6h.01M210.1 338.2h.01M328.2 317.1h.01M310.7 331.3h.01M265.8 357.8h.01M402.8 334.3h.01M169.7 343.0h.01M343.1 320.4h.01M145.5 299.3h.01M431.2 294.2h.01M341.4 306.6h.01M206.0 317.6h.01M306.5 307.6h.01M183.8 324.0h.01M181.7 345.6h.01M202.5 297.4h.01M187.4 338.6h.01M261.8 334.6h.01M202.1 319.2h.01M267.7 300.2h.01M239.3 304.4h.01M227.2 337.4h.01M362.7 332.9h.01M283.7 329.1h.01M313.9 345.4h.01M114.9 321.7h.01M272.2 281.6h.01M115.3 309.3h.01M156.0 304.7h.01M284.6 310.6h.01M269.8 288.6h.01M385.3 305.0h.01M296.7 323.3h.01M168.0 348.5h.01M254.0 308.6h.01M244.5 318.0h.01M328.0 330.4h.01M137.5 304.5h.01M380.9 348.6h.01M127.1 317.8h.01M108.0 329.8h.01M271.0 284.0h.01M266.5 346.4h.01M236.2 342.8h.01M232.8 325.3h.01M406.4 304.3h.01M139.1 306.8h.01M230.7 310.9h.01M220.1 326.5h.01M230.1 313.2h.01M420.9 326.9h.01M162.7 333.0h.01M309.1 321.9h.01M248.6 314.4h.01M177.3 357.7h.01M303.6 318.3h.01M299.9 319.2h.01M243.1 300.9h.01M247.9 343.0h.01M406.9 319.7h.01M417.3 305.6h.01M289.6 322.3h.01M180.2 335.9h.01M313.5 321.9h.01M394.6 333.2h.01M384.0 328.7h.01M436.3 314.9h.01M265.8 319.8h.01M377.3 314.6h.01M436.9 306.7h.01M136.3 318.9h.01M191.1 366.2h.01M273.9 333.8h.01M358.4 316.3h.01M163.7 344.5h.01M90.5 310.1h.01M147.1 330.5h.01M194.0 313.6h.01M140.1 319.8h.01M221.0 333.4h.01M177.1 298.2h.01M267.1 357.5h.01M210.9 314.5h.01M171.9 360.0h.01M238.7 300.3h.01M189.5 327.8h.01M189.0 349.4h.01M201.4 317.7h.01M192.9 328.5h.01M353.1 329.8h.01M243.0 318.2h.01M172.8 317.5h.01M137.2 325.5h.01M216.6 366.0h.01M241.9 335.2h.01M302.7 331.9h.01M168.9 338.0h.01M261.5 318.3h.01M196.7 280.7h.01M202.7 355.0h.01M156.8 327.9h.01M169.8 336.9h.01M157.5 328.4h.01M216.6 319.0h.01M214.6 323.4h.01M169.4 330.1h.01M186.5 290.6h.01M343.6 323.3h.01M138.2 290.0h.01M252.7 306.6h.01M241.3 303.1h.01M338.6 302.9h.01M299.1 336.0h.01M119.7 337.5h.01M222.0 324.0h.01M293.7 323.8h.01M262.6 308.1h.01M375.5 316.1h.01M382.4 330.1h.01M367.2 324.5h.01M280.4 314.4h.01M301.9 340.6h.01M287.3 317.8h.01M249.4 336.0h.01M139.8 349.3h.01M188.8 340.3h.01M349.0 289.0h.01M377.4 285.8h.01M276.2 317.5h.01M354.5 325.4h.01M326.6 320.0h.01M181.8 326.8h.01M167.7 340.0h.01M362.2 299.7h.01M180.2 320.1h.01M443.6 304.9h.01M213.0 328.9h.01M292.6 321.7h.01M173.7 333.0h.01M404.5 328.7h.01M171.7 312.1h.01M458.6 316.2h.01M112.6 327.2h.01M126.9 317.0h.01M253.7 331.4h.01M241.3 287.2h.01M433.3 304.5h.01M347.3 325.5h.01M405.5 335.1h.01M405.9 322.6h.01M157.6 336.7h.01M368.1 318.1h.01M230.3 284.2h.01M252.1 330.2h.01M143.4 326.3h.01M363.4 350.7h.01M150.9 355.4h.01M239.8 293.0h.01M210.8 356.6h.01M150.6 330.1h.01M242.0 330.6h.01M415.7 328.2h.01M134.7 324.1h.01M154.8 349.4h.01M262.7 358.9h.01M168.2 308.5h.01M324.2 328.0h.01M303.7 333.3h.01M215.6 305.6h.01M354.1 313.3h.01M439.7 296.2h.01M380.6 358.4h.01M190.9 369.2h.01M343.6 330.3h.01M391.5 312.4h.01M392.6 307.7h.01M242.2 306.2h.01M267.2 314.7h.01M101.5 310.1h.01M166.5 308.9h.01M106.6 333.5h.01M157.2 310.3h.01M246.6 283.1h.01M349.1 304.4h.01M271.8 331.2h.01M206.6 356.6h.01M205.0 307.0h.01M284.1 332.8h.01M214.6 303.4h.01M442.5 303.0h.01M120.5 333.7h.01M270.5 321.0h.01M359.4 338.8h.01M171.0 322.7h.01M287.7 329.0h.01M285.0 353.0h.01M400.7 310.7h.01M298.5 327.4h.01M354.3 311.8h.01M221.7 271.0h.01M118.4 331.6h.01M209.0 299.7h.01M316.3 309.9h.01M345.1 338.3h.01M185.9 314.3h.01M283.4 315.0h.01M275.2 316.0h.01M353.2 354.1h.01M159.5 310.5h.01M313.5 323.9h.01M212.9 322.1h.01M317.5 324.2h.01M382.2 324.3h.01M174.3 340.4h.01M311.0 315.6h.01M186.3 335.4h.01M258.7 326.6h.01M142.7 307.5h.01M228.2 305.3h.01M241.4 320.8h.01M144.7 315.3h.01M203.5 313.9h.01M184.4 348.0h.01M212.9 328.1h.01M381.8 307.3h.01M345.7 310.4h.01M413.3 318.7h.01M351.8 333.7h.01M132.6 314.4h.01M411.5 336.5h.01M343.9 311.7h.01M108.0 322.7h.01M264.2 303.2h.01M441.7 324.2h.01M226.6 312.0h.01M320.9 336.5h.01M213.7 306.6h.01M337.4 291.0h.01M107.9 309.3h.01M233.1 283.0h.01M107.3 326.6h.01M163.7 297.1h.01M293.4 306.2h.01M325.4 321.4h.01M142.2 313.3h.01M204.6 294.8h.01M168.1 315.0h.01M215.7 315.3h.01M200.4 307.9h.01M313.5 333.2h.01M421.1 333.2h.01M205.3 323.7h.01M480.4 323.2h.01M389.0 307.6h.01M369.7 328.6h.01M452.4 314.7h.01M439.9 315.8h.01M399.3 308.6h.01M316.5 305.3h.01M103.5 315.8h.01M262.5 330.2h.01M393.1 321.3h.01M231.6 315.6h.01M310.2 334.2h.01M141.0 330.0h.01M140.8 333.5h.01M274.8 323.4h.01M187.8 310.8h.01M204.5 293.9h.01M283.8 321.2h.01M321.0 300.7h.01M359.8 319.3h.01M265.7 311.6h.01M195.7 311.6h.01M181.0 324.9h.01M155.2 322.4h.01M125.9 341.9h.01M157.6 309.2h.01M285.7 328.8h.01M124.5 314.5h.01M426.5 295.0h.01M126.0 328.5h.01M235.0 303.3h.01M107.6 326.2h.01M245.8 313.9h.01M223.9 298.8h.01M205.1 298.9h.01M450.5 317.2h.01M321.3 326.3h.01M233.9 334.7h.01M416.6 325.5h.01M168.2 345.7h.01M224.7 304.4h.01M117.6 303.6h.01M180.6 298.2h.01M229.2 351.1h.01M457.8 313.2h.01M158.2 269.7h.01M407.8 319.3h.01M170.9 321.5h.01M242.5 291.0h.01M144.2 343.3h.01M373.6 305.4h.01M220.4 346.9h.01M435.3 314.6h.01M351.1 330.6h.01M210.1 314.0h.01M156.8 338.8h.01M221.1 311.7h.01M217.5 321.9h.01M129.8 308.5h.01M196.0 339.2h.01M225.4 350.3h.01M167.4 348.6h.01M390.7 306.9h.01M209.8 305.4h.01M267.3 372.7h.01M180.0 318.5h.01M241.9 343.6h.01M112.0 305.4h.01M247.0 291.7h.01M345.7 350.3h.01M178.9 279.8h.01M203.6 333.0h.01M134.2 299.3h.01M183.7 330.0h.01M203.8 378.2h.01M89.8 315.8h.01M213.2 300.2h.01M173.7 321.4h.01M191.2 294.9h.01M187.1 289.5h.01M339.2 190.8h.01M261.4 216.3h.01M266.8 229.2h.01M223.1 240.8h.01M244.7 241.1h.01M258.1 237.6h.01M288.1 211.1h.01M272.0 234.1h.01M280.8 234.8h.01M285.4 237.6h.01M328.6 238.3h.01M147.2 236.5h.01M153.7 242.9h.01M122.5 244.5h.01M190.7 243.8h.01M336.7 216.2h.01M382.5 234.5h.01M402.2 225.8h.01M547.6 298.0h.01M546.4 306.7h.01M550.8 316.9h.01M537.3 316.4h.01M540.0 320.0h.01M531.3 316.0h.01M528.7 315.3h.01M524.7 316.9h.01M530.4 322.9h.01M526.3 328.7h.01M524.0 304.9h.01M524.4 307.6h.01M511.7 306.0h.01M514.9 309.1h.01M517.3 309.7h.01M507.6 310.0h.01M508.4 313.7h.01M516.7 315.3h.01M518.7 318.7h.01M516.0 320.4h.01M513.3 323.3h.01M518.7 324.0h.01M508.7 320.0h.01M507.6 324.9h.01M506.7 328.0h.01M512.7 329.6h.01M514.9 332.0h.01M506.7 335.0h.01M515.0 341.0h.01M510.5 317.0h.01M511.5 326.5h.01M509.5 331.0h.01M506.0 316.5h.01M512.0 312.5h.01M452.0 278.3h.01M450.7 283.7h.01M482.4 288.3h.01M485.3 293.0h.01M472.0 290.0h.01M495.5 301.8h.01M502.7 301.6h.01M185.3 420.5h.01M202.8 413.7h.01M207.2 413.0h.01M222.5 416.7h.01M256.2 432.2h.01M228.8 442.0h.01M214.2 445.0h.01M364.2 426.2h.01M494.2 351.3h.01M444.2 346.2h.01M455.0 355.3h.01M430.8 361.7h.01M120.5 354.5h.01M135.8 370.0h.01M144.7 370.3h.01M145.3 374.7h.01M139.5 380.8h.01M147.8 381.3h.01M144.5 387.5h.01M131.3 396.3h.01M150.5 395.8h.01M144.7 400.8h.01M158.8 390.0h.01M158.3 374.2h.01M167.5 380.0h.01M167.5 385.8h.01M166.7 390.0h.01M170.0 390.8h.01M175.3 397.5h.01M182.0 410.0h.01M192.2 397.0h.01M176.7 384.2h.01M173.3 384.7h.01M188.0 390.3h.01M195.8 387.5h.01"/>
<path stroke="#0000ff" d="M376.4 284.0h.01M318.3 359.8h.01M262.7 342.8h.01M299.6 373.4h.01M245.8 294.9h.01M298.4 285.3h.01M310.0 357.3h.01M183.7 254.7h.01M99.5 307.2h.01M307.1 354.5h.01M224.0 345.5h.01M384.8 355.7h.01M341.3 285.1h.01M380.0 257.5h.01M363.3 372.4h.01M370.6 350.3h.01M220.5 275.6h.01M317.9 360.7h.01M338.0 338.5h.01M86.9 310.4h.01M330.7 331.7h.01M378.3 333.9h.01M299.5 280.2h.01M270.4 270.6h.01M334.1 300.6h.01M261.1 261.9h.01M253.6 263.7h.01M298.2 250.3h.01M304.3 274.9h.01M259.4 363.4h.01M324.5 249.1h.01M376.8 251.0h.01M304.9 331.3h.01M380.3 307.5h.01M286.5 355.8h.01M349.4 307.3h.01M178.2 351.4h.01M290.6 304.8h.01M111.3 301.9h.01M247.8 275.7h.01M366.6 339.3h.01M271.0 354.5h.01M266.4 273.9h.01M321.9 296.6h.01M227.6 266.1h.01M274.0 365.1h.01M287.5 242.4h.01M154.3 351.7h.01M96.8 308.5h.01M375.0 335.6h.01M376.5 301.5h.01M430.0 337.4h.01M344.9 328.9h.01M314.4 294.2h.01M263.5 270.9h.01M339.9 358.9h.01M204.6 343.2h.01M194.2 259.3h.01M328.7 337.6h.01M252.5 276.4h.01M310.4 349.0h.01M337.2 297.9h.01M374.3 284.7h.01M246.2 287.9h.01M245.4 256.7h.01M303.5 255.4h.01M232.2 287.3h.01M299.8 271.5h.01M314.5 356.0h.01M333.1 357.7h.01M295.4 352.5h.01M345.9 277.1h.01M235.7 359.1h.01M391.0 294.3h.01M252.8 351.6h.01M335.2 291.6h.01M311.9 253.6h.01M247.5 278.2h.01M152.1 338.3h.01M178.6 363.3h.01M174.3 338.8h.01M229.0 345.0h.01M330.1 302.3h.01M440.5 342.1h.01M271.4 328.6h.01M206.1 268.4h.01M118.0 290.1h.01M266.6 311.0h.01M410.3 344.2h.01M328.5 270.0h.01M262.0 258.7h.01M340.5 354.1h.01M303.4 336.5h.01M400.5 278.4h.01M439.6 344.0h.01M390.3 276.1h.01M251.6 286.8h.01M238.1 292.8h.01M285.1 304.1h.01M279.5 299.7h.01M349.5 334.4h.01M269.9 271.2h.01M292.7 369.4h.01M324.5 250.6h.01M148.2 302.1h.01M307.9 250.6h.01M344.9 352.8h.01M205.1 371.4h.01M132.2 355.4h.01M415.9 291.5h.01M259.1 350.7h.01M261.9 303.7h.01M300.8 288.0h.01M314.9 265.8h.01M295.9 339.0h.01M278.1 364.2h.01M227.7 271.1h.01M143.1 304.1h.01M211.4 246.9h.01M275.6 337.6h.01M285.6 290.5h.01M211.2 314.2h.01M459.7 336.1h.01M338.1 291.9h.01M288.1 359.0h.01M270.8 364.5h.01M217.2 283.0h.01M312.1 272.5h.01M299.5 363.9h.01M156.7 275.5h.01M145.4 268.5h.01M284.7 342.5h.01M316.3 355.4h.01M138.1 337.4h.01M211.0 351.7h.01M435.1 278.0h.01M223.1 290.3h.01M224.6 264.8h.01M403.4 279.0h.01M171.5 366.4h.01M246.1 262.5h.01M121.8 306.8h.01M144.2 301.5h.01M364.3 298.8h.01M325.0 271.1h.01M273.9 275.7h.01M357.8 357.3h.01M135.7 304.1h.01M361.8 271.3h.01M373.8 330.8h.01M357.8 285.2h.01M158.2 359.5h.01M338.5 357.5h.01M372.8 350.9h.01M354.2 282.0h.01M398.1 303.0h.01M225.5 249.5h.01M409.6 371.8h.01M258.3 290.1h.01M308.1 364.0h.01M403.4 338.6h.01M275.1 359.0h.01M168.8 256.0h.01M214.5 339.4h.01M268.6 302.7h.01M323.2 340.9h.01M284.6 281.8h.01M364.3 285.3h.01M363.2 372.7h.01M245.7 345.9h.01M279.7 363.6h.01M280.2 358.5h.01M277.7 243.0h.01M349.4 335.8h.01M319.9 363.4h.01M314.8 249.2h.01M264.8 278.7h.01M204.5 296.9h.01M350.8 272.6h.01M270.7 361.1h.01M210.0 342.8h.01M334.5 292.8h.01M412.1 287.6h.01M210.5 257.8h.01M178.3 293.7h.01M103.1 306.7h.01M300.6 277.5h.01M252.0 361.9h.01M306.8 274.5h.01M377.2 255.2h.01M370.0 335.7h.01M346.8 353.2h.01M169.8 338.8h.01M249.2 259.4h.01M332.1 341.4h.01M288.0 363.2h.01M217.2 304.1h.01M294.9 281.5h.01M343.3 335.3h.01M296.9 262.9h.01M387.3 299.4h.01M394.9 353.3h.01M330.9 300.6h.01M234.6 292.3h.01M119.7 301.1h.01M334.3 348.5h.01M410.8 290.3h.01M274.7 350.1h.01M148.3 296.6h.01M363.7 270.4h.01M323.8 255.3h.01M250.8 268.2h.01M273.8 259.1h.01M173.5 257.4h.01M313.8 273.2h.01M204.5 261.9h.01M249.3 303.5h.01M121.0 293.0h.01M176.1 352.0h.01M392.8 340.9h.01M309.3 357.7h.01M375.1 333.3h.01M362.1 304.8h.01M311.3 274.0h.01M258.7 340.0h.01M215.0 259.4h.01M147.5 363.6h.01M112.5 305.5h.01M95.5 306.9h.01M93.3 294.5h.01M316.5 283.1h.01M256.8 354.2h.01M87.5 308.6h.01M348.9 347.1h.01M229.2 303.7h.01M203.9 264.1h.01M359.0 306.6h.01M303.9 289.5h.01M126.8 336.9h.01M152.0 337.9h.01M323.5 346.1h.01M318.0 338.6h.01M243.5 307.9h.01M169.7 300.7h.01M142.6 281.0h.01M159.0 293.6h.01M298.4 263.2h.01M359.7 284.6h.01M415.9 290.0h.01M183.1 298.2h.01M419.0 281.9h.01M463.8 338.8h.01M307.2 358.0h.01M145.2 285.7h.01M213.3 291.3h.01M293.1 363.7h.01M326.4 265.1h.01M335.8 268.4h.01M401.8 296.1h.01M417.3 361.7h.01M354.8 267.2h.01M312.4 304.4h.01M319.0 337.7h.01M286.2 298.1h.01M313.5 365.9h.01M107.9 299.7h.01M162.6 282.3h.01M314.1 258.9h.01M387.8 266.8h.01M189.6 346.1h.01M224.7 249.5h.01M223.9 272.0h.01M254.8 266.7h.01M214.6 279.5h.01M246.4 348.1h.01M152.0 301.2h.01M350.9 362.0h.01M265.2 263.5h.01M269.8 306.1h.01M270.9 292.1h.01M300.2 285.4h.01M358.1 345.6h.01M208.1 303.9h.01M381.3 352.2h.01M170.6 284.7h.01M376.3 358.5h.01M249.1 368.3h.01M362.3 339.1h.01M405.5 283.6h.01M146.6 334.8h.01M328.4 298.0h.01M345.6 261.0h.01M302.1 289.4h.01M248.1 262.4h.01M313.3 333.0h.01M316.5 354.9h.01M181.5 335.1h.01M140.4 305.9h.01M196.7 257.7h.01M308.5 292.5h.01M116.8 335.7h.01M151.1 272.4h.01M317.6 372.9h.01M260.6 359.8h.01M386.5 344.3h.01M334.5 334.4h.01M176.9 338.8h.01M250.2 270.2h.01M314.2 342.4h.01M202.2 251.6h.01M147.7 304.5h.01M399.0 347.0h.01M339.5 270.4h.01M376.5 282.0h.01M347.2 273.3h.01M359.6 286.5h.01M262.3 280.9h.01M165.2 367.4h.01M310.5 259.3h.01M335.6 301.0h.01M321.4 293.8h.01M286.4 333.5h.01M312.9 246.0h.01M281.6 335.0h.01M336.4 339.2h.01M435.8 271.8h.01M288.9 337.4h.01M137.2 298.3h.01M414.8 300.9h.01M371.5 294.0h.01M332.0 275.8h.01M198.0 337.5h.01M215.8 343.5h.01M243.9 355.1h.01M349.5 292.7h.01M387.8 295.0h.01M320.5 333.4h.01M327.9 328.9h.01M344.6 336.9h.01M324.1 342.5h.01M383.6 286.4h.01M294.3 337.2h.01M280.0 302.7h.01M252.4 299.7h.01M389.0 306.1h.01M122.6 307.4h.01M381.0 301.6h.01M312.5 286.1h.01M399.1 349.5h.01M341.4 363.4h.01M362.3 358.9h.01M293.6 342.1h.01M180.3 279.6h.01M119.1 304.0h.01M303.1 353.3h.01M326.9 302.5h.01M276.9 263.9h.01M303.5 272.5h.01M269.9 334.0h.01M274.7 281.7h.01M377.1 281.4h.01M318.9 341.4h.01M327.0 299.2h.01M358.0 357.4h.01M348.7 368.1h.01M225.6 364.0h.01M351.8 347.4h.01M329.6 297.0h.01M413.5 271.2h.01M220.3 288.7h.01M254.8 248.0h.01M349.5 365.8h.01M399.3 337.2h.01M195.9 273.9h.01M154.5 289.8h.01M288.2 265.4h.01M317.5 309.8h.01M141.1 267.0h.01M222.8 363.6h.01M101.8 300.8h.01M365.2 359.3h.01M160.9 268.5h.01M207.5 297.9h.01M429.6 291.3h.01M146.2 342.6h.01M262.8 344.8h.01M380.0 275.6h.01M102.7 295.4h.01M238.9 353.9h.01M373.3 335.8h.01M269.0 338.9h.01M387.0 357.7h.01M246.8 286.1h.01M390.1 289.1h.01M188.9 302.3h.01M258.8 333.0h.01M305.1 359.0h.01M289.4 338.4h.01M283.7 372.0h.01M179.7 290.1h.01M365.1 290.2h.01M354.6 277.7h.01M395.1 285.2h.01M373.4 338.2h.01M259.9 354.4h.01M271.7 297.3h.01M398.9 361.6h.01M233.4 250.5h.01M347.0 371.5h.01M300.0 351.6h.01M366.4 341.9h.01M375.5 265.9h.01M376.3 374.0h.01M396.7 298.1h.01M423.2 366.1h.01M396.6 358.1h.01M353.1 357.8h.01M258.3 296.8h.01M258.8 342.8h.01M208.3 250.6h.01M346.6 301.3h.01M251.0 302.4h.01M274.7 364.7h.01M234.9 267.3h.01M354.5 290.2h.01M154.3 253.3h.01M316.9 278.5h.01M252.3 350.2h.01M273.7 349.7h.01M333.7 325.0h.01M326.7 298.6h.01M185.0 283.0h.01M291.6 246.7h.01M142.4 335.3h.01M131.5 331.7h.01M353.0 293.3h.01M257.6 305.4h.01M292.9 348.1h.01M289.0 289.8h.01M231.4 331.5h.01M414.5 299.8h.01M307.1 278.3h.01M363.7 267.3h.01M388.2 353.2h.01M318.8 304.4h.01M349.0 354.8h.01M284.2 300.3h.01M366.6 243.7h.01M106.8 300.3h.01M282.9 263.5h.01M205.2 248.4h.01M270.3 265.4h.01M294.8 368.2h.01M92.7 304.9h.01M291.5 371.1h.01M289.5 279.2h.01M243.8 257.2h.01M192.9 347.7h.01M227.4 337.3h.01M359.8 300.4h.01M366.6 321.8h.01M316.2 346.5h.01M196.0 291.4h.01M323.6 292.2h.01M174.0 263.8h.01M131.5 306.0h.01M303.6 332.2h.01M243.4 281.9h.01M267.8 363.4h.01M257.2 302.0h.01M302.1 274.5h.01M322.9 356.3h.01M271.1 266.7h.01M306.0 282.6h.01M324.2 266.3h.01M163.0 279.5h.01M253.0 365.9h.01M372.4 346.7h.01M132.4 353.9h.01M137.6 289.9h.01M309.5 271.7h.01M288.5 261.0h.01M322.5 299.8h.01M284.3 268.9h.01M155.5 361.7h.01M118.6 307.3h.01M303.9 277.4h.01M234.8 363.7h.01M257.4 338.9h.01M311.0 355.8h.01M299.9 364.3h.01M429.9 282.9h.01M331.4 365.2h.01M276.0 282.0h.01M360.6 308.7h.01M271.1 304.6h.01M232.7 354.7h.01M325.8 352.7h.01M378.6 289.4h.01M295.0 244.6h.01M293.7 306.8h.01M284.0 298.0h.01M278.7 309.6h.01M388.0 254.8h.01M231.1 290.1h.01M337.8 280.8h.01M251.1 348.7h.01M261.2 370.4h.01M370.9 289.3h.01M383.7 367.7h.01M240.7 360.8h.01M349.9 297.6h.01M269.9 338.9h.01M393.1 370.9h.01M275.8 247.0h.01M255.2 372.0h.01M305.5 288.8h.01M202.8 285.4h.01M293.0 336.4h.01M302.5 362.3h.01M296.9 354.6h.01M275.5 276.6h.01M366.3 283.9h.01M366.7 347.6h.01M335.9 351.0h.01M255.1 249.3h.01M310.0 342.1h.01M260.2 366.4h.01M279.0 347.1h.01M305.5 329.1h.01M147.6 350.6h.01M371.4 289.8h.01M328.1 280.2h.01M258.6 294.4h.01M280.6 345.9h.01M108.2 301.7h.01M342.9 340.0h.01M154.4 302.3h.01M356.8 361.1h.01M141.9 279.7h.01M341.9 289.6h.01M318.4 249.4h.01M343.3 287.2h.01M317.8 278.8h.01M320.9 358.3h.01M394.5 352.7h.01M376.2 264.5h.01M261.6 345.8h.01M261.4 271.2h.01M354.4 281.5h.01M299.2 255.8h.01M295.2 280.2h.01M250.4 357.4h.01M382.8 289.1h.01M271.9 353.9h.01M155.7 292.7h.01M387.0 349.7h.01M354.6 299.4h.01M289.8 251.8h.01M301.3 258.2h.01M412.0 342.9h.01M314.9 280.8h.01M328.6 368.4h.01M299.2 272.4h.01M347.2 265.7h.01M103.9 296.9h.01M314.7 369.9h.01M293.9 352.8h.01M268.3 288.6h.01M237.4 257.0h.01M342.3 315.9h.01M263.9 363.4h.01M377.8 338.6h.01M407.5 295.3h.01M397.2 300.5h.01M114.8 292.9h.01M321.1 296.1h.01M280.3 304.6h.01M222.4 295.5h.01M357.7 335.6h.01M308.0 292.8h.01M285.7 338.8h.01M314.1 299.8h.01M114.4 298.2h.01M273.9 291.1h.01M356.9 342.3h.01M323.7 279.5h.01M273.7 297.7h.01M240.3 289.2h.01M286.4 338.8h.01M246.9 269.7h.01M259.5 275.3h.01M355.7 336.4h.01M307.0 306.5h.01M277.8 297.3h.01M303.3 363.4h.01M230.1 362.2h.01M356.7 335.9h.01M315.2 336.9h.01M167.5 369.0h.01M247.1 359.5h.01M287.8 359.7h.01M277.5 351.9h.01M238.5 258.6h.01M187.1 285.4h.01M303.6 303.8h.01M398.1 273.8h.01M191.8 254.4h.01M299.7 293.9h.01M375.5 341.7h.01M252.7 248.1h.01M264.6 367.9h.01M123.6 302.9h.01M273.7 263.1h.01M278.6 246.4h.01M109.8 306.7h.01M355.8 340.6h.01M400.8 340.1h.01M312.6 346.1h.01M235.4 260.9h.01M284.8 346.5h.01M260.3 288.0h.01M275.4 319.7h.01M325.8 305.0h.01M305.7 360.9h.01M328.7 350.3h.01M299.6 353.6h.01M301.3 290.4h.01M250.7 293.5h.01M436.0 340.3h.01M351.4 305.5h.01M381.0 288.1h.01M402.7 347.6h.01M211.4 264.4h.01M327.4 335.9h.01M214.7 355.6h.01M358.4 341.2h.01M262.0 264.0h.01M225.6 336.8h.01M128.7 254.8h.01M328.9 335.5h.01M306.9 299.7h.01M365.4 282.9h.01M247.6 361.6h.01M390.3 337.3h.01M368.9 361.3h.01M200.8 282.9h.01M354.4 276.0h.01M222.8 251.4h.01M262.9 286.5h.01M169.9 254.8h.01M225.0 357.0h.01M249.9 349.3h.01M204.2 285.8h.01M411.5 289.6h.01M131.9 296.7h.01M290.5 353.0h.01M253.5 292.0h.01M246.8 269.4h.01M254.2 332.7h.01M196.1 269.0h.01M244.4 291.9h.01M350.8 370.1h.01M153.1 300.4h.01M323.0 302.0h.01M350.3 345.2h.01M307.0 370.3h.01M335.1 296.1h.01M365.5 350.2h.01M286.5 272.6h.01M339.0 358.9h.01M119.1 294.4h.01M249.0 297.8h.01M314.6 354.9h.01M270.5 333.2h.01M303.0 300.0h.01M292.8 357.1h.01M387.5 289.9h.01M189.3 344.5h.01M243.9 299.1h.01M220.3 355.3h.01M144.8 287.6h.01M269.6 302.4h.01M310.8 297.0h.01M316.0 258.5h.01M334.2 356.7h.01M305.1 245.5h.01M335.5 253.8h.01M138.3 297.9h.01M200.3 373.2h.01M427.9 344.8h.01M373.8 288.5h.01M345.5 284.1h.01M284.6 289.8h.01M271.8 355.9h.01M430.3 340.9h.01M342.7 272.0h.01M248.3 338.6h.01M331.8 354.0h.01M268.0 367.8h.01M341.6 363.7h.01M276.4 290.8h.01M334.3 267.8h.01M271.7 303.0h.01M253.7 280.0h.01M265.3 300.2h.01M221.9 357.2h.01M257.1 280.7h.01M225.0 355.3h.01M388.3 343.3h.01M325.4 362.1h.01M273.5 354.8h.01M330.0 271.3h.01M289.1 344.7h.01M290.7 293.3h.01M368.6 351.7h.01M359.8 300.2h.01M486.6 333.8h.01M415.5 373.6h.01M252.9 264.8h.01M419.8 354.0h.01M228.3 249.2h.01M276.7 293.3h.01M290.9 284.5h.01M201.4 344.5h.01M407.6 357.5h.01M340.1 274.7h.01M404.3 354.9h.01M393.6 268.6h.01M309.9 355.5h.01M247.6 286.9h.01M344.6 343.0h.01M386.6 270.3h.01M260.7 305.0h.01M318.6 348.9h.01M242.9 344.5h.01M211.2 269.2h.01M281.2 274.6h.01M305.9 351.8h.01M323.8 333.5h.01M224.8 276.8h.01M282.7 250.7h.01M247.3 260.0h.01M118.1 278.5h.01M371.6 285.6h.01M355.8 333.1h.01M299.7 342.4h.01M376.1 305.7h.01M228.1 279.6h.01M287.7 294.7h.01M413.7 371.1h.01M369.3 287.6h.01M252.5 344.9h.01M346.2 326.4h.01M302.3 288.0h.01M252.2 268.1h.01M271.5 277.8h.01M250.4 269.2h.01M302.1 294.4h.01M347.7 294.2h.01M322.1 346.6h.01M248.1 364.9h.01M234.4 302.3h.01M199.9 287.3h.01M266.0 289.8h.01M289.3 353.5h.01M290.4 371.2h.01M294.3 293.5h.01M303.0 292.1h.01M276.2 339.4h.01M408.7 295.1h.01M373.5 307.8h.01M427.3 343.1h.01M155.7 278.5h.01M251.4 340.1h.01M321.8 278.0h.01M397.4 362.0h.01M257.6 298.2h.01M286.2 360.0h.01M380.5 371.1h.01M234.4 335.9h.01M130.5 294.5h.01M393.1 350.5h.01M307.8 254.7h.01M277.6 268.2h.01M318.5 343.6h.01M309.5 281.4h.01M296.7 298.1h.01M107.0 294.7h.01M286.7 276.5h.01M279.2 263.4h.01M169.9 288.1h.01M250.3 276.5h.01M255.5 346.5h.01M276.3 343.3h.01M181.1 362.0h.01M245.0 351.9h.01M372.3 294.2h.01M238.2 293.8h.01M376.2 344.6h.01M196.1 335.2h.01M269.9 360.3h.01M369.9 303.7h.01M239.7 339.6h.01M376.2 271.9h.01M239.6 283.0h.01M285.3 305.9h.01M380.2 258.0h.01M284.9 352.6h.01M157.3 337.7h.01M392.0 350.5h.01M357.3 353.4h.01M264.3 268.0h.01M316.8 302.0h.01M338.8 291.8h.01M153.8 349.2h.01M364.0 369.2h.01M288.1 340.3h.01M150.7 258.3h.01M303.1 341.8h.01M246.8 249.8h.01M115.1 303.3h.01M257.4 345.0h.01M263.4 363.2h.01M304.6 336.3h.01M316.2 352.2h.01M293.6 359.0h.01M368.0 351.1h.01M118.7 298.4h.01M303.9 243.2h.01M251.1 356.7h.01M155.6 364.7h.01M244.6 259.4h.01M284.1 251.8h.01M377.3 278.4h.01M254.3 263.7h.01M318.4 352.7h.01M161.7 339.2h.01M368.3 348.6h.01M392.6 251.7h.01M347.5 297.7h.01M401.4 294.5h.01M368.3 303.5h.01M304.4 357.3h.01M351.0 370.0h.01M273.8 297.9h.01M410.8 355.6h.01M158.6 337.0h.01M304.3 364.0h.01M420.6 294.4h.01M165.1 274.8h.01M279.4 290.8h.01M275.7 282.3h.01M328.6 352.2h.01M399.6 357.0h.01M192.2 272.4h.01M258.4 293.7h.01M160.9 300.2h.01M276.2 359.4h.01M405.4 335.4h.01M247.5 280.3h.01M323.3 291.9h.01M130.0 334.3h.01M336.6 351.2h.01M292.0 267.7h.01M309.1 341.2h.01M207.1 291.7h.01M242.8 284.6h.01M331.6 284.3h.01M252.9 271.8h.01M179.8 302.4h.01M261.5 244.9h.01M372.7 344.7h.01M279.8 285.9h.01M207.9 360.1h.01M406.8 290.3h.01M216.7 363.3h.01M287.6 350.8h.01M211.2 299.0h.01M93.3 305.5h.01M263.7 295.9h.01M208.9 366.5h.01M314.3 340.4h.01M295.7 343.1h.01M163.1 302.9h.01M387.6 351.9h.01M210.7 357.7h.01M305.7 367.8h.01M243.9 271.2h.01M315.5 296.5h.01M250.8 252.2h.01M111.8 291.6h.01M278.2 268.2h.01M319.8 344.7h.01M315.6 345.4h.01M355.7 342.6h.01M369.4 341.9h.01M280.2 282.0h.01M274.4 293.9h.01M285.8 296.8h.01M304.6 308.3h.01M264.2 284.6h.01M313.0 300.8h.01M186.3 363.0h.01M268.4 345.7h.01M335.2 294.1h.01M215.8 289.8h.01M297.7 261.9h.01M209.6 242.8h.01M339.5 356.8h.01M337.3 301.9h.01M107.1 305.0h.01M119.3 339.6h.01M333.0 365.5h.01M316.7 337.1h.01M131.8 304.6h.01M356.3 281.6h.01M196.4 339.3h.01M311.2 299.7h.01M180.7 285.4h.01M305.3 295.7h.01M311.8 352.3h.01M354.3 330.6h.01M313.5 272.7h.01M193.4 359.3h.01M231.3 243.0h.01M293.4 335.7h.01M127.0 294.3h.01M187.5 285.3h.01M367.3 278.4h.01M285.9 363.7h.01M247.8 364.4h.01M456.5 341.2h.01M183.0 336.5h.01M440.0 341.8h.01M394.8 347.8h.01M184.1 339.3h.01M297.4 278.3h.01M336.7 268.1h.01M258.9 260.5h.01M269.4 327.7h.01M278.9 319.7h.01M255.2 288.5h.01M208.2 294.8h.01M301.1 305.9h.01M166.1 291.1h.01M85.7 306.7h.01M250.7 341.7h.01M258.9 273.4h.01M363.2 304.2h.01M352.6 359.3h.01M268.8 342.4h.01M366.2 363.8h.01M293.0 246.9h.01M383.9 304.9h.01M318.8 292.8h.01M281.2 360.0h.01M374.4 253.7h.01M271.6 259.7h.01M315.7 368.6h.01M220.1 337.1h.01M406.2 293.1h.01M393.2 357.2h.01M166.7 289.3h.01M357.2 328.9h.01M241.9 296.6h.01M290.0 356.1h.01M283.3 340.8h.01M268.8 272.4h.01M330.2 255.1h.01M229.3 258.6h.01M268.7 345.2h.01M216.6 362.5h.01M353.8 337.3h.01M313.2 307.2h.01M316.0 272.2h.01M90.9 310.3h.01M330.4 294.5h.01M339.4 349.2h.01M188.5 366.9h.01M229.3 290.2h.01M242.3 286.1h.01M174.4 263.9h.01M302.3 285.8h.01M384.5 283.4h.01M180.8 297.8h.01M320.5 368.1h.01M317.2 347.3h.01M206.3 301.3h.01M328.9 246.3h.01M154.2 361.1h.01M257.9 301.5h.01M343.0 337.3h.01M292.8 334.1h.01M354.1 280.6h.01M396.7 278.1h.01M238.3 339.6h.01M267.9 268.1h.01M310.5 279.4h.01M349.5 265.4h.01M354.8 261.5h.01M268.1 280.4h.01M227.2 355.6h.01M307.1 339.8h.01M439.8 281.2h.01M275.5 273.2h.01M421.3 344.9h.01M264.1 250.4h.01M401.8 289.9h.01M108.3 303.3h.01M353.2 341.7h.01M332.7 270.3h.01M375.8 339.4h.01M123.6 304.9h.01M299.8 296.7h.01M331.5 277.2h.01M361.7 351.7h.01M277.9 302.5h.01M138.4 352.0h.01M356.6 351.5h.01M183.7 340.0h.01M236.7 348.9h.01M368.8 339.0h.01M201.9 271.0h.01M255.3 342.4h.01M303.1 355.0h.01M318.8 299.5h.01M268.1 282.2h.01M275.8 356.0h.01M428.1 331.5h.01M362.7 280.7h.01M258.7 290.8h.01M302.4 282.5h.01M373.1 351.6h.01M229.6 340.2h.01M381.5 341.9h.01M319.2 362.7h.01M244.8 272.7h.01M104.7 302.9h.01M319.4 290.0h.01M330.5 253.4h.01M271.2 303.6h.01M237.3 295.3h.01M318.0 361.1h.01M92.7 307.7h.01M116.0 299.5h.01M404.9 301.1h.01M292.4 349.1h.01M299.0 371.5h.01M292.0 294.5h.01M381.9 256.5h.01M291.9 298.7h.01M333.7 263.3h.01M237.1 355.1h.01M350.5 258.6h.01M238.1 336.6h.01M117.2 306.0h.01M154.2 285.6h.01M298.0 366.0h.01M294.8 288.9h.01M327.5 348.2h.01M240.8 364.5h.01M115.0 304.1h.01M322.2 306.2h.01M410.1 357.9h.01M353.3 262.9h.01M181.9 306.7h.01M360.4 283.2h.01M260.2 265.2h.01M341.5 310.3h.01M308.7 275.7h.01M379.5 283.7h.01M317.5 365.1h.01M356.3 369.0h.01M394.9 335.5h.01M120.9 294.8h.01M405.9 285.5h.01M155.4 347.3h.01M112.7 305.0h.01M202.3 243.9h.01M276.5 286.2h.01M312.8 338.7h.01M285.5 289.3h.01M258.1 285.8h.01M261.4 283.2h.01M324.0 301.3h.01M401.0 304.6h.01M171.3 338.5h.01M274.7 341.4h.01M352.0 341.9h.01M223.7 293.3h.01M317.6 286.5h.01M304.2 279.6h.01M404.8 303.0h.01M176.6 346.8h.01M274.5 301.7h.01M274.7 302.3h.01M228.9 271.9h.01M318.6 289.6h.01M340.0 360.6h.01M322.3 270.3h.01M312.9 301.5h.01M254.2 251.4h.01M426.0 354.6h.01M334.6 340.0h.01M339.1 279.4h.01M316.5 341.9h.01M280.7 310.5h.01M250.6 364.1h.01M377.4 298.2h.01M329.3 302.7h.01M116.9 307.4h.01M296.5 344.2h.01M324.8 349.1h.01M262.8 296.5h.01M351.9 303.0h.01M325.6 341.4h.01M332.6 256.8h.01M323.8 265.3h.01M450.4 335.7h.01M419.0 291.6h.01M283.0 276.5h.01M295.2 300.0h.01M304.3 349.6h.01M229.6 286.1h.01M290.8 298.0h.01M134.4 293.9h.01M307.1 260.1h.01M270.5 343.6h.01M382.2 288.8h.01M348.8 284.7h.01M296.1 347.8h.01M249.9 328.1h.01M338.9 340.9h.01M341.8 284.7h.01M381.1 363.8h.01M279.1 268.1h.01M255.2 301.9h.01M100.9 307.2h.01M178.0 339.9h.01M384.0 353.0h.01M353.0 295.3h.01M373.8 302.5h.01M239.9 284.6h.01M297.0 253.7h.01M149.6 286.9h.01M301.7 354.8h.01M371.6 347.1h.01M292.0 290.3h.01M304.9 362.5h.01M126.8 301.9h.01M344.3 336.0h.01M346.5 299.2h.01M359.9 348.2h.01M422.0 306.3h.01M311.1 268.8h.01M277.6 352.5h.01M151.5 338.9h.01M336.6 347.9h.01M231.5 285.1h.01M259.2 293.8h.01M307.1 287.2h.01M282.2 304.5h.01M354.0 332.7h.01M351.0 340.4h.01M358.3 356.7h.01M226.7 370.2h.01M364.2 356.0h.01M276.6 364.4h.01M298.2 357.4h.01M285.7 283.6h.01M344.5 288.8h.01M175.9 268.4h.01M353.1 258.7h.01M316.9 363.8h.01M178.7 356.9h.01M271.5 300.6h.01M152.1 288.7h.01M353.4 372.5h.01M254.9 280.5h.01M326.1 287.0h.01M184.9 368.7h.01M296.5 342.9h.01M274.3 286.4h.01M321.2 328.8h.01M217.4 293.5h.01M169.6 334.2h.01M187.3 355.7h.01M321.9 288.4h.01M347.6 334.7h.01M174.9 355.3h.01M323.9 350.3h.01M306.2 359.3h.01M373.9 264.7h.01M402.0 278.2h.01M191.2 347.8h.01M387.2 302.9h.01M356.2 273.3h.01M273.8 350.9h.01M224.1 352.2h.01M260.8 300.3h.01M324.7 283.7h.01M393.3 299.3h.01M302.9 370.9h.01M266.2 284.6h.01M288.9 271.1h.01M255.3 290.9h.01M196.1 346.7h.01M253.3 289.7h.01M252.1 367.5h.01M389.1 299.5h.01M285.9 347.3h.01M288.5 364.6h.01M340.5 253.9h.01M307.2 357.4h.01M300.4 360.9h.01M279.4 293.2h.01M372.0 353.5h.01M386.8 291.6h.01M388.9 272.0h.01M151.2 295.1h.01M284.6 303.1h.01M401.9 334.5h.01M169.8 363.0h.01M398.9 349.1h.01M270.3 339.4h.01M315.9 295.4h.01M310.7 344.6h.01M324.8 277.5h.01M333.6 355.4h.01M316.0 243.5h.01M280.9 342.2h.01M318.2 272.3h.01M248.9 261.4h.01M335.9 278.2h.01M128.7 306.8h.01M298.0 278.4h.01M366.1 304.2h.01M252.1 297.9h.01M286.2 295.4h.01M195.9 346.0h.01M198.8 296.8h.01M355.5 304.1h.01M275.2 301.7h.01M220.3 248.3h.01M263.0 368.3h.01M290.5 359.2h.01M262.1 275.5h.01M296.3 303.6h.01M305.4 296.7h.01M293.4 295.3h.01M404.9 355.2h.01M311.0 349.2h.01M354.1 352.6h.01M171.8 335.4h.01M349.2 298.1h.01M289.6 298.7h.01M238.2 279.5h.01M158.9 286.2h.01M179.8 306.6h.01M184.7 369.9h.01M309.5 346.4h.01M140.5 339.0h.01M404.6 304.7h.01M428.9 322.2h.01M337.4 244.5h.01M331.8 246.1h.01M341.7 296.7h.01M435.0 297.1h.01M368.3 356.2h.01M329.7 361.4h.01M130.8 265.3h.01M290.7 263.7h.01M367.7 268.5h.01M380.7 300.0h.01M336.1 288.3h.01M276.9 270.7h.01M289.0 283.1h.01M336.9 336.4h.01M380.2 293.8h.01M263.7 291.1h.01M351.5 298.5h.01M301.9 356.6h.01M147.1 341.5h.01M309.3 287.6h.01M172.2 251.6h.01M310.3 275.4h.01M388.9 331.4h.01M351.3 355.9h.01M339.9 292.7h.01M283.1 336.0h.01M349.8 282.7h.01M335.8 363.1h.01M394.0 308.9h.01M287.0 347.7h.01M273.4 283.4h.01M250.4 282.6h.01M361.1 359.3h.01M355.4 372.7h.01M197.7 301.1h.01M250.1 355.1h.01M306.6 243.0h.01M306.2 334.2h.01M328.1 290.1h.01M403.1 279.4h.01M311.0 259.3h.01M388.8 293.5h.01M425.6 294.2h.01M280.2 291.0h.01M380.2 288.5h.01M383.8 335.3h.01M224.4 293.1h.01M104.2 302.0h.01M322.5 288.8h.01M358.7 372.8h.01M280.1 333.2h.01M335.4 278.6h.01M414.0 296.4h.01M360.2 299.2h.01M362.6 295.8h.01M256.5 361.8h.01M247.5 288.4h.01M111.8 303.0h.01M316.8 299.5h.01M185.5 340.1h.01M324.0 369.6h.01M363.3 345.8h.01M200.9 373.7h.01M411.8 364.9h.01M321.5 346.2h.01M263.9 301.4h.01M317.2 291.9h.01M391.0 266.3h.01M198.8 272.4h.01M433.7 328.3h.01M111.6 298.3h.01M232.5 244.1h.01M310.3 293.0h.01M239.6 252.0h.01M381.9 349.5h.01M374.9 295.5h.01M148.7 289.3h.01M336.5 323.1h.01M264.4 298.8h.01M235.5 294.5h.01M242.7 272.5h.01M354.2 284.5h.01M326.5 345.6h.01M278.1 343.8h.01M223.1 294.6h.01M353.4 298.8h.01M103.7 302.4h.01M304.6 337.8h.01M176.9 338.4h.01M254.2 343.4h.01M293.9 355.5h.01M416.1 342.3h.01M318.0 288.3h.01M296.9 290.9h.01M326.6 250.9h.01M369.4 345.2h.01M380.5 256.8h.01M180.5 348.1h.01M245.9 362.8h.01M107.7 305.8h.01M253.1 353.5h.01M320.4 286.0h.01M252.6 256.1h.01M360.0 349.1h.01M300.8 269.9h.01M340.3 297.4h.01M301.6 279.3h.01M301.1 269.6h.01M194.7 278.1h.01M305.1 288.5h.01M377.7 301.7h.01M211.3 254.2h.01M345.8 245.7h.01M265.5 273.8h.01M357.4 299.3h.01M197.9 270.1h.01M305.3 263.0h.01M209.1 366.9h.01M397.5 348.4h.01M348.0 340.2h.01M330.0 305.7h.01M338.2 281.2h.01M397.8 323.9h.01M257.6 246.4h.01M305.3 282.6h.01M304.7 251.6h.01M325.2 254.6h.01M281.2 305.0h.01M221.6 256.8h.01M418.5 340.1h.01M377.2 274.5h.01M258.4 257.5h.01M363.3 277.6h.01M307.2 349.8h.01M280.0 345.0h.01M220.0 270.4h.01M112.4 298.9h.01M270.0 251.7h.01M261.3 289.6h.01M339.0 298.5h.01M323.4 338.1h.01M312.7 279.3h.01M383.0 275.2h.01M347.1 286.9h.01M293.9 288.5h.01M171.2 352.8h.01M233.6 242.2h.01M416.4 343.5h.01M300.2 253.5h.01M395.1 350.8h.01M428.0 327.7h.01M296.5 305.2h.01M171.9 373.2h.01M132.1 305.0h.01M290.0 301.2h.01M281.2 366.4h.01M302.9 264.1h.01M294.6 370.1h.01M141.7 366.8h.01M369.1 296.6h.01M331.2 371.5h.01M201.5 363.9h.01M356.6 348.6h.01M221.0 244.3h.01M193.5 261.4h.01M321.6 275.5h.01M345.9 368.5h.01M278.4 289.0h.01M300.0 337.0h.01M272.0 370.0h.01M344.1 297.7h.01M331.8 293.2h.01M402.5 335.2h.01M340.4 347.5h.01M139.5 300.2h.01M365.7 255.0h.01M293.4 342.1h.01M311.1 366.0h.01M356.1 284.6h.01M294.2 267.4h.01M101.7 306.4h.01M337.9 294.7h.01M200.2 304.8h.01M320.9 284.8h.01M332.8 272.2h.01M287.9 354.6h.01M393.8 306.7h.01M295.0 295.0h.01M347.6 347.1h.01M287.5 290.4h.01M250.3 350.1h.01M316.2 368.0h.01M280.5 288.5h.01M357.7 284.4h.01M325.4 289.4h.01M324.7 275.6h.01M337.1 345.7h.01M220.3 354.9h.01M297.7 255.6h.01M268.6 289.5h.01M377.6 341.2h.01M334.3 337.3h.01M245.2 334.4h.01M388.9 265.7h.01M279.2 355.4h.01M251.5 360.6h.01M249.3 294.4h.01M238.3 363.8h.01M356.4 260.6h.01M313.0 277.7h.01M332.7 257.6h.01M378.3 281.4h.01M128.0 305.3h.01M313.7 278.1h.01M306.8 370.6h.01M114.0 304.1h.01M428.6 366.3h.01M269.5 253.2h.01M334.6 341.2h.01M330.6 343.7h.01M336.1 331.6h.01M140.5 295.9h.01M352.8 356.6h.01M133.2 305.7h.01M263.5 277.6h.01M348.7 343.0h.01M434.0 344.5h.01M298.6 368.1h.01M207.0 370.7h.01M119.6 280.1h.01M325.8 257.0h.01M352.5 344.0h.01M171.4 307.9h.01M325.8 336.3h.01M290.3 270.4h.01M273.8 356.9h.01M305.5 337.5h.01M284.4 338.6h.01M326.9 347.4h.01M332.2 274.7h.01M272.2 285.0h.01M260.7 281.4h.01M269.6 298.5h.01M312.5 353.1h.01M290.9 364.1h.01M286.9 285.9h.01M240.3 364.7h.01M329.5 285.6h.01M335.0 366.9h.01M116.2 296.0h.01M282.9 350.7h.01M374.5 243.2h.01M297.9 285.2h.01M292.0 363.9h.01M291.0 301.8h.01M311.0 266.7h.01M243.9 331.1h.01M264.3 374.0h.01M329.2 283.6h.01M322.2 291.0h.01M242.5 341.8h.01M435.3 297.4h.01M195.2 289.7h.01M348.3 280.8h.01M161.6 270.9h.01M336.1 311.9h.01M308.3 342.9h.01M148.7 282.3h.01M317.0 336.2h.01M425.5 345.5h.01M86.2 303.5h.01M370.5 362.9h.01M258.1 360.3h.01M203.5 270.9h.01M402.7 302.9h.01M334.7 340.3h.01M306.1 307.0h.01M292.9 288.6h.01M223.9 288.4h.01M126.3 299.5h.01M239.9 306.6h.01M246.9 250.5h.01M254.0 286.5h.01M367.1 341.8h.01M325.7 370.9h.01M329.7 345.5h.01M254.4 335.7h.01M300.8 344.6h.01M240.5 353.7h.01M266.8 296.4h.01M260.0 288.9h.01M307.4 342.6h.01M328.2 294.2h.01M303.9 303.5h.01M472.8 344.9h.01M219.4 279.3h.01M299.2 337.8h.01M353.2 348.7h.01M282.2 294.6h.01M348.1 352.6h.01M136.4 286.6h.01M204.5 302.0h.01M174.7 367.5h.01M170.1 338.4h.01M287.5 278.2h.01M292.6 342.5h.01M256.9 360.9h.01M295.5 268.5h.01M374.5 283.8h.01M281.1 332.6h.01M283.1 336.7h.01M233.4 253.2h.01M243.3 323.7h.01M358.2 336.7h.01M98.8 298.1h.01M269.0 267.3h.01M312.3 290.4h.01M205.8 299.8h.01M367.6 265.4h.01M277.9 285.5h.01M156.1 294.9h.01M251.1 296.1h.01M278.1 371.5h.01M215.6 350.8h.01M297.4 280.2h.01M259.3 340.9h.01M282.7 350.6h.01M244.8 363.9h.01M245.9 265.0h.01M196.5 282.0h.01M313.4 291.9h.01M159.0 288.4h.01M377.7 295.0h.01M308.1 305.4h.01M296.8 341.9h.01M363.5 362.3h.01M290.9 337.2h.01M295.6 303.8h.01M267.9 354.4h.01M326.5 261.8h.01M395.7 354.4h.01M280.3 282.6h.01M292.0 364.2h.01M242.1 334.7h.01M227.6 260.2h.01M376.6 303.7h.01M307.1 293.7h.01M156.0 260.7h.01M113.9 298.9h.01M295.2 350.3h.01M286.9 370.3h.01M341.2 283.2h.01M368.2 351.5h.01M297.0 344.9h.01M253.5 334.7h.01M192.3 338.7h.01M355.8 298.3h.01M244.4 366.9h.01M364.8 295.9h.01M398.7 331.8h.01M195.4 350.2h.01M192.2 348.2h.01M342.5 367.7h.01M341.7 341.5h.01M354.8 308.3h.01M302.7 338.3h.01M204.2 328.6h.01M322.2 268.9h.01M145.7 299.6h.01M333.5 337.2h.01M298.2 260.5h.01M351.4 344.9h.01M158.2 333.0h.01M362.2 355.2h.01M315.9 302.2h.01M376.9 296.6h.01M276.3 299.5h.01M361.2 297.4h.01M202.7 241.7h.01M364.3 280.0h.01M324.4 340.2h.01M211.4 276.7h.01M390.4 342.2h.01M373.1 357.2h.01M283.3 342.1h.01M259.9 310.7h.01M294.8 285.8h.01M249.1 325.1h.01M392.7 304.9h.01M400.4 294.7h.01M374.1 346.4h.01M234.5 347.2h.01M361.4 278.4h.01M319.0 276.7h.01M363.6 303.1h.01M238.3 298.2h.01M263.7 361.2h.01M278.3 254.4h.01M104.5 303.3h.01M250.0 324.1h.01M249.1 354.6h.01M402.5 348.2h.01M317.7 350.3h.01M379.7 296.1h.01M294.2 296.0h.01M83.8 308.5h.01M344.6 282.6h.01M282.5 352.4h.01M166.0 294.4h.01M251.3 294.1h.01M225.7 304.3h.01M311.0 308.2h.01M240.2 299.9h.01M108.5 305.5h.01M404.5 356.5h.01M317.6 296.0h.01M364.3 294.4h.01M321.9 281.0h.01M248.0 296.2h.01M403.1 353.1h.01M159.7 285.9h.01M371.7 290.0h.01M380.5 353.3h.01M425.4 305.4h.01M195.5 306.6h.01M332.2 292.7h.01M328.7 296.2h.01M360.7 355.9h.01M353.5 304.9h.01M403.4 291.3h.01M311.0 365.0h.01M363.2 333.6h.01M269.3 359.5h.01M113.8 304.0h.01M253.0 297.8h.01M284.2 348.1h.01M269.9 373.6h.01M136.8 340.6h.01M305.5 284.5h.01M313.3 340.3h.01M378.4 252.9h.01M308.5 286.9h.01M361.2 340.9h.01M243.1 285.3h.01M321.4 350.0h.01M151.3 285.0h.01M363.4 339.5h.01M430.7 279.0h.01M301.7 356.6h.01M164.7 267.5h.01M227.1 350.5h.01M282.8 349.9h.01M276.0 295.0h.01M310.5 268.0h.01M347.2 302.5h.01M294.4 359.5h.01M432.9 295.3h.01M296.4 282.5h.01M313.4 332.6h.01M405.0 291.9h.01M309.3 293.4h.01M293.1 339.8h.01M223.8 362.0h.01M190.5 279.7h.01M296.8 358.5h.01M366.1 361.6h.01M146.7 292.5h.01M315.0 268.5h.01M275.6 341.0h.01M200.9 342.5h.01M257.4 262.4h.01M314.3 290.1h.01M256.8 292.6h.01M288.4 340.6h.01M254.8 309.5h.01M343.9 306.6h.01M231.6 292.6h.01M308.3 361.6h.01M358.5 341.0h.01M327.0 367.6h.01M252.2 362.9h.01M363.7 286.4h.01M295.0 265.8h.01M255.0 242.5h.01M368.9 299.3h.01M262.5 285.4h.01M269.9 281.5h.01M281.8 345.6h.01M312.7 297.5h.01M344.8 290.7h.01M366.1 256.7h.01M341.2 269.2h.01M370.9 295.4h.01M322.8 351.7h.01M272.0 346.2h.01M258.7 249.8h.01M255.5 356.9h.01M329.1 366.0h.01M148.1 304.8h.01M355.7 334.8h.01M143.5 259.1h.01M372.2 329.6h.01M168.9 305.8h.01M334.3 285.6h.01M251.1 242.2h.01M299.3 301.5h.01M354.3 289.9h.01M267.3 365.5h.01M226.6 306.4h.01M291.5 348.2h.01M223.7 244.7h.01M248.0 285.8h.01M294.0 277.7h.01M300.6 278.7h.01M153.1 361.3h.01M414.4 342.8h.01M155.6 294.6h.01M312.6 350.2h.01M302.2 294.5h.01M310.4 337.2h.01M299.6 291.5h.01M249.1 299.7h.01M308.4 335.7h.01M244.3 349.9h.01M361.4 277.5h.01M263.8 349.6h.01M317.3 345.0h.01M278.3 337.6h.01M230.7 269.9h.01M313.2 369.8h.01M294.4 287.2h.01M364.3 341.3h.01M263.9 338.1h.01M310.8 292.9h.01M380.7 284.2h.01M201.7 288.0h.01M420.2 283.3h.01M394.2 290.9h.01M255.4 267.7h.01M432.2 286.9h.01M103.3 296.9h.01M310.1 304.5h.01M363.2 343.1h.01M426.0 351.3h.01M321.3 264.5h.01M260.9 272.1h.01M389.5 346.3h.01M340.7 287.3h.01M338.8 345.0h.01M343.5 340.6h.01M341.7 281.0h.01M298.2 349.9h.01M374.3 361.1h.01M174.6 305.6h.01M379.9 309.1h.01M389.3 304.0h.01M141.2 350.8h.01M296.4 308.2h.01M376.4 254.6h.01M120.0 298.0h.01M341.3 336.7h.01M325.2 249.4h.01M392.5 360.4h.01M265.7 341.1h.01M391.9 341.8h.01M287.6 367.7h.01M342.1 302.6h.01M254.8 302.2h.01M226.8 257.5h.01M369.2 341.7h.01M288.4 348.1h.01M284.1 336.9h.01M265.6 371.1h.01M107.3 333.7h.01M275.7 266.2h.01M327.8 343.8h.01M364.5 307.5h.01M399.4 328.9h.01M196.8 266.5h.01M312.4 304.2h.01M280.4 337.9h.01M401.4 273.7h.01M337.9 250.2h.01M336.4 371.4h.01M378.6 292.2h.01M316.7 337.2h.01M311.7 297.9h.01M327.8 372.2h.01M188.1 276.7h.01M129.7 351.5h.01M352.5 365.4h.01M372.2 264.2h.01M162.9 303.2h.01M355.3 269.1h.01M366.9 287.8h.01M379.8 360.6h.01M215.9 250.7h.01M365.3 361.9h.01M232.1 271.9h.01M322.4 286.8h.01M356.4 362.8h.01M398.7 292.3h.01M185.2 249.1h.01M257.8 350.4h.01M155.2 370.7h.01M335.6 342.8h.01M319.4 338.5h.01M267.1 294.6h.01M341.8 355.6h.01M301.8 358.1h.01M284.2 286.7h.01M307.8 301.9h.01M288.3 345.7h.01M330.6 345.4h.01M341.0 300.4h.01M361.9 246.8h.01M192.4 302.7h.01M117.5 292.3h.01M325.4 299.8h.01M337.1 345.2h.01M265.0 335.4h.01M400.8 297.2h.01M286.5 301.8h.01M127.4 308.0h.01M285.0 307.4h.01M245.6 246.8h.01M367.5 287.9h.01M300.3 283.3h.01M304.8 345.7h.01M289.9 274.2h.01M284.9 277.2h.01M333.0 287.7h.01M325.4 291.2h.01M301.1 360.6h.01M276.6 338.5h.01M207.1 255.7h.01M254.9 263.9h.01M243.9 300.5h.01M174.5 276.5h.01M266.6 266.2h.01M346.2 298.7h.01M430.1 335.3h.01M330.7 334.0h.01M301.6 265.5h.01M332.6 337.2h.01M427.3 294.0h.01M332.5 297.7h.01M397.4 270.4h.01M341.8 281.7h.01M346.6 251.1h.01M301.8 306.8h.01M343.0 292.2h.01M268.0 295.8h.01M325.3 260.2h.01M300.6 347.9h.01M426.2 346.2h.01M410.5 348.3h.01M278.2 339.0h.01M300.9 274.6h.01M277.4 354.4h.01M195.9 277.3h.01M148.3 272.3h.01M258.8 309.1h.01M460.2 343.1h.01M168.9 264.3h.01M451.9 344.3h.01M308.8 335.2h.01M412.9 341.4h.01M400.6 281.0h.01M279.4 268.4h.01M420.7 367.2h.01M326.8 270.7h.01M337.1 340.5h.01M348.1 345.8h.01M239.8 263.3h.01M399.5 331.8h.01M321.7 274.6h.01M338.4 276.7h.01M204.7 361.2h.01M310.3 277.5h.01M244.1 243.4h.01M284.4 361.8h.01M262.8 298.0h.01M311.7 285.9h.01M204.8 346.9h.01M110.3 303.0h.01M210.9 297.1h.01M338.5 334.6h.01M259.8 291.4h.01M289.8 302.6h.01M252.9 305.1h.01M254.4 260.7h.01M97.3 305.2h.01M221.8 373.8h.01M329.5 340.0h.01M201.3 373.5h.01M253.8 296.5h.01M394.9 296.2h.01M264.8 356.3h.01M349.0 303.6h.01M320.7 274.5h.01M405.9 338.0h.01M356.1 281.9h.01M342.6 345.9h.01M167.3 343.1h.01M315.1 356.0h.01M361.8 274.2h.01M318.6 298.7h.01M248.7 348.8h.01M279.3 284.3h.01M300.9 342.4h.01M320.0 366.9h.01M352.8 244.5h.01M271.4 267.2h.01M239.4 286.4h.01M107.2 295.2h.01M283.5 297.5h.01M304.2 342.5h.01M262.9 282.3h.01M323.8 279.9h.01M283.4 294.6h.01M357.5 359.3h.01M267.3 353.4h.01M269.6 276.6h.01M268.2 298.0h.01M249.6 373.1h.01M393.7 294.9h.01M324.2 286.4h.01M333.3 365.4h.01M271.5 327.0h.01M223.3 254.9h.01M282.0 298.9h.01M301.4 373.2h.01M326.1 342.8h.01M359.1 307.9h.01M350.0 275.8h.01M354.1 273.6h.01M175.6 288.4h.01M185.1 296.7h.01M293.2 369.3h.01M325.8 339.2h.01M303.8 299.9h.01M302.8 244.8h.01M140.5 284.0h.01M272.2 364.8h.01M255.9 295.4h.01M320.6 284.3h.01M169.2 373.0h.01M361.2 366.5h.01M308.5 284.3h.01M426.4 272.4h.01M236.4 276.9h.01M358.0 302.0h.01M349.4 357.1h.01M193.8 288.5h.01M249.0 370.4h.01M194.9 364.5h.01M357.4 334.2h.01M294.3 259.3h.01M253.7 298.5h.01M267.0 357.0h.01M257.4 356.7h.01M235.7 341.1h.01M323.5 360.6h.01M269.9 305.9h.01M285.4 285.8h.01M365.5 295.1h.01M350.7 337.3h.01M373.0 366.0h.01M339.5 342.8h.01M338.0 300.4h.01M258.9 282.4h.01M255.2 284.7h.01M344.9 334.3h.01M297.3 332.8h.01M132.3 343.6h.01M342.9 343.3h.01M106.9 279.1h.01M338.3 302.5h.01M315.1 277.8h.01M302.9 306.9h.01M359.7 340.8h.01M320.8 271.7h.01M307.3 346.9h.01M397.0 338.5h.01M232.0 278.9h.01M258.6 293.4h.01M304.2 303.7h.01M314.0 363.2h.01M242.0 373.5h.01M241.7 339.3h.01M309.1 294.6h.01M331.0 336.4h.01M91.7 304.7h.01M350.6 301.2h.01M288.0 275.5h.01M322.1 305.9h.01M393.6 346.3h.01M234.3 303.0h.01M301.9 292.1h.01M194.5 331.5h.01M290.1 287.6h.01M276.5 304.6h.01M329.4 294.1h.01M328.6 270.2h.01M323.6 298.9h.01M245.1 337.4h.01M297.0 339.4h.01M425.9 356.7h.01M332.1 348.1h.01M165.2 369.8h.01M354.7 350.6h.01M279.9 265.3h.01M265.6 336.0h.01M261.8 302.3h.01M376.4 341.5h.01M324.7 298.1h.01M261.2 254.5h.01M276.0 301.0h.01M282.0 345.4h.01M281.2 282.3h.01M220.9 370.4h.01M187.5 339.9h.01M402.9 334.2h.01M338.4 297.6h.01M290.2 339.9h.01M326.9 283.3h.01M198.7 366.7h.01M415.9 343.9h.01M377.1 342.4h.01M292.0 263.0h.01M313.2 359.9h.01M383.8 353.6h.01M278.4 276.2h.01M180.0 289.1h.01M197.1 278.2h.01M266.0 307.9h.01M335.2 345.1h.01M303.3 304.4h.01M296.7 272.9h.01M270.0 310.5h.01M333.4 353.3h.01M246.3 273.8h.01M343.9 297.1h.01M328.7 346.7h.01M413.8 273.4h.01M432.8 300.5h.01M321.9 346.5h.01M179.1 345.3h.01M340.9 346.1h.01M247.6 341.1h.01M292.0 308.2h.01M324.9 273.1h.01M163.5 343.7h.01M110.7 309.9h.01M191.6 281.4h.01M203.3 261.8h.01M234.8 341.6h.01M286.5 265.5h.01M416.5 335.5h.01M379.8 331.4h.01M159.7 288.9h.01M328.7 361.7h.01M191.6 252.7h.01M378.4 278.1h.01M276.7 288.8h.01M305.8 363.8h.01M98.7 304.4h.01M139.2 344.5h.01M282.7 292.6h.01M127.9 304.1h.01M233.5 270.0h.01M260.9 293.9h.01M406.2 340.1h.01M369.7 274.9h.01M235.4 302.5h.01M175.2 255.4h.01M126.6 307.1h.01M370.6 368.7h.01M303.0 297.5h.01M263.9 266.4h.01M266.1 325.6h.01M346.9 291.1h.01M137.2 298.7h.01M250.6 350.8h.01M311.6 300.1h.01M467.5 341.6h.01M261.9 296.8h.01M158.0 357.8h.01M326.9 297.0h.01M278.8 340.0h.01M156.9 339.7h.01M385.6 343.1h.01M261.4 258.1h.01M345.6 294.5h.01M292.7 275.6h.01M268.4 356.2h.01M125.2 293.8h.01M368.5 282.0h.01M289.7 272.4h.01M125.1 301.7h.01M172.8 282.9h.01M311.0 346.1h.01M256.8 259.1h.01M408.2 338.9h.01M272.0 336.5h.01M290.1 340.5h.01M272.2 348.8h.01M424.9 310.2h.01M320.8 266.5h.01M281.1 266.7h.01M389.6 289.7h.01M390.2 339.1h.01M288.6 349.0h.01M243.5 366.2h.01M272.3 333.1h.01M217.4 366.1h.01M377.4 370.6h.01M306.8 341.1h.01M219.1 275.6h.01M313.8 269.7h.01M303.1 349.2h.01M339.6 274.8h.01M378.6 346.0h.01M121.0 302.8h.01M92.4 301.0h.01M226.6 269.9h.01M150.9 373.0h.01M358.8 346.3h.01M320.4 338.9h.01M301.0 369.8h.01M335.9 265.0h.01M332.3 286.9h.01M340.7 293.3h.01M324.1 373.1h.01M332.9 333.0h.01M246.9 276.1h.01M275.5 357.9h.01M240.9 277.9h.01M150.2 294.0h.01M280.6 284.3h.01M281.4 302.2h.01M329.6 288.9h.01M389.7 295.9h.01M253.2 253.7h.01M373.3 255.8h.01M232.0 247.3h.01M305.9 350.8h.01M279.4 266.4h.01M273.0 268.8h.01M299.4 249.7h.01M355.6 369.6h.01M422.2 291.2h.01M235.5 276.9h.01M112.4 300.0h.01M412.5 339.7h.01M147.6 344.8h.01M237.2 268.3h.01M311.6 277.7h.01M419.8 353.4h.01M263.3 269.2h.01M297.2 346.5h.01M288.0 284.4h.01M255.0 340.5h.01M279.6 370.7h.01M231.6 247.3h.01M420.0 343.4h.01M367.6 370.6h.01M390.5 243.1h.01M341.8 362.1h.01M204.3 338.5h.01M315.2 330.3h.01M319.4 312.2h.01M303.9 347.5h.01M290.3 349.8h.01M300.1 299.7h.01M320.9 363.6h.01M277.8 265.7h.01M316.0 352.7h.01M169.8 276.9h.01M392.4 280.1h.01M167.4 333.6h.01M344.7 306.0h.01M260.9 298.1h.01M376.0 304.0h.01M316.2 279.0h.01M411.3 339.8h.01M200.9 242.2h.01M398.3 284.1h.01M384.0 344.7h.01M421.5 285.7h.01M353.2 373.5h.01M200.2 359.3h.01M309.6 346.0h.01M326.9 275.7h.01M352.6 348.9h.01M355.6 345.9h.01M198.5 341.4h.01M119.0 305.6h.01M299.1 291.8h.01M345.1 364.7h.01M250.7 329.1h.01M342.2 293.1h.01M392.2 347.4h.01M219.6 345.2h.01M391.8 295.9h.01M300.0 333.1h.01M297.5 366.5h.01M381.4 303.2h.01M351.3 293.5h.01M179.3 267.6h.01M403.0 345.9h.01M197.9 271.9h.01M347.5 352.3h.01M259.8 262.8h.01M178.5 286.0h.01M279.6 296.4h.01M408.4 337.2h.01M132.2 304.9h.01M266.5 287.8h.01M287.9 295.0h.01M321.2 343.6h.01M283.1 290.8h.01M430.9 344.4h.01M261.8 334.3h.01M177.6 298.7h.01M191.9 279.0h.01M313.0 258.3h.01M295.9 297.3h.01M371.8 301.7h.01M364.8 299.0h.01M376.6 287.8h.01M270.0 272.6h.01M321.6 302.3h.01M291.0 284.8h.01M314.5 285.7h.01M374.5 292.9h.01M280.3 340.5h.01M120.1 303.2h.01M335.6 359.3h.01M91.0 306.8h.01M324.0 368.8h.01M314.5 287.1h.01M286.6 366.1h.01M351.6 331.6h.01M250.5 294.8h.01M257.9 306.5h.01M307.1 346.6h.01M355.3 302.8h.01M263.4 303.6h.01M227.0 269.0h.01M165.8 370.6h.01M298.3 329.4h.01M238.3 331.0h.01M290.3 241.5h.01M250.9 275.2h.01M335.2 296.8h.01M365.0 366.4h.01M169.5 363.3h.01M384.4 285.3h.01M350.9 353.2h.01M144.6 244.1h.01M169.7 244.6h.01M175.2 244.9h.01M184.8 244.3h.01M192.4 242.9h.01M438.0 244.3h.01M421.7 246.3h.01M462.8 248.8h.01M470.8 251.3h.01M413.8 250.8h.01M453.8 252.0h.01M432.8 254.5h.01M447.2 254.5h.01M415.8 256.3h.01M407.5 256.3h.01M411.2 254.7h.01M400.0 255.0h.01M397.5 257.0h.01M401.7 259.2h.01M482.5 258.0h.01M495.0 260.0h.01M448.3 260.7h.01M410.5 261.7h.01M459.5 263.3h.01M455.0 265.5h.01M455.8 267.5h.01M470.8 264.0h.01M466.7 265.8h.01M474.5 267.8h.01M439.5 265.8h.01M447.0 267.0h.01M400.0 265.0h.01M419.5 268.0h.01M429.2 268.3h.01M440.7 265.7h.01M465.0 270.8h.01M461.5 273.5h.01M440.3 272.0h.01M490.8 275.5h.01M444.0 281.0h.01M454.7 280.6h.01M461.3 280.7h.01M460.0 285.0h.01M468.4 286.3h.01M457.3 288.3h.01M459.3 291.7h.01M450.0 293.7h.01M442.7 294.3h.01M449.3 298.3h.01M482.0 290.7h.01M478.0 295.0h.01M482.7 294.5h.01M477.6 300.3h.01M484.7 302.3h.01M463.3 301.0h.01M456.7 303.0h.01M522.9 290.1h.01M504.4 297.3h.01M516.5 302.8h.01M521.3 313.7h.01M526.0 340.0h.01M507.3 347.7h.01M474.7 350.3h.01M464.5 351.7h.01M462.8 353.0h.01M453.3 350.0h.01M456.7 351.2h.01M451.2 353.7h.01M450.3 356.7h.01M439.5 352.0h.01M434.2 350.0h.01M437.2 359.7h.01M445.3 360.0h.01M452.0 362.5h.01M448.3 364.7h.01M462.5 360.3h.01M434.7 369.5h.01M431.3 372.5h.01M444.5 369.2h.01M308.4 399.0h.01M209.1 411.4h.01M282.8 386.0h.01M222.1 401.4h.01M248.1 376.7h.01M291.7 401.6h.01M232.5 376.3h.01M249.0 375.6h.01M227.3 395.6h.01M253.1 395.7h.01M226.8 375.6h.01M244.7 399.9h.01M201.1 376.5h.01M308.8 374.4h.01M221.3 379.3h.01M256.4 398.9h.01M297.9 380.9h.01M326.5 403.3h.01M320.6 386.8h.01M257.0 374.9h.01M222.7 394.0h.01M231.1 383.4h.01M269.3 380.3h.01M299.8 410.0h.01M210.7 386.7h.01M220.5 393.9h.01M330.3 375.9h.01M245.0 393.2h.01M223.5 400.1h.01M328.8 395.5h.01M308.0 390.7h.01M223.2 376.5h.01M216.6 375.9h.01M292.7 383.7h.01M319.0 378.9h.01M317.8 382.8h.01M333.8 380.9h.01M233.8 395.6h.01M246.8 397.2h.01M321.9 374.1h.01M274.4 383.2h.01M203.9 389.6h.01M333.1 382.0h.01M206.1 385.0h.01M286.9 396.2h.01M234.4 409.7h.01M307.9 392.9h.01M217.4 411.5h.01M246.3 381.1h.01M243.5 403.9h.01M203.5 377.8h.01M222.2 382.2h.01M258.2 394.4h.01M293.4 402.3h.01M272.9 383.3h.01M303.7 387.5h.01M246.6 376.3h.01M274.7 402.8h.01M234.4 400.8h.01M229.2 377.2h.01M302.2 385.6h.01M213.6 388.8h.01M329.2 402.1h.01M236.0 376.4h.01M212.9 383.5h.01M326.1 382.7h.01M258.9 411.8h.01M275.9 390.6h.01M269.0 402.7h.01M324.3 383.7h.01M201.6 380.9h.01M202.8 399.0h.01M290.0 403.4h.01M292.2 383.2h.01M240.0 376.1h.01M286.6 385.1h.01M293.3 409.5h.01M260.6 394.1h.01M238.7 383.9h.01M295.1 388.6h.01M246.3 380.4h.01M314.1 381.8h.01M217.2 380.5h.01M250.5 412.1h.01M253.1 381.7h.01M205.9 393.4h.01M247.7 386.7h.01M310.1 376.2h.01M283.4 379.0h.01M298.9 398.1h.01M289.4 379.9h.01M236.9 380.9h.01M260.3 406.8h.01M289.0 384.9h.01M263.2 386.7h.01M253.1 380.4h.01M270.8 388.8h.01M224.0 376.1h.01M276.5 386.5h.01M292.9 407.3h.01M212.0 384.2h.01M243.9 392.8h.01M269.0 383.8h.01M242.6 374.7h.01M292.0 388.5h.01M323.6 386.1h.01M289.4 404.0h.01M246.8 383.5h.01M220.8 393.2h.01M218.5 390.7h.01M317.0 386.2h.01M316.3 379.0h.01M321.2 397.6h.01M268.2 390.9h.01M282.3 393.1h.01M262.0 393.7h.01M247.6 404.1h.01M284.2 386.4h.01M204.6 393.8h.01M308.2 392.0h.01M233.0 382.9h.01M321.7 374.3h.01M264.8 377.1h.01M303.9 398.7h.01M202.0 389.0h.01M267.9 407.1h.01M324.7 391.7h.01M243.1 375.6h.01M302.3 383.4h.01M305.9 392.6h.01M250.6 410.8h.01M213.0 401.2h.01M213.1 385.5h.01M242.0 396.8h.01M289.7 388.2h.01M235.0 377.7h.01M236.8 406.0h.01M213.6 403.3h.01M225.4 398.9h.01M332.6 381.2h.01M247.7 396.6h.01M289.2 389.8h.01M265.2 379.3h.01M261.3 402.3h.01M278.5 383.6h.01M206.0 393.8h.01M254.5 403.2h.01M294.4 402.4h.01M301.1 401.2h.01M311.7 387.0h.01M294.8 382.7h.01M262.2 398.0h.01M200.4 375.8h.01M300.0 393.3h.01M239.6 396.9h.01M220.9 381.3h.01M256.3 385.3h.01M305.2 380.0h.01M222.8 403.1h.01M203.8 409.4h.01M326.6 407.1h.01M243.3 405.0h.01M276.3 374.9h.01M205.9 395.8h.01M322.5 409.3h.01M305.7 398.5h.01M239.9 408.9h.01M262.5 406.0h.01M220.5 405.7h.01M333.1 377.9h.01M282.0 381.2h.01M328.3 386.7h.01M229.7 116.7h.01M231.7 120.8h.01M258.9 123.8h.01M247.7 131.3h.01M286.0 126.3h.01M200.0 150.8h.01M249.2 151.8h.01M263.3 150.0h.01M243.8 156.2h.01M184.7 163.3h.01M202.5 163.8h.01M208.5 164.7h.01M242.7 162.7h.01M256.7 164.0h.01M276.3 159.2h.01M290.3 162.2h.01M262.5 162.8h.01M261.3 165.3h.01M223.3 169.2h.01M229.7 170.3h.01M257.2 170.0h.01M191.2 173.3h.01M255.5 174.3h.01M282.2 172.3h.01M298.7 173.3h.01M296.2 175.0h.01M195.7 180.5h.01M222.5 179.2h.01M216.2 181.3h.01M237.2 179.7h.01M239.5 182.7h.01M244.2 179.7h.01M207.5 184.5h.01M220.7 183.3h.01M221.8 186.0h.01M256.7 182.2h.01M259.7 180.8h.01M252.3 186.3h.01M260.8 180.3h.01M263.7 181.3h.01M267.5 183.3h.01M271.7 183.0h.01M290.8 181.7h.01M288.0 186.7h.01M289.2 187.8h.01M290.8 190.0h.01M294.7 190.0h.01M283.0 192.0h.01M193.3 189.5h.01M182.8 191.7h.01M217.0 195.5h.01M232.8 193.3h.01M235.0 192.3h.01M241.7 192.8h.01M244.7 191.7h.01M248.3 194.7h.01M196.7 198.3h.01M202.7 198.7h.01M209.7 198.3h.01M211.0 196.3h.01M229.2 200.5h.01M240.0 198.7h.01M245.0 197.8h.01M245.8 200.8h.01M256.7 200.2h.01M271.7 196.2h.01M277.5 197.2h.01M298.0 199.7h.01M316.7 200.0h.01M329.2 198.8h.01M193.8 203.3h.01M206.7 203.3h.01M210.0 201.7h.01M229.2 203.6h.01M246.7 203.3h.01M262.5 200.8h.01M263.3 202.8h.01M270.8 201.3h.01M285.8 200.8h.01M285.0 203.5h.01M177.5 204.9h.01M186.6 205.3h.01M185.1 206.8h.01M183.4 208.2h.01M153.9 217.5h.01M164.1 216.6h.01M177.8 217.3h.01M176.1 219.3h.01M190.1 218.7h.01M189.9 220.8h.01M157.1 227.1h.01M162.1 227.8h.01M176.4 227.8h.01M136.4 229.2h.01M142.8 232.9h.01M153.3 237.7h.01M139.9 242.2h.01M174.1 233.6h.01M179.0 233.6h.01M181.7 234.8h.01M188.0 230.1h.01M187.8 231.7h.01M186.4 237.3h.01M186.6 240.3h.01M192.4 234.1h.01M193.9 236.8h.01M197.7 237.9h.01M199.8 227.4h.01M202.9 206.1h.01M215.3 206.1h.01M234.8 206.7h.01M221.9 211.4h.01M226.0 212.8h.01M234.4 212.6h.01M239.1 215.4h.01M242.7 209.9h.01M245.3 211.7h.01M255.5 211.1h.01M259.0 214.6h.01M262.2 212.3h.01M265.7 217.7h.01M211.7 214.2h.01M217.0 217.2h.01M203.3 219.8h.01M205.0 221.6h.01M213.4 221.6h.01M220.2 224.3h.01M219.2 227.4h.01M235.9 225.1h.01M235.6 227.8h.01M243.5 225.4h.01M238.8 228.0h.01M241.2 230.1h.01M250.5 227.4h.01M255.8 222.2h.01M258.7 223.3h.01M261.6 223.9h.01M263.3 226.8h.01M201.5 227.4h.01M205.6 226.8h.01M200.9 232.1h.01M208.5 232.4h.01M216.7 231.7h.01M238.8 232.1h.01M238.3 234.4h.01M251.1 230.9h.01M254.6 231.3h.01M257.5 230.9h.01M263.9 230.6h.01M255.8 233.8h.01M258.7 235.0h.01M262.8 235.0h.01M200.3 236.8h.01M205.0 239.1h.01M206.2 240.8h.01M212.9 237.6h.01M216.7 237.9h.01M216.7 240.8h.01M211.8 242.0h.01M224.3 237.9h.01M226.6 236.8h.01M227.8 238.5h.01M233.0 240.3h.01M234.2 238.5h.01M237.7 242.0h.01M238.6 236.8h.01M244.1 239.1h.01M248.2 237.6h.01M267.4 238.5h.01M203.5 222.5h.01M204.5 235.0h.01M240.0 233.0h.01M256.5 232.5h.01M253.0 236.0h.01M225.5 240.0h.01M236.0 240.5h.01M260.5 236.5h.01M247.0 240.5h.01M252.0 240.0h.01M290.4 206.1h.01M299.4 209.7h.01M275.5 211.7h.01M275.7 214.6h.01M271.4 213.4h.01M281.1 211.1h.01M281.9 214.9h.01M266.8 217.5h.01M299.7 215.8h.01M303.3 218.7h.01M303.3 221.0h.01M303.5 223.3h.01M297.4 221.9h.01M310.5 217.3h.01M311.7 223.1h.01M322.5 218.1h.01M322.8 220.4h.01M326.0 215.2h.01M272.2 221.0h.01M281.3 221.6h.01M273.4 225.1h.01M272.6 226.8h.01M275.5 228.0h.01M290.7 225.7h.01M294.5 228.2h.01M283.7 228.6h.01M283.7 230.9h.01M317.5 225.1h.01M319.5 230.6h.01M315.8 234.8h.01M265.6 229.2h.01M275.7 232.7h.01M276.1 235.0h.01M268.5 238.5h.01M271.4 240.3h.01M276.7 238.5h.01M279.2 237.3h.01M274.9 240.3h.01M286.6 240.6h.01M289.2 239.7h.01M293.6 240.3h.01M300.0 237.9h.01M300.2 239.7h.01M310.3 239.4h.01M317.5 239.7h.01M274.0 230.0h.01M277.5 241.0h.01M270.0 236.5h.01M282.5 239.5h.01M343.3 205.5h.01M349.2 207.5h.01M354.2 210.8h.01M335.0 210.5h.01M337.0 211.7h.01M342.5 213.0h.01M330.8 215.8h.01M335.3 219.7h.01M357.5 219.7h.01M350.5 222.2h.01M388.7 208.8h.01M371.3 227.0h.01M378.7 228.3h.01M385.0 230.0h.01M390.0 230.5h.01M342.8 227.8h.01M333.8 229.2h.01M341.3 232.8h.01M345.3 235.5h.01M350.8 234.5h.01M336.2 236.7h.01M354.7 240.0h.01M352.0 241.7h.01M366.7 240.5h.01M398.3 240.0h.01M410.8 223.7h.01M411.2 232.0h.01M412.2 234.5h.01M441.7 239.5h.01M450.3 241.3h.01M192.8 415.8h.01M204.2 424.2h.01M216.2 427.8h.01M218.7 426.7h.01M232.8 432.5h.01M211.3 439.2h.01M240.8 443.0h.01M250.0 440.8h.01M253.8 443.0h.01M224.5 452.5h.01M239.2 482.8h.01M226.7 419.2h.01M227.5 420.8h.01M232.8 418.8h.01M237.5 421.7h.01M238.7 420.0h.01M249.7 419.7h.01M258.0 425.0h.01M233.3 414.2h.01M296.7 414.2h.01M307.2 415.3h.01M308.7 421.7h.01M320.8 417.2h.01M322.8 416.3h.01M329.5 415.8h.01M333.8 414.2h.01M354.7 414.7h.01M258.3 414.2h.01M259.0 416.5h.01M266.3 421.2h.01M265.3 423.7h.01M267.2 428.3h.01M318.8 431.2h.01M262.5 436.3h.01M271.7 443.8h.01M299.3 444.5h.01M315.7 457.7h.01M362.2 441.5h.01M338.0 377.2h.01M343.3 376.7h.01M344.7 377.8h.01M351.7 376.7h.01M353.3 379.2h.01M358.8 374.7h.01M372.0 377.5h.01M394.2 377.2h.01M399.5 378.7h.01M404.2 376.3h.01M416.2 378.0h.01M421.7 380.0h.01M435.5 375.3h.01M383.7 380.5h.01M389.2 383.7h.01M395.0 386.2h.01M405.8 382.0h.01M408.3 382.7h.01M338.0 383.0h.01M344.7 383.7h.01M353.7 384.5h.01M359.5 382.0h.01M351.7 390.0h.01M346.3 392.0h.01M362.7 391.7h.01M335.0 390.8h.01M335.0 396.5h.01M392.2 396.7h.01M379.5 401.2h.01M350.3 400.7h.01M352.4 402.3h.01M335.0 404.0h.01M170.8 376.2h.01M172.8 380.0h.01M190.8 374.5h.01M192.2 379.2h.01M190.0 381.7h.01M188.3 384.2h.01M185.8 385.8h.01M181.7 383.3h.01M174.2 393.8h.01M177.2 400.3h.01M190.8 390.8h.01M188.3 395.5h.01M197.8 393.3h.01M197.5 395.8h.01"/>
<path stroke="#ff0000" d="M308.4 399.0h.01M209.1 411.4h.01M282.8 386.0h.01M222.1 401.4h.01M248.1 376.7h.01M291.7 401.6h.01M232.5 376.3h.01M249.0 375.6h.01M227.3 395.6h.01M253.1 395.7h.01M226.8 375.6h.01M244.7 399.9h.01M201.1 376.5h.01M308.8 374.4h.01M221.3 379.3h.01M256.4 398.9h.01M297.9 380.9h.01M326.5 403.3h.01M320.6 386.8h.01M257.0 374.9h.01M222.7 394.0h.01M231.1 383.4h.01M269.3 380.3h.01M299.8 410.0h.01M210.7 386.7h.01M220.5 393.9h.01M330.3 375.9h.01M245.0 393.2h.01M223.5 400.1h.01M328.8 395.5h.01M308.0 390.7h.01M223.2 376.5h.01M216.6 375.9h.01M292.7 383.7h.01M319.0 378.9h.01M317.8 382.8h.01M333.8 380.9h.01M233.8 395.6h.01M246.8 397.2h.01M321.9 374.1h.01M274.4 383.2h.01M203.9 389.6h.01M333.1 382.0h.01M206.1 385.0h.01M286.9 396.2h.01M234.4 409.7h.01M307.9 392.9h.01M217.4 411.5h.01M246.3 381.1h.01M243.5 403.9h.01M203.5 377.8h.01M222.2 382.2h.01M258.2 394.4h.01M293.4 402.3h.01M272.9 383.3h.01M303.7 387.5h.01M246.6 376.3h.01M274.7 402.8h.01M234.4 400.8h.01M229.2 377.2h.01M302.2 385.6h.01M213.6 388.8h.01M329.2 402.1h.01M236.0 376.4h.01M212.9 383.5h.01M326.1 382.7h.01M258.9 411.8h.01M275.9 390.6h.01M269.0 402.7h.01M324.3 383.7h.01M201.6 380.9h.01M202.8 399.0h.01M290.0 403.4h.01M292.2 383.2h.01M240.0 376.1h.01M286.6 385.1h.01M293.3 409.5h.01M260.6 394.1h.01M238.7 383.9h.01M295.1 388.6h.01M246.3 380.4h.01M314.1 381.8h.01M217.2 380.5h.01M250.5 412.1h.01M253.1 381.7h.01M205.9 393.4h.01M247.7 386.7h.01M310.1 376.2h.01M283.4 379.0h.01M298.9 398.1h.01M289.4 379.9h.01M236.9 380.9h.01M260.3 406.8h.01M289.0 384.9h.01M263.2 386.7h.01M253.1 380.4h.01M270.8 388.8h.01M224.0 376.1h.01M276.5 386.5h.01M292.9 407.3h.01M212.0 384.2h.01M243.9 392.8h.01M269.0 383.8h.01M242.6 374.7h.01M292.0 388.5h.01M323.6 386.1h.01M289.4 404.0h.01M246.8 383.5h.01M220.8 393.2h.01M218.5 390.7h.01M317.0 386.2h.01M316.3 379.0h.01M321.2 397.6h.01M268.2 390.9h.01M282.3 393.1h.01M262.0 393.7h.01M247.6 404.1h.01M284.2 386.4h.01M204.6 393.8h.01M308.2 392.0h.01M233.0 382.9h.01M321.7 374.3h.01M264.8 377.1h.01M303.9 398.7h.01M202.0 389.0h.01M267.9 407.1h.01M324.7 391.7h.01M243.1 375.6h.01M302.3 383.4h.01M305.9 392.6h.01M250.6 410.8h.01M213.0 401.2h.01M213.1 385.5h.01M242.0 396.8h.01M289.7 388.2h.01M235.0 377.7h.01M236.8 406.0h.01M213.6 403.3h.01M225.4 398.9h.01M332.6 381.2h.01M247.7 396.6h.01M289.2 389.8h.01M265.2 379.3h.01M261.3 402.3h.01M278.5 383.6h.01M206.0 393.8h.01M254.5 403.2h.01M294.4 402.4h.01M301.1 401.2h.01M311.7 387.0h.01M294.8 382.7h.01M262.2 398.0h.01M200.4 375.8h.01M300.0 393.3h.01M239.6 396.9h.01M220.9 381.3h.01M256.3 385.3h.01M305.2 380.0h.01M222.8 403.1h.01M203.8 409.4h.01M326.6 407.1h.01M243.3 405.0h.01M276.3 374.9h.01M205.9 395.8h.01M322.5 409.3h.01M305.7 398.5h.01M239.9 408.9h.01M262.5 406.0h.01M220.5 405.7h.01M333.1 377.9h.01M282.0 381.2h.01M328.3 386.7h.01M229.7 116.7h.01M231.7 120.8h.01M258.9 123.8h.01M247.7 131.3h.01M286.0 126.3h.01M200.0 150.8h.01M249.2 151.8h.01M263.3 150.0h.01M243.8 156.2h.01M184.7 163.3h.01M202.5 163.8h.01M208.5 164.7h.01M242.7 162.7h.01M256.7 164.0h.01M276.3 159.2h.01M290.3 162.2h.01M262.5 162.8h.01M261.3 165.3h.01M223.3 169.2h.01M229.7 170.3h.01M257.2 170.0h.01M191.2 173.3h.01M255.5 174.3h.01M282.2 172.3h.01M298.7 173.3h.01M296.2 175.0h.01M195.7 180.5h.01M222.5 179.2h.01M216.2 181.3h.01M237.2 179.7h.01M239.5 182.7h.01M244.2 179.7h.01M207.5 184.5h.01M220.7 183.3h.01M221.8 186.0h.01M256.7 182.2h.01M259.7 180.8h.01M252.3 186.3h.01M260.8 180.3h.01M263.7 181.3h.01M267.5 183.3h.01M271.7 183.0h.01M290.8 181.7h.01M288.0 186.7h.01M289.2 187.8h.01M290.8 190.0h.01M294.7 190.0h.01M283.0 192.0h.01M193.3 189.5h.01M182.8 191.7h.01M217.0 195.5h.01M232.8 193.3h.01M235.0 192.3h.01M241.7 192.8h.01M244.7 191.7h.01M248.3 194.7h.01M196.7 198.3h.01M202.7 198.7h.01M209.7 198.3h.01M211.0 196.3h.01M229.2 200.5h.01M240.0 198.7h.01M245.0 197.8h.01M245.8 200.8h.01M256.7 200.2h.01M271.7 196.2h.01M277.5 197.2h.01M298.0 199.7h.01M316.7 200.0h.01M329.2 198.8h.01M193.8 203.3h.01M206.7 203.3h.01M210.0 201.7h.01M229.2 203.6h.01M246.7 203.3h.01M262.5 200.8h.01M263.3 202.8h.01M270.8 201.3h.01M285.8 200.8h.01M285.0 203.5h.01M177.5 204.9h.01M186.6 205.3h.01M185.1 206.8h.01M183.4 208.2h.01M153.9 217.5h.01M164.1 216.6h.01M177.8 217.3h.01M176.1 219.3h.01M190.1 218.7h.01M189.9 220.8h.01M157.1 227.1h.01M162.1 227.8h.01M176.4 227.8h.01M136.4 229.2h.01M142.8 232.9h.01M153.3 237.7h.01M139.9 242.2h.01M174.1 233.6h.01M179.0 233.6h.01M181.7 234.8h.01M188.0 230.1h.01M187.8 231.7h.01M186.4 237.3h.01M186.6 240.3h.01M192.4 234.1h.01M193.9 236.8h.01M197.7 237.9h.01M199.8 227.4h.01M202.9 206.1h.01M215.3 206.1h.01M234.8 206.7h.01M221.9 211.4h.01M226.0 212.8h.01M234.4 212.6h.01M239.1 215.4h.01M242.7 209.9h.01M245.3 211.7h.01M255.5 211.1h.01M259.0 214.6h.01M262.2 212.3h.01M265.7 217.7h.01M211.7 214.2h.01M217.0 217.2h.01M203.3 219.8h.01M205.0 221.6h.01M213.4 221.6h.01M220.2 224.3h.01M219.2 227.4h.01M235.9 225.1h.01M235.6 227.8h.01M243.5 225.4h.01M238.8 228.0h.01M241.2 230.1h.01M250.5 227.4h.01M255.8 222.2h.01M258.7 223.3h.01M261.6 223.9h.01M263.3 226.8h.01M201.5 227.4h.01M205.6 226.8h.01M200.9 232.1h.01M208.5 232.4h.01M216.7 231.7h.01M238.8 232.1h.01M238.3 234.4h.01M251.1 230.9h.01M254.6 231.3h.01M257.5 230.9h.01M263.9 230.6h.01M255.8 233.8h.01M258.7 235.0h.01M262.8 235.0h.01M200.3 236.8h.01M205.0 239.1h.01M206.2 240.8h.01M212.9 237.6h.01M216.7 237.9h.01M216.7 240.8h.01M211.8 242.0h.01M224.3 237.9h.01M226.6 236.8h.01M227.8 238.5h.01M233.0 240.3h.01M234.2 238.5h.01M237.7 242.0h.01M238.6 236.8h.01M244.1 239.1h.01M248.2 237.6h.01M267.4 238.5h.01M203.5 222.5h.01M204.5 235.0h.01M240.0 233.0h.01M256.5 232.5h.01M253.0 236.0h.01M225.5 240.0h.01M236.0 240.5h.01M260.5 236.5h.01M247.0 240.5h.01M252.0 240.0h.01M290.4 206.1h.01M299.4 209.7h.01M275.5 211.7h.01M275.7 214.6h.01M271.4 213.4h.01M281.1 211.1h.01M281.9 214.9h.01M266.8 217.5h.01M299.7 215.8h.01M303.3 218.7h.01M303.3 221.0h.01M303.5 223.3h.01M297.4 221.9h.01M310.5 217.3h.01M311.7 223.1h.01M322.5 218.1h.01M322.8 220.4h.01M326.0 215.2h.01M272.2 221.0h.01M281.3 221.6h.01M273.4 225.1h.01M272.6 226.8h.01M275.5 228.0h.01M290.7 225.7h.01M294.5 228.2h.01M283.7 228.6h.01M283.7 230.9h.01M317.5 225.1h.01M319.5 230.6h.01M315.8 234.8h.01M265.6 229.2h.01M275.7 232.7h.01M276.1 235.0h.01M268.5 238.5h.01M271.4 240.3h.01M276.7 238.5h.01M279.2 237.3h.01M274.9 240.3h.01M286.6 240.6h.01M289.2 239.7h.01M293.6 240.3h.01M300.0 237.9h.01M300.2 239.7h.01M310.3 239.4h.01M317.5 239.7h.01M274.0 230.0h.01M277.5 241.0h.01M270.0 236.5h.01M282.5 239.5h.01M343.3 205.5h.01M349.2 207.5h.01M354.2 210.8h.01M335.0 210.5h.01M337.0 211.7h.01M342.5 213.0h.01M330.8 215.8h.01M335.3 219.7h.01M357.5 219.7h.01M350.5 222.2h.01M388.7 208.8h.01M371.3 227.0h.01M378.7 228.3h.01M385.0 230.0h.01M390.0 230.5h.01M342.8 227.8h.01M333.8 229.2h.01M341.3 232.8h.01M345.3 235.5h.01M350.8 234.5h.01M336.2 236.7h.01M354.7 240.0h.01M352.0 241.7h.01M366.7 240.5h.01M398.3 240.0h.01M410.8 223.7h.01M411.2 232.0h.01M412.2 234.5h.01M441.7 239.5h.01M450.3 241.3h.01M192.8 415.8h.01M204.2 424.2h.01M216.2 427.8h.01M218.7 426.7h.01M232.8 432.5h.01M211.3 439.2h.01M240.8 443.0h.01M250.0 440.8h.01M253.8 443.0h.01M224.5 452.5h.01M239.2 482.8h.01M226.7 419.2h.01M227.5 420.8h.01M232.8 418.8h.01M237.5 421.7h.01M238.7 420.0h.01M249.7 419.7h.01M258.0 425.0h.01M233.3 414.2h.01M296.7 414.2h.01M307.2 415.3h.01M308.7 421.7h.01M320.8 417.2h.01M322.8 416.3h.01M329.5 415.8h.01M333.8 414.2h.01M354.7 414.7h.01M258.3 414.2h.01M259.0 416.5h.01M266.3 421.2h.01M265.3 423.7h.01M267.2 428.3h.01M318.8 431.2h.01M262.5 436.3h.01M271.7 443.8h.01M299.3 444.5h.01M315.7 457.7h.01M362.2 441.5h.01M338.0 377.2h.01M343.3 376.7h.01M344.7 377.8h.01M351.7 376.7h.01M353.3 379.2h.01M358.8 374.7h.01M372.0 377.5h.01M394.2 377.2h.01M399.5 378.7h.01M404.2 376.3h.01M416.2 378.0h.01M421.7 380.0h.01M435.5 375.3h.01M383.7 380.5h.01M389.2 383.7h.01M395.0 386.2h.01M405.8 382.0h.01M408.3 382.7h.01M338.0 383.0h.01M344.7 383.7h.01M353.7 384.5h.01M359.5 382.0h.01M351.7 390.0h.01M346.3 392.0h.01M362.7 391.7h.01M335.0 390.8h.01M335.0 396.5h.01M392.2 396.7h.01M379.5 401.2h.01M350.3 400.7h.01M352.4 402.3h.01M335.0 404.0h.01M170.8 376.2h.01M172.8 380.0h.01M190.8 374.5h.01M192.2 379.2h.01M190.0 381.7h.01M188.3 384.2h.01M185.8 385.8h.01M181.7 383.3h.01M174.2 393.8h.01M177.2 400.3h.01M190.8 390.8h.01M188.3 395.5h.01M197.8 393.3h.01M197.5 395.8h.01"/>
</g>
<g fill="none" stroke="#000" stroke-width="0.75">
<rect x="59.04" y="102.24" width="510.72" height="395.52"/>
<path d="M86.5 497.76H483.25M86.5 497.76v7.2M218.75 497.76v7.2M351 497.76v7.2M483.25 497.76v7.2"/>
<path d="M59.04 460.5V106.75M59.04 460.5h-7.2M59.04 389.75h-7.2M59.04 319h-7.2M59.04 248.25h-7.2M59.04 177.5h-7.2M59.04 106.75h-7.2"/>
</g>
<g stroke="#0000ff" stroke-width="0.75"><path d="M59.04 177.5H569.76M59.04 460.5H569.76"/></g>
<g style="opacity:0.999">
<text x="314.3" y="78" font-size="14.4" font-weight="bold" text-anchor="middle" textLength="245" lengthAdjust="spacingAndGlyphs">Fold change vs average abundance</text>
<text x="314.6" y="551.7" font-size="12" text-anchor="middle" textLength="57.7" lengthAdjust="spacingAndGlyphs">log2Signal</text>
<text transform="translate(12.8,300.1) rotate(-90)" font-size="12" text-anchor="middle" textLength="38.3" lengthAdjust="spacingAndGlyphs">log2FC</text>
<g font-size="12" text-anchor="middle">
<text x="87.1" y="523.7">0.5</text><text x="219.35" y="523.7">1.0</text><text x="351.6" y="523.7">1.5</text><text x="483.85" y="523.7">2.0</text>
<text transform="translate(43.2,460.5) rotate(-90)">-1.0</text>
<text transform="translate(43.2,389.75) rotate(-90)">-0.5</text>
<text transform="translate(43.2,319) rotate(-90)">0.0</text>
<text transform="translate(43.2,248.25) rotate(-90)">0.5</text>
<text transform="translate(43.2,177.5) rotate(-90)">1.0</text>
<text transform="translate(43.2,106.75) rotate(-90)">1.5</text>
</g>
</g>
</svg>
</body></html>
